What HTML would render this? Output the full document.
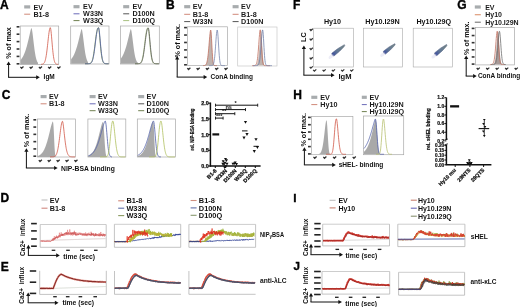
<!DOCTYPE html>
<html><head><meta charset="utf-8"><style>
html,body{margin:0;padding:0;background:#fff;}
svg{display:block;font-family:"Liberation Sans", sans-serif;filter:blur(0.35px);}
</style></head><body>
<svg width="520" height="307" viewBox="0 0 520 307">
<rect width="520" height="307" fill="#fff"/>
<text x="0.0" y="8.5" font-size="12.0" font-weight="bold" text-anchor="start" fill="#000" stroke="#000" stroke-width="0.35">A</text>
<rect x="24.2" y="5.3" width="6.0" height="3.2" fill="#a8acae" stroke="none" stroke-width="0.7"/>
<text x="33.4" y="9.6" font-size="7.2" font-weight="bold" text-anchor="start" fill="#1a1a1a">EV</text>
<line x1="24.2" y1="14.200000000000001" x2="30.2" y2="14.200000000000001" stroke="#d08878" stroke-width="1.0"/>
<text x="33.4" y="16.6" font-size="7.2" font-weight="bold" text-anchor="start" fill="#1a1a1a">B1-8</text>
<rect x="73.5" y="5.1000000000000005" width="6.0" height="3.2" fill="#a8acae" stroke="none" stroke-width="0.7"/>
<text x="83.1" y="9.4" font-size="7.2" font-weight="bold" text-anchor="start" fill="#1a1a1a">EV</text>
<line x1="73.5" y1="13.799999999999999" x2="79.5" y2="13.799999999999999" stroke="#6a6ab8" stroke-width="1.0"/>
<text x="83.1" y="16.2" font-size="7.2" font-weight="bold" text-anchor="start" fill="#1a1a1a">W33N</text>
<line x1="73.5" y1="20.6" x2="79.5" y2="20.6" stroke="#708050" stroke-width="1.0"/>
<text x="83.1" y="23.0" font-size="7.2" font-weight="bold" text-anchor="start" fill="#1a1a1a">W33Q</text>
<rect x="123.2" y="5.1000000000000005" width="6.0" height="3.2" fill="#a8acae" stroke="none" stroke-width="0.7"/>
<text x="132.4" y="9.4" font-size="7.2" font-weight="bold" text-anchor="start" fill="#1a1a1a">EV</text>
<line x1="123.2" y1="13.799999999999999" x2="129.2" y2="13.799999999999999" stroke="#555" stroke-width="1.0"/>
<text x="132.4" y="16.2" font-size="7.2" font-weight="bold" text-anchor="start" fill="#1a1a1a">D100N</text>
<line x1="123.2" y1="20.6" x2="129.2" y2="20.6" stroke="#a8c080" stroke-width="1.0"/>
<text x="132.4" y="23.0" font-size="7.2" font-weight="bold" text-anchor="start" fill="#1a1a1a">D100Q</text>
<rect x="20.2" y="26" width="38.5" height="38.599999999999994" fill="none" stroke="#a8a8a8" stroke-width="0.7"/>
<rect x="16.6" y="26.0" width="2.8" height="1.6" fill="#333" stroke="none" stroke-width="0.7"/>
<rect x="16.6" y="33.400000000000006" width="2.8" height="1.6" fill="#333" stroke="none" stroke-width="0.7"/>
<rect x="16.6" y="40.8" width="2.8" height="1.6" fill="#333" stroke="none" stroke-width="0.7"/>
<rect x="16.6" y="48.2" width="2.8" height="1.6" fill="#333" stroke="none" stroke-width="0.7"/>
<rect x="16.6" y="55.599999999999994" width="2.8" height="1.6" fill="#333" stroke="none" stroke-width="0.7"/>
<rect x="16.6" y="63.0" width="2.8" height="1.6" fill="#333" stroke="none" stroke-width="0.7"/>
<path d="M20.40,66.90 L21.60,68.30 L23.50,66.50" fill="none" stroke="#333" stroke-width="1.25"/>
<path d="M29.65,66.90 L30.85,68.30 L32.75,66.50" fill="none" stroke="#333" stroke-width="1.25"/>
<path d="M38.90,66.90 L40.10,68.30 L42.00,66.50" fill="none" stroke="#333" stroke-width="1.25"/>
<path d="M48.15,66.90 L49.35,68.30 L51.25,66.50" fill="none" stroke="#333" stroke-width="1.25"/>
<path d="M57.40,66.90 L58.60,68.30 L60.50,66.50" fill="none" stroke="#333" stroke-width="1.25"/>
<rect x="70.7" y="26" width="38.3" height="38" fill="none" stroke="#a8a8a8" stroke-width="0.7"/>
<rect x="120.5" y="26" width="38.80000000000001" height="38" fill="none" stroke="#a8a8a8" stroke-width="0.7"/>
<path d="M20.50,60.06 L20.75,59.78 L21.00,59.48 L21.25,59.17 L21.50,58.84 L21.75,58.49 L22.00,58.12 L22.25,57.73 L22.50,57.32 L22.75,56.89 L23.00,56.43 L23.25,55.96 L23.50,55.45 L23.75,54.93 L24.00,54.37 L24.25,53.79 L24.50,53.18 L24.75,52.55 L25.00,51.89 L25.25,51.19 L25.50,50.47 L25.75,49.72 L26.00,48.94 L26.25,48.12 L26.50,47.28 L26.75,46.41 L27.00,45.50 L27.25,44.57 L27.50,43.61 L27.75,42.62 L28.00,41.61 L28.25,40.57 L28.50,39.52 L28.75,38.44 L29.00,37.35 L29.25,36.25 L29.50,35.14 L29.75,34.04 L30.00,32.94 L30.25,31.87 L30.50,30.83 L30.75,29.85 L31.00,28.95 L31.25,28.20 L31.50,27.99 L31.75,28.69 L32.00,29.85 L32.25,31.34 L32.50,33.09 L32.75,35.03 L33.00,37.09 L33.25,39.22 L33.50,41.37 L33.75,43.49 L34.00,45.57 L34.25,47.55 L34.50,49.44 L34.75,51.20 L35.00,52.83 L35.25,54.33 L35.50,55.68 L35.75,56.90 L36.00,57.99 L36.25,58.95 L36.50,59.79 L36.75,60.52 L37.00,61.15 L37.25,61.69 L37.50,62.15 L37.75,62.54 L38.00,62.87 L38.00,64.30 L20.50,64.30 Z" fill="#a9a9a9" stroke="none" stroke-width="0.3"/>
<path d="M41.00,64.28 L41.25,64.27 L41.50,64.26 L41.75,64.24 L42.00,64.21 L42.25,64.17 L42.50,64.11 L42.75,64.04 L43.00,63.94 L43.25,63.81 L43.50,63.64 L43.75,63.41 L44.00,63.13 L44.25,62.77 L44.50,62.32 L44.75,61.77 L45.00,61.10 L45.25,60.29 L45.50,59.33 L45.75,58.22 L46.00,56.93 L46.25,55.46 L46.50,53.82 L46.75,52.01 L47.00,50.04 L47.25,47.93 L47.50,45.72 L47.75,43.43 L48.00,41.11 L48.25,38.82 L48.50,36.60 L48.75,34.51 L49.00,32.61 L49.25,30.95 L49.50,29.58 L49.75,28.55 L50.00,27.89 L50.25,27.61 L50.50,27.99 L50.75,29.24 L51.00,31.13 L51.25,33.50 L51.50,36.20 L51.75,39.09 L52.00,42.04 L52.25,44.95 L52.50,47.73 L52.75,50.32 L53.00,52.68 L53.25,54.77 L53.50,56.60 L53.75,58.16 L54.00,59.47 L54.25,60.55 L54.50,61.43 L54.75,62.13 L55.00,62.68 L55.25,63.10 L55.50,63.43 L55.75,63.67 L56.00,63.86 L56.25,63.99 L56.50,64.08 L56.75,64.15 L57.00,64.20 L57.25,64.23 L57.50,64.26 L57.75,64.27 L58.00,64.28 L58.25,64.29 L58.30,64.29" fill="none" stroke="#d05848" stroke-width="0.8"/>
<path d="M71.10,59.22 L71.35,58.93 L71.60,58.62 L71.85,58.30 L72.10,57.95 L72.35,57.59 L72.60,57.20 L72.85,56.80 L73.10,56.38 L73.35,55.93 L73.60,55.46 L73.85,54.97 L74.10,54.45 L74.35,53.91 L74.60,53.34 L74.85,52.74 L75.10,52.12 L75.35,51.47 L75.60,50.80 L75.85,50.09 L76.10,49.36 L76.35,48.59 L76.60,47.80 L76.85,46.98 L77.10,46.13 L77.35,45.25 L77.60,44.35 L77.85,43.42 L78.10,42.46 L78.35,41.48 L78.60,40.48 L78.85,39.46 L79.10,38.43 L79.35,37.38 L79.60,36.33 L79.85,35.27 L80.10,34.22 L80.35,33.19 L80.60,32.19 L80.85,31.22 L81.10,30.33 L81.35,29.55 L81.60,29.00 L81.85,29.43 L82.10,30.37 L82.35,31.68 L82.60,33.26 L82.85,35.04 L83.10,36.96 L83.35,38.97 L83.60,41.02 L83.85,43.06 L84.10,45.06 L84.35,46.99 L84.60,48.83 L84.85,50.55 L85.10,52.16 L85.35,53.64 L85.60,54.98 L85.85,56.20 L86.10,57.28 L86.35,58.25 L86.60,59.09 L86.85,59.83 L87.10,60.47 L87.35,61.02 L87.60,61.49 L87.85,61.88 L88.00,62.09 L88.00,63.70 L71.10,63.70 Z" fill="#a9a9a9" stroke="none" stroke-width="0.3"/>
<path d="M85.00,63.70 L85.25,63.70 L85.50,63.70 L85.75,63.70 L86.00,63.70 L86.25,63.70 L86.50,63.70 L86.75,63.70 L87.00,63.70 L87.25,63.70 L87.50,63.70 L87.75,63.69 L88.00,63.69 L88.25,63.68 L88.50,63.67 L88.75,63.66 L89.00,63.64 L89.25,63.61 L89.50,63.57 L89.75,63.52 L90.00,63.44 L90.25,63.34 L90.50,63.21 L90.75,63.03 L91.00,62.81 L91.25,62.52 L91.50,62.15 L91.75,61.70 L92.00,61.15 L92.25,60.48 L92.50,59.69 L92.75,58.76 L93.00,57.68 L93.25,56.46 L93.50,55.09 L93.75,53.57 L94.00,51.91 L94.25,50.12 L94.50,48.24 L94.75,46.27 L95.00,44.25 L95.25,42.21 L95.50,40.19 L95.75,38.22 L96.00,36.35 L96.25,34.60 L96.50,33.00 L96.75,31.59 L97.00,30.39 L97.25,29.40 L97.50,28.63 L97.75,28.09 L98.00,27.76 L98.25,27.62 L98.50,27.71 L98.75,28.61 L99.00,30.21 L99.25,32.33 L99.50,34.83 L99.75,37.57 L100.00,40.43 L100.25,43.29 L100.50,46.06 L100.75,48.68 L101.00,51.09 L101.25,53.26 L101.50,55.18 L101.75,56.84 L102.00,58.24 L102.25,59.42 L102.50,60.39 L102.75,61.17 L103.00,61.79 L103.25,62.27 L103.50,62.65 L103.75,62.94 L104.00,63.15 L104.25,63.31 L104.50,63.43 L104.75,63.51 L105.00,63.57 L105.25,63.61 L105.50,63.64 L105.75,63.66 L106.00,63.67 L106.25,63.68 L106.50,63.69 L106.75,63.69 L107.00,63.70 L107.25,63.70 L107.50,63.70 L107.75,63.70 L108.00,63.70 L108.25,63.70 L108.50,63.70 L108.60,63.70" fill="none" stroke="#7a9040" stroke-width="0.8"/>
<path d="M85.00,63.70 L85.25,63.70 L85.50,63.70 L85.75,63.70 L86.00,63.70 L86.25,63.70 L86.50,63.70 L86.75,63.70 L87.00,63.70 L87.25,63.70 L87.50,63.70 L87.75,63.70 L88.00,63.69 L88.25,63.69 L88.50,63.68 L88.75,63.67 L89.00,63.66 L89.25,63.64 L89.50,63.61 L89.75,63.56 L90.00,63.51 L90.25,63.43 L90.50,63.32 L90.75,63.18 L91.00,63.00 L91.25,62.76 L91.50,62.46 L91.75,62.08 L92.00,61.61 L92.25,61.04 L92.50,60.35 L92.75,59.54 L93.00,58.58 L93.25,57.49 L93.50,56.24 L93.75,54.84 L94.00,53.30 L94.25,51.63 L94.50,49.83 L94.75,47.94 L95.00,45.97 L95.25,43.95 L95.50,41.93 L95.75,39.92 L96.00,37.98 L96.25,36.14 L96.50,34.43 L96.75,32.88 L97.00,31.51 L97.25,30.36 L97.50,29.42 L97.75,28.70 L98.00,28.21 L98.25,27.92 L98.50,27.81 L98.75,28.02 L99.00,29.08 L99.25,30.78 L99.50,32.98 L99.75,35.52 L100.00,38.28 L100.25,41.13 L100.50,43.96 L100.75,46.69 L101.00,49.26 L101.25,51.61 L101.50,53.72 L101.75,55.58 L102.00,57.17 L102.25,58.53 L102.50,59.65 L102.75,60.57 L103.00,61.32 L103.25,61.90 L103.50,62.36 L103.75,62.72 L104.00,62.99 L104.25,63.19 L104.50,63.34 L104.75,63.45 L105.00,63.52 L105.25,63.58 L105.50,63.62 L105.75,63.65 L106.00,63.66 L106.25,63.68 L106.50,63.68 L106.75,63.69 L107.00,63.69 L107.25,63.70 L107.50,63.70 L107.75,63.70 L108.00,63.70 L108.25,63.70 L108.50,63.70 L108.60,63.70" fill="none" stroke="#5060a8" stroke-width="0.8"/>
<path d="M120.90,58.49 L121.15,58.16 L121.40,57.81 L121.65,57.44 L121.90,57.05 L122.15,56.63 L122.40,56.20 L122.65,55.74 L122.90,55.27 L123.15,54.76 L123.40,54.24 L123.65,53.68 L123.90,53.10 L124.15,52.50 L124.40,51.87 L124.65,51.21 L124.90,50.52 L125.15,49.80 L125.40,49.05 L125.65,48.28 L125.90,47.48 L126.15,46.64 L126.40,45.78 L126.65,44.89 L126.90,43.98 L127.15,43.04 L127.40,42.07 L127.65,41.08 L127.90,40.07 L128.15,39.05 L128.40,38.01 L128.65,36.96 L128.90,35.90 L129.15,34.85 L129.40,33.81 L129.65,32.79 L129.90,31.80 L130.15,30.86 L130.40,30.00 L130.65,29.28 L130.90,29.09 L131.15,29.75 L131.40,30.85 L131.65,32.28 L131.90,33.95 L132.15,35.80 L132.40,37.76 L132.65,39.79 L132.90,41.84 L133.15,43.87 L133.40,45.84 L133.65,47.74 L133.90,49.53 L134.15,51.21 L134.40,52.77 L134.65,54.19 L134.90,55.48 L135.15,56.65 L135.40,57.68 L135.65,58.60 L135.90,59.40 L136.15,60.10 L136.40,60.70 L136.65,61.21 L136.90,61.65 L137.15,62.02 L137.40,62.34 L137.65,62.60 L137.90,62.81 L138.00,62.89 L138.00,63.70 L120.90,63.70 Z" fill="#a9a9a9" stroke="none" stroke-width="0.3"/>
<path d="M135.00,63.70 L135.25,63.70 L135.50,63.70 L135.75,63.70 L136.00,63.70 L136.25,63.70 L136.50,63.70 L136.75,63.70 L137.00,63.70 L137.25,63.69 L137.50,63.69 L137.75,63.69 L138.00,63.68 L138.25,63.67 L138.50,63.65 L138.75,63.63 L139.00,63.59 L139.25,63.54 L139.50,63.48 L139.75,63.39 L140.00,63.27 L140.25,63.11 L140.50,62.91 L140.75,62.65 L141.00,62.32 L141.25,61.90 L141.50,61.39 L141.75,60.78 L142.00,60.04 L142.25,59.17 L142.50,58.16 L142.75,57.01 L143.00,55.70 L143.25,54.25 L143.50,52.65 L143.75,50.92 L144.00,49.08 L144.25,47.16 L144.50,45.16 L144.75,43.14 L145.00,41.12 L145.25,39.14 L145.50,37.23 L145.75,35.44 L146.00,33.79 L146.25,32.31 L146.50,31.03 L146.75,29.96 L147.00,29.11 L147.25,28.48 L147.50,28.07 L147.75,27.85 L148.00,27.80 L148.25,28.35 L148.50,29.69 L148.75,31.61 L149.00,33.96 L149.25,36.61 L149.50,39.41 L149.75,42.27 L150.00,45.07 L150.25,47.74 L150.50,50.23 L150.75,52.49 L151.00,54.49 L151.25,56.24 L151.50,57.74 L151.75,59.00 L152.00,60.04 L152.25,60.89 L152.50,61.57 L152.75,62.10 L153.00,62.52 L153.25,62.84 L153.50,63.08 L153.75,63.25 L154.00,63.39 L154.25,63.48 L154.50,63.55 L154.75,63.60 L155.00,63.63 L155.25,63.65 L155.50,63.67 L155.75,63.68 L156.00,63.69 L156.25,63.69 L156.50,63.69 L156.75,63.70 L157.00,63.70 L157.25,63.70 L157.50,63.70 L157.75,63.70 L158.00,63.70 L158.25,63.70 L158.50,63.70 L158.75,63.70 L158.90,63.70" fill="none" stroke="#a8c080" stroke-width="0.8"/>
<path d="M135.00,63.70 L135.25,63.70 L135.50,63.70 L135.75,63.70 L136.00,63.70 L136.25,63.70 L136.50,63.70 L136.75,63.70 L137.00,63.70 L137.25,63.70 L137.50,63.69 L137.75,63.69 L138.00,63.69 L138.25,63.68 L138.50,63.67 L138.75,63.65 L139.00,63.63 L139.25,63.60 L139.50,63.56 L139.75,63.49 L140.00,63.41 L140.25,63.30 L140.50,63.15 L140.75,62.96 L141.00,62.71 L141.25,62.39 L141.50,62.00 L141.75,61.52 L142.00,60.93 L142.25,60.22 L142.50,59.38 L142.75,58.41 L143.00,57.29 L143.25,56.02 L143.50,54.60 L143.75,53.04 L144.00,51.35 L144.25,49.54 L144.50,47.64 L144.75,45.67 L145.00,43.66 L145.25,41.65 L145.50,39.67 L145.75,37.75 L146.00,35.94 L146.25,34.27 L146.50,32.76 L146.75,31.45 L147.00,30.34 L147.25,29.45 L147.50,28.78 L147.75,28.33 L148.00,28.08 L148.25,28.00 L148.50,28.37 L148.75,29.56 L149.00,31.37 L149.25,33.63 L149.50,36.22 L149.75,38.98 L150.00,41.82 L150.25,44.62 L150.50,47.31 L150.75,49.83 L151.00,52.12 L151.25,54.17 L151.50,55.96 L151.75,57.50 L152.00,58.80 L152.25,59.87 L152.50,60.75 L152.75,61.46 L153.00,62.02 L153.25,62.45 L153.50,62.78 L153.75,63.04 L154.00,63.23 L154.25,63.36 L154.50,63.47 L154.75,63.54 L155.00,63.59 L155.25,63.63 L155.50,63.65 L155.75,63.67 L156.00,63.68 L156.25,63.69 L156.50,63.69 L156.75,63.69 L157.00,63.70 L157.25,63.70 L157.50,63.70 L157.75,63.70 L158.00,63.70 L158.25,63.70 L158.50,63.70 L158.75,63.70 L158.90,63.70" fill="none" stroke="#555" stroke-width="0.8"/>
<text x="10.6" y="43" font-size="7.2" font-weight="bold" text-anchor="middle" fill="#111" transform="rotate(-90 10.6 43)">% of max</text>
<line x1="8.6" y1="77.3" x2="8.6" y2="64.5" stroke="#111" stroke-width="1.0"/>
<path d="M6.5,65.1 L8.6,61.5 L10.7,65.1 Z" fill="#111" stroke="none" stroke-width="1"/>
<line x1="8.1" y1="77.3" x2="36.8" y2="77.3" stroke="#111" stroke-width="1.0"/>
<path d="M36.199999999999996,75.2 L39.8,77.3 L36.199999999999996,79.39999999999999 Z" fill="#111" stroke="none" stroke-width="1"/>
<text x="43.6" y="79" font-size="7.4" font-weight="bold" text-anchor="start" fill="#111" textLength="11.2" lengthAdjust="spacingAndGlyphs">IgM</text>
<text x="165.92" y="9.0" font-size="12.0" font-weight="bold" text-anchor="start" fill="#000" stroke="#000" stroke-width="0.35">B</text>
<rect x="184.2" y="5.1000000000000005" width="6.0" height="3.2" fill="#a8acae" stroke="none" stroke-width="0.7"/>
<text x="192.7" y="9.4" font-size="7.2" font-weight="bold" text-anchor="start" fill="#1a1a1a">EV</text>
<line x1="184.2" y1="14.299999999999999" x2="190.2" y2="14.299999999999999" stroke="#d08878" stroke-width="1.0"/>
<text x="192.7" y="16.7" font-size="7.2" font-weight="bold" text-anchor="start" fill="#1a1a1a">B1-8</text>
<line x1="184.2" y1="21.6" x2="190.2" y2="21.6" stroke="#555" stroke-width="1.0"/>
<text x="192.7" y="24.0" font-size="7.2" font-weight="bold" text-anchor="start" fill="#1a1a1a">W33N</text>
<rect x="232.6" y="5.1000000000000005" width="6.0" height="3.2" fill="#a8acae" stroke="none" stroke-width="0.7"/>
<text x="241.1" y="9.4" font-size="7.2" font-weight="bold" text-anchor="start" fill="#1a1a1a">EV</text>
<line x1="232.6" y1="14.299999999999999" x2="238.6" y2="14.299999999999999" stroke="#d08878" stroke-width="1.0"/>
<text x="241.1" y="16.7" font-size="7.2" font-weight="bold" text-anchor="start" fill="#1a1a1a">B1-8</text>
<line x1="232.6" y1="21.6" x2="238.6" y2="21.6" stroke="#555" stroke-width="1.0"/>
<text x="241.1" y="24.0" font-size="7.2" font-weight="bold" text-anchor="start" fill="#1a1a1a">D100N</text>
<rect x="187.6" y="26.8" width="39.900000000000006" height="38.8" fill="none" stroke="#a8a8a8" stroke-width="0.7"/>
<rect x="184.1" y="26.8" width="2.8" height="1.6" fill="#333" stroke="none" stroke-width="0.7"/>
<rect x="184.1" y="34.24" width="2.8" height="1.6" fill="#333" stroke="none" stroke-width="0.7"/>
<rect x="184.1" y="41.68000000000001" width="2.8" height="1.6" fill="#333" stroke="none" stroke-width="0.7"/>
<rect x="184.1" y="49.120000000000005" width="2.8" height="1.6" fill="#333" stroke="none" stroke-width="0.7"/>
<rect x="184.1" y="56.56" width="2.8" height="1.6" fill="#333" stroke="none" stroke-width="0.7"/>
<rect x="184.1" y="64.0" width="2.8" height="1.6" fill="#333" stroke="none" stroke-width="0.7"/>
<path d="M187.30,68.10 L188.50,69.50 L190.40,67.70" fill="none" stroke="#333" stroke-width="1.25"/>
<path d="M196.60,68.10 L197.80,69.50 L199.70,67.70" fill="none" stroke="#333" stroke-width="1.25"/>
<path d="M205.90,68.10 L207.10,69.50 L209.00,67.70" fill="none" stroke="#333" stroke-width="1.25"/>
<path d="M215.20,68.10 L216.40,69.50 L218.30,67.70" fill="none" stroke="#333" stroke-width="1.25"/>
<path d="M224.50,68.10 L225.70,69.50 L227.60,67.70" fill="none" stroke="#333" stroke-width="1.25"/>
<rect x="237.7" y="27" width="39.30000000000001" height="39" fill="none" stroke="#c8c8c8" stroke-width="0.7"/>
<path d="M203.00,65.59 L203.25,65.59 L203.50,65.58 L203.75,65.57 L204.00,65.55 L204.25,65.52 L204.50,65.48 L204.75,65.43 L205.00,65.34 L205.25,65.22 L205.50,65.05 L205.75,64.82 L206.00,64.50 L206.25,64.08 L206.50,63.52 L206.75,62.80 L207.00,61.89 L207.25,60.75 L207.50,59.36 L207.75,57.69 L208.00,55.73 L208.25,53.47 L208.50,50.94 L208.75,48.16 L209.00,45.22 L209.25,42.18 L209.50,39.17 L209.75,36.33 L210.00,33.80 L210.25,31.77 L210.50,30.42 L210.75,30.04 L211.00,31.30 L211.25,34.18 L211.50,38.27 L211.75,43.03 L212.00,47.89 L212.25,52.41 L212.50,56.27 L212.75,59.33 L213.00,61.60 L213.25,63.18 L213.50,64.21 L213.75,64.84 L214.00,65.20 L214.25,65.41 L214.50,65.51 L214.75,65.56 L215.00,65.58 L215.25,65.59 L215.50,65.60 L215.75,65.60 L216.00,65.60 L216.25,65.60 L216.50,65.60 L216.75,65.60 L217.00,65.60 L217.00,65.60 L203.00,65.60 Z" fill="#bfb3ae" stroke="none" stroke-width="0.3"/>
<path d="M203.00,65.59 L203.25,65.59 L203.50,65.58 L203.75,65.57 L204.00,65.55 L204.25,65.52 L204.50,65.48 L204.75,65.43 L205.00,65.34 L205.25,65.22 L205.50,65.05 L205.75,64.82 L206.00,64.50 L206.25,64.08 L206.50,63.52 L206.75,62.80 L207.00,61.89 L207.25,60.75 L207.50,59.36 L207.75,57.69 L208.00,55.73 L208.25,53.47 L208.50,50.94 L208.75,48.16 L209.00,45.22 L209.25,42.18 L209.50,39.17 L209.75,36.33 L210.00,33.80 L210.25,31.77 L210.50,30.42 L210.75,30.04 L211.00,31.30 L211.25,34.18 L211.50,38.27 L211.75,43.03 L212.00,47.89 L212.25,52.41 L212.50,56.27 L212.75,59.33 L213.00,61.60 L213.25,63.18 L213.50,64.21 L213.75,64.84 L214.00,65.20 L214.25,65.41 L214.50,65.51 L214.75,65.56 L215.00,65.58 L215.25,65.59 L215.50,65.60 L215.75,65.60 L216.00,65.60 L216.25,65.60 L216.50,65.60 L216.75,65.60 L217.00,65.60" fill="none" stroke="#c07060" stroke-width="0.8"/>
<path d="M209.00,65.60 L209.25,65.60 L209.50,65.60 L209.75,65.60 L210.00,65.60 L210.25,65.60 L210.50,65.60 L210.75,65.60 L211.00,65.59 L211.25,65.59 L211.50,65.57 L211.75,65.55 L212.00,65.51 L212.25,65.45 L212.50,65.34 L212.75,65.16 L213.00,64.89 L213.25,64.49 L213.50,63.90 L213.75,63.07 L214.00,61.94 L214.25,60.45 L214.50,58.55 L214.75,56.22 L215.00,53.46 L215.25,50.31 L215.50,46.87 L215.75,43.29 L216.00,39.75 L216.25,36.47 L216.50,33.67 L216.75,31.57 L217.00,30.32 L217.25,30.03 L217.50,30.94 L217.75,33.05 L218.00,36.14 L218.25,39.91 L218.50,44.01 L218.75,48.11 L219.00,51.95 L219.25,55.33 L219.50,58.16 L219.75,60.40 L220.00,62.10 L220.25,63.33 L220.50,64.18 L220.75,64.74 L221.00,65.10 L221.25,65.32 L221.50,65.45 L221.75,65.52 L222.00,65.56 L222.25,65.58 L222.50,65.59 L222.75,65.60 L223.00,65.60 L223.25,65.60 L223.50,65.60 L223.75,65.60 L224.00,65.60 L224.25,65.60 L224.50,65.60 L224.75,65.60 L225.00,65.60" fill="none" stroke="#7888b0" stroke-width="0.8"/>
<path d="M252.00,65.60 L252.25,65.60 L252.50,65.60 L252.75,65.60 L253.00,65.60 L253.25,65.60 L253.50,65.60 L253.75,65.60 L254.00,65.60 L254.25,65.59 L254.50,65.59 L254.75,65.58 L255.00,65.56 L255.25,65.54 L255.50,65.50 L255.75,65.44 L256.00,65.35 L256.25,65.21 L256.50,65.01 L256.75,64.72 L257.00,64.32 L257.25,63.76 L257.50,63.00 L257.75,62.00 L258.00,60.71 L258.25,59.09 L258.50,57.11 L258.75,54.76 L259.00,52.03 L259.25,48.97 L259.50,45.67 L259.75,42.25 L260.00,38.88 L260.25,35.77 L260.50,33.15 L260.75,31.28 L261.00,30.50 L261.25,31.25 L261.50,33.42 L261.75,36.73 L262.00,40.80 L262.25,45.20 L262.50,49.53 L262.75,53.48 L263.00,56.85 L263.25,59.55 L263.50,61.59 L263.75,63.06 L264.00,64.06 L264.25,64.70 L264.50,65.10 L264.75,65.33 L265.00,65.46 L265.25,65.53 L265.50,65.57 L265.75,65.59 L266.00,65.59 L266.25,65.60 L266.50,65.60 L266.75,65.60 L267.00,65.60 L267.25,65.60 L267.50,65.60 L267.75,65.60 L268.00,65.60 L268.25,65.60 L268.50,65.60 L268.75,65.60 L269.00,65.60 L269.25,65.60 L269.50,65.60 L269.75,65.60 L270.00,65.60 L270.00,65.60 L252.00,65.60 Z" fill="#bfb3ae" stroke="none" stroke-width="0.3"/>
<path d="M252.00,65.60 L252.25,65.60 L252.50,65.60 L252.75,65.60 L253.00,65.60 L253.25,65.60 L253.50,65.59 L253.75,65.59 L254.00,65.58 L254.25,65.56 L254.50,65.53 L254.75,65.49 L255.00,65.42 L255.25,65.32 L255.50,65.17 L255.75,64.95 L256.00,64.63 L256.25,64.19 L256.50,63.58 L256.75,62.76 L257.00,61.69 L257.25,60.31 L257.50,58.59 L257.75,56.49 L258.00,54.01 L258.25,51.16 L258.50,47.98 L258.75,44.58 L259.00,41.09 L259.25,37.69 L259.50,34.59 L259.75,32.05 L260.00,30.34 L260.25,29.83 L260.50,30.90 L260.75,33.37 L261.00,36.93 L261.25,41.19 L261.50,45.69 L261.75,50.05 L262.00,53.98 L262.25,57.28 L262.50,59.90 L262.75,61.86 L263.00,63.25 L263.25,64.18 L263.50,64.78 L263.75,65.15 L264.00,65.36 L264.25,65.48 L264.50,65.54 L264.75,65.57 L265.00,65.59 L265.25,65.59 L265.50,65.60 L265.75,65.60 L266.00,65.60 L266.25,65.60 L266.50,65.60 L266.75,65.60 L267.00,65.60 L267.25,65.60 L267.50,65.60 L267.75,65.60 L268.00,65.60 L268.25,65.60 L268.50,65.60 L268.75,65.60 L269.00,65.60 L269.25,65.60 L269.50,65.60 L269.75,65.60 L270.00,65.60" fill="none" stroke="#c07060" stroke-width="0.8"/>
<path d="M253.00,65.60 L253.25,65.60 L253.50,65.60 L253.75,65.60 L254.00,65.60 L254.25,65.60 L254.50,65.60 L254.75,65.60 L255.00,65.60 L255.25,65.60 L255.50,65.60 L255.75,65.59 L256.00,65.59 L256.25,65.58 L256.50,65.57 L256.75,65.55 L257.00,65.52 L257.25,65.47 L257.50,65.39 L257.75,65.27 L258.00,65.09 L258.25,64.84 L258.50,64.47 L258.75,63.97 L259.00,63.28 L259.25,62.37 L259.50,61.18 L259.75,59.67 L260.00,57.80 L260.25,55.55 L260.50,52.91 L260.75,49.92 L261.00,46.64 L261.25,43.19 L261.50,39.71 L261.75,36.40 L262.00,33.49 L262.25,31.25 L262.50,29.95 L262.75,30.08 L263.00,31.73 L263.25,34.68 L263.50,38.58 L263.75,42.98 L264.00,47.47 L264.25,51.69 L264.50,55.38 L264.75,58.41 L265.00,60.75 L265.25,62.47 L265.50,63.67 L265.75,64.46 L266.00,64.95 L266.25,65.25 L266.50,65.42 L266.75,65.51 L267.00,65.56 L267.25,65.58 L267.50,65.59 L267.75,65.60 L268.00,65.60 L268.25,65.60 L268.50,65.60 L268.75,65.60 L269.00,65.60 L269.25,65.60 L269.50,65.60 L269.75,65.60 L270.00,65.60 L270.25,65.60 L270.50,65.60 L270.75,65.60 L271.00,65.60 L271.25,65.60 L271.50,65.60 L271.75,65.60 L272.00,65.60" fill="none" stroke="#7080a8" stroke-width="0.8"/>
<text x="179.7" y="40.8" font-size="7.2" font-weight="bold" text-anchor="middle" fill="#111" transform="rotate(-90 179.7 40.8)">% of max.</text>
<line x1="177.2" y1="77.1" x2="177.2" y2="59.0" stroke="#111" stroke-width="1.0"/>
<path d="M175.1,59.6 L177.2,56.0 L179.29999999999998,59.6 Z" fill="#111" stroke="none" stroke-width="1"/>
<line x1="176.7" y1="77.1" x2="204.2" y2="77.1" stroke="#111" stroke-width="1.0"/>
<path d="M203.6,75.0 L207.2,77.1 L203.6,79.19999999999999 Z" fill="#111" stroke="none" stroke-width="1"/>
<text x="210.6" y="78.9" font-size="7.0" font-weight="bold" text-anchor="start" fill="#111" textLength="42.4" lengthAdjust="spacingAndGlyphs">ConA binding</text>
<text x="293.02" y="8.7" font-size="12.0" font-weight="bold" text-anchor="start" fill="#000" stroke="#000" stroke-width="0.35">F</text>
<text x="332.5" y="24" font-size="7.2" font-weight="bold" text-anchor="middle" fill="#111">Hy10</text>
<rect x="313.7" y="28.2" width="39.69999999999999" height="38.8" fill="none" stroke="#a8a8a8" stroke-width="0.6"/>
<text x="382.5" y="24" font-size="7.2" font-weight="bold" text-anchor="middle" fill="#111">Hy10.I29N</text>
<rect x="363.5" y="28.2" width="39.10000000000002" height="38.8" fill="none" stroke="#a8a8a8" stroke-width="0.6"/>
<text x="433.8" y="24" font-size="7.2" font-weight="bold" text-anchor="middle" fill="#111">Hy10.I29Q</text>
<rect x="413.2" y="28.2" width="39.10000000000002" height="38.8" fill="none" stroke="#a8a8a8" stroke-width="0.6"/>
<path d="M309.70,29.10 L310.90,30.50 L312.80,28.70" fill="none" stroke="#333" stroke-width="1.25"/>
<path d="M309.70,38.70 L310.90,40.10 L312.80,38.30" fill="none" stroke="#333" stroke-width="1.25"/>
<path d="M309.70,48.20 L310.90,49.60 L312.80,47.80" fill="none" stroke="#333" stroke-width="1.25"/>
<path d="M309.70,57.60 L310.90,59.00 L312.80,57.20" fill="none" stroke="#333" stroke-width="1.25"/>
<path d="M309.70,66.80 L310.90,68.20 L312.80,66.40" fill="none" stroke="#333" stroke-width="1.25"/>
<path d="M313.20,69.80 L314.40,71.20 L316.30,69.40" fill="none" stroke="#333" stroke-width="1.25"/>
<path d="M322.60,69.80 L323.80,71.20 L325.70,69.40" fill="none" stroke="#333" stroke-width="1.25"/>
<path d="M331.90,69.80 L333.10,71.20 L335.00,69.40" fill="none" stroke="#333" stroke-width="1.25"/>
<path d="M341.20,69.80 L342.40,71.20 L344.30,69.40" fill="none" stroke="#333" stroke-width="1.25"/>
<path d="M350.30,69.80 L351.50,71.20 L353.40,69.40" fill="none" stroke="#333" stroke-width="1.25"/>
<defs><linearGradient id="bg1" x1="0" y1="0" x2="1" y2="0"><stop offset="0" stop-color="#3a4aa0"/><stop offset="0.4" stop-color="#607896"/><stop offset="1" stop-color="#7a8c84"/></linearGradient></defs>
<path d="M0,-1.67 Q7.62,-2.04 15.24,-0.65 Q15.55,0.37 13.72,0.65 Q7.62,1.85 0,1.85 Q-1.67,0 0,-1.67 Z" fill="url(#bg1)" stroke="#505e80" stroke-width="0.5" transform="translate(332.8 54.6) rotate(-38.07)"/>
<ellipse cx="-2.5" cy="0.5" rx="3" ry="1.6" fill="#dcdcf0" opacity="0.5" transform="translate(332.8 54.6) rotate(-38.07)"/>
<defs><linearGradient id="bg2" x1="0" y1="0" x2="1" y2="0"><stop offset="0" stop-color="#3a4aa0"/><stop offset="0.4" stop-color="#607896"/><stop offset="1" stop-color="#7a8c84"/></linearGradient></defs>
<path d="M0,-1.67 Q6.84,-2.04 13.68,-0.65 Q13.96,0.37 12.31,0.65 Q6.84,1.85 0,1.85 Q-1.67,0 0,-1.67 Z" fill="url(#bg2)" stroke="#505e80" stroke-width="0.5" transform="translate(384.4 52.6) rotate(-37.87)"/>
<ellipse cx="-2.5" cy="0.5" rx="3" ry="1.6" fill="#dcdcf0" opacity="0.5" transform="translate(384.4 52.6) rotate(-37.87)"/>
<defs><linearGradient id="bg3" x1="0" y1="0" x2="1" y2="0"><stop offset="0" stop-color="#3a4aa0"/><stop offset="0.4" stop-color="#607896"/><stop offset="1" stop-color="#7a8c84"/></linearGradient></defs>
<path d="M0,-1.67 Q7.32,-2.04 14.65,-0.65 Q14.94,0.37 13.18,0.65 Q7.32,1.85 0,1.85 Q-1.67,0 0,-1.67 Z" fill="url(#bg3)" stroke="#505e80" stroke-width="0.5" transform="translate(435.6 54.2) rotate(-38.90)"/>
<ellipse cx="-2.5" cy="0.5" rx="3" ry="1.6" fill="#dcdcf0" opacity="0.5" transform="translate(435.6 54.2) rotate(-38.90)"/>
<text x="306.3" y="37.1" font-size="7.2" font-weight="bold" text-anchor="middle" fill="#111" transform="rotate(-90 306.3 37.1)">LC</text>
<line x1="303.9" y1="75.2" x2="303.9" y2="48.4" stroke="#111" stroke-width="1.0"/>
<path d="M301.79999999999995,49.0 L303.9,45.4 L306.0,49.0 Z" fill="#111" stroke="none" stroke-width="1"/>
<line x1="303.4" y1="75.2" x2="331.6" y2="75.2" stroke="#111" stroke-width="1.0"/>
<path d="M331.0,73.10000000000001 L334.6,75.2 L331.0,77.3 Z" fill="#111" stroke="none" stroke-width="1"/>
<text x="338.5" y="79" font-size="7.6" font-weight="bold" text-anchor="start" fill="#111">IgM</text>
<text x="457.27" y="8.7" font-size="12.0" font-weight="bold" text-anchor="start" fill="#000" stroke="#000" stroke-width="0.35">G</text>
<rect x="474.8" y="5.3999999999999995" width="6.0" height="3.2" fill="#a8acae" stroke="none" stroke-width="0.7"/>
<text x="485.2" y="9.7" font-size="7.0" font-weight="bold" text-anchor="start" fill="#1a1a1a">EV</text>
<line x1="474.8" y1="14.749999999999998" x2="480.8" y2="14.749999999999998" stroke="#d88860" stroke-width="1.0"/>
<text x="485.2" y="17.15" font-size="7.0" font-weight="bold" text-anchor="start" fill="#1a1a1a">Hy10</text>
<line x1="474.8" y1="22.200000000000003" x2="480.8" y2="22.200000000000003" stroke="#666" stroke-width="1.0"/>
<text x="485.2" y="24.6" font-size="7.0" font-weight="bold" text-anchor="start" fill="#1a1a1a">Hy10.I29N</text>
<rect x="475.6" y="27.6" width="39.0" height="37.300000000000004" fill="none" stroke="#a8a8a8" stroke-width="0.7"/>
<rect x="471.70000000000005" y="27.6" width="2.8" height="1.6" fill="#333" stroke="none" stroke-width="0.7"/>
<rect x="471.70000000000005" y="34.74000000000001" width="2.8" height="1.6" fill="#333" stroke="none" stroke-width="0.7"/>
<rect x="471.70000000000005" y="41.88000000000001" width="2.8" height="1.6" fill="#333" stroke="none" stroke-width="0.7"/>
<rect x="471.70000000000005" y="49.02000000000001" width="2.8" height="1.6" fill="#333" stroke="none" stroke-width="0.7"/>
<rect x="471.70000000000005" y="56.16000000000001" width="2.8" height="1.6" fill="#333" stroke="none" stroke-width="0.7"/>
<rect x="471.70000000000005" y="63.30000000000001" width="2.8" height="1.6" fill="#333" stroke="none" stroke-width="0.7"/>
<path d="M476.70,68.00 L477.90,69.40 L479.80,67.60" fill="none" stroke="#333" stroke-width="1.25"/>
<path d="M486.20,68.00 L487.40,69.40 L489.30,67.60" fill="none" stroke="#333" stroke-width="1.25"/>
<path d="M495.70,68.00 L496.90,69.40 L498.80,67.60" fill="none" stroke="#333" stroke-width="1.25"/>
<path d="M505.20,68.00 L506.40,69.40 L508.30,67.60" fill="none" stroke="#333" stroke-width="1.25"/>
<path d="M514.70,68.00 L515.90,69.40 L517.80,67.60" fill="none" stroke="#333" stroke-width="1.25"/>
<path d="M492.00,64.49 L492.25,64.48 L492.50,64.46 L492.75,64.43 L493.00,64.38 L493.25,64.31 L493.50,64.19 L493.75,64.01 L494.00,63.75 L494.25,63.36 L494.50,62.81 L494.75,62.05 L495.00,61.03 L495.25,59.69 L495.50,57.99 L495.75,55.88 L496.00,53.36 L496.25,50.45 L496.50,47.22 L496.75,43.79 L497.00,40.34 L497.25,37.09 L497.50,34.33 L497.75,32.34 L498.00,31.50 L498.25,32.10 L498.50,33.85 L498.75,36.56 L499.00,39.95 L499.25,43.72 L499.50,47.54 L499.75,51.16 L500.00,54.39 L500.25,57.12 L500.50,59.31 L500.75,60.98 L501.00,62.20 L501.25,63.05 L501.50,63.62 L501.75,63.99 L502.00,64.21 L502.25,64.34 L502.50,64.42 L502.75,64.46 L503.00,64.48 L503.25,64.49 L503.50,64.50 L503.75,64.50 L504.00,64.50 L504.00,64.50 L492.00,64.50 Z" fill="#a89a98" stroke="none" stroke-width="0.3"/>
<path d="M490.00,64.50 L490.25,64.50 L490.50,64.49 L490.75,64.49 L491.00,64.48 L491.25,64.46 L491.50,64.44 L491.75,64.40 L492.00,64.33 L492.25,64.24 L492.50,64.10 L492.75,63.90 L493.00,63.60 L493.25,63.19 L493.50,62.62 L493.75,61.86 L494.00,60.86 L494.25,59.58 L494.50,57.98 L494.75,56.03 L495.00,53.72 L495.25,51.07 L495.50,48.11 L495.75,44.95 L496.00,41.70 L496.25,38.53 L496.50,35.65 L496.75,33.29 L497.00,31.70 L497.25,31.22 L497.50,32.07 L497.75,34.05 L498.00,36.94 L498.25,40.47 L498.50,44.30 L498.75,48.14 L499.00,51.73 L499.25,54.90 L499.50,57.54 L499.75,59.64 L500.00,61.23 L500.25,62.38 L500.50,63.17 L500.75,63.70 L501.00,64.04 L501.25,64.24 L501.50,64.36 L501.75,64.43 L502.00,64.46 L502.25,64.48 L502.50,64.49 L502.75,64.50 L503.00,64.50 L503.25,64.50 L503.50,64.50 L503.75,64.50 L504.00,64.50 L504.25,64.50 L504.50,64.50 L504.75,64.50 L505.00,64.50" fill="none" stroke="#c07060" stroke-width="0.8"/>
<path d="M491.00,64.50 L491.25,64.50 L491.50,64.50 L491.75,64.50 L492.00,64.50 L492.25,64.50 L492.50,64.50 L492.75,64.49 L493.00,64.49 L493.25,64.47 L493.50,64.46 L493.75,64.43 L494.00,64.39 L494.25,64.32 L494.50,64.22 L494.75,64.07 L495.00,63.84 L495.25,63.53 L495.50,63.09 L495.75,62.49 L496.00,61.68 L496.25,60.63 L496.50,59.29 L496.75,57.62 L497.00,55.60 L497.25,53.22 L497.50,50.50 L497.75,47.50 L498.00,44.30 L498.25,41.06 L498.50,37.93 L498.75,35.13 L499.00,32.90 L499.25,31.50 L499.50,31.28 L499.75,32.22 L500.00,34.12 L500.25,36.81 L500.50,40.04 L500.75,43.58 L501.00,47.17 L501.25,50.59 L501.50,53.69 L501.75,56.36 L502.00,58.56 L502.25,60.31 L502.50,61.63 L502.75,62.60 L503.00,63.28 L503.25,63.74 L503.50,64.04 L503.75,64.23 L504.00,64.35 L504.25,64.42 L504.50,64.46 L504.75,64.48 L505.00,64.49 L505.25,64.49 L505.50,64.50 L505.75,64.50 L506.00,64.50" fill="none" stroke="#707070" stroke-width="0.8"/>
<text x="468.6" y="38.2" font-size="7.2" font-weight="bold" text-anchor="middle" fill="#111" transform="rotate(-90 468.6 38.2)">% of max.</text>
<line x1="466.2" y1="76.1" x2="466.2" y2="58.4" stroke="#111" stroke-width="1.0"/>
<path d="M464.09999999999997,59.0 L466.2,55.4 L468.3,59.0 Z" fill="#111" stroke="none" stroke-width="1"/>
<line x1="465.7" y1="76.1" x2="473.7" y2="76.1" stroke="#111" stroke-width="1.0"/>
<path d="M473.09999999999997,74.0 L476.7,76.1 L473.09999999999997,78.19999999999999 Z" fill="#111" stroke="none" stroke-width="1"/>
<text x="477.9" y="78.3" font-size="7.0" font-weight="bold" text-anchor="start" fill="#111" textLength="42.4" lengthAdjust="spacingAndGlyphs">ConA binding</text>
<text x="1.77" y="99.4" font-size="12.0" font-weight="bold" text-anchor="start" fill="#000" stroke="#000" stroke-width="0.35">C</text>
<rect x="40.6" y="95.0" width="6.0" height="3.2" fill="#a8acae" stroke="none" stroke-width="0.7"/>
<text x="49.0" y="99.3" font-size="7.2" font-weight="bold" text-anchor="start" fill="#1a1a1a">EV</text>
<line x1="40.6" y1="103.8" x2="46.6" y2="103.8" stroke="#d08878" stroke-width="1.0"/>
<text x="49.0" y="106.2" font-size="7.2" font-weight="bold" text-anchor="start" fill="#1a1a1a">B1-8</text>
<rect x="89.6" y="95.0" width="6.0" height="3.2" fill="#a8acae" stroke="none" stroke-width="0.7"/>
<text x="98.0" y="99.3" font-size="7.2" font-weight="bold" text-anchor="start" fill="#1a1a1a">EV</text>
<line x1="89.6" y1="103.8" x2="95.6" y2="103.8" stroke="#6a6ab8" stroke-width="1.0"/>
<text x="98.0" y="106.2" font-size="7.2" font-weight="bold" text-anchor="start" fill="#1a1a1a">W33N</text>
<line x1="89.6" y1="110.69999999999999" x2="95.6" y2="110.69999999999999" stroke="#708050" stroke-width="1.0"/>
<text x="98.0" y="113.1" font-size="7.2" font-weight="bold" text-anchor="start" fill="#1a1a1a">W33Q</text>
<rect x="138.2" y="95.0" width="6.0" height="3.2" fill="#a8acae" stroke="none" stroke-width="0.7"/>
<text x="146.6" y="99.3" font-size="7.2" font-weight="bold" text-anchor="start" fill="#1a1a1a">EV</text>
<line x1="138.2" y1="103.8" x2="144.2" y2="103.8" stroke="#555" stroke-width="1.0"/>
<text x="146.6" y="106.2" font-size="7.2" font-weight="bold" text-anchor="start" fill="#1a1a1a">D100N</text>
<line x1="138.2" y1="110.69999999999999" x2="144.2" y2="110.69999999999999" stroke="#708050" stroke-width="1.0"/>
<text x="146.6" y="113.1" font-size="7.2" font-weight="bold" text-anchor="start" fill="#1a1a1a">D100Q</text>
<rect x="37.4" y="119" width="38.199999999999996" height="38" fill="none" stroke="#a8a8a8" stroke-width="0.7"/>
<rect x="33.4" y="119.0" width="2.8" height="1.6" fill="#333" stroke="none" stroke-width="0.7"/>
<rect x="33.4" y="126.28" width="2.8" height="1.6" fill="#333" stroke="none" stroke-width="0.7"/>
<rect x="33.4" y="133.55999999999997" width="2.8" height="1.6" fill="#333" stroke="none" stroke-width="0.7"/>
<rect x="33.4" y="140.83999999999997" width="2.8" height="1.6" fill="#333" stroke="none" stroke-width="0.7"/>
<rect x="33.4" y="148.11999999999998" width="2.8" height="1.6" fill="#333" stroke="none" stroke-width="0.7"/>
<rect x="33.4" y="155.39999999999998" width="2.8" height="1.6" fill="#333" stroke="none" stroke-width="0.7"/>
<path d="M38.80,160.10 L40.00,161.50 L41.90,159.70" fill="none" stroke="#333" stroke-width="1.25"/>
<path d="M47.70,160.10 L48.90,161.50 L50.80,159.70" fill="none" stroke="#333" stroke-width="1.25"/>
<path d="M56.60,160.10 L57.80,161.50 L59.70,159.70" fill="none" stroke="#333" stroke-width="1.25"/>
<path d="M65.50,160.10 L66.70,161.50 L68.60,159.70" fill="none" stroke="#333" stroke-width="1.25"/>
<path d="M74.40,160.10 L75.60,161.50 L77.50,159.70" fill="none" stroke="#333" stroke-width="1.25"/>
<rect x="87.9" y="119" width="37.89999999999999" height="38" fill="none" stroke="#a8a8a8" stroke-width="0.7"/>
<rect x="137.3" y="119" width="38.099999999999994" height="38" fill="none" stroke="#a8a8a8" stroke-width="0.7"/>
<path d="M37.80,155.96 L38.05,155.88 L38.30,155.78 L38.55,155.68 L38.80,155.56 L39.05,155.44 L39.30,155.31 L39.55,155.17 L39.80,155.01 L40.05,154.85 L40.30,154.67 L40.55,154.48 L40.80,154.27 L41.05,154.05 L41.30,153.82 L41.55,153.56 L41.80,153.29 L42.05,153.00 L42.30,152.69 L42.55,152.36 L42.80,152.01 L43.05,151.63 L43.30,151.24 L43.55,150.82 L43.80,150.37 L44.05,149.90 L44.30,149.40 L44.55,148.87 L44.80,148.32 L45.05,147.73 L45.30,147.12 L45.55,146.48 L45.80,145.81 L46.05,145.10 L46.30,144.37 L46.55,143.61 L46.80,142.81 L47.05,141.99 L47.30,141.14 L47.55,140.26 L47.80,139.35 L48.05,138.42 L48.30,137.46 L48.55,136.48 L48.80,135.49 L49.05,134.48 L49.30,133.46 L49.55,132.42 L49.80,131.39 L50.05,130.35 L50.30,129.33 L50.55,128.31 L50.80,127.32 L51.05,126.36 L51.30,125.43 L51.55,124.55 L51.80,123.74 L52.05,123.00 L52.30,122.37 L52.55,121.87 L52.80,121.60 L53.05,121.95 L53.30,123.52 L53.55,126.65 L53.80,131.19 L54.05,136.61 L54.30,142.16 L54.55,147.13 L54.80,151.02 L55.05,153.72 L55.30,155.36 L55.55,156.24 L55.80,156.65 L56.00,156.79 L56.00,156.90 L37.80,156.90 Z" fill="#a9a9a9" stroke="none" stroke-width="0.3"/>
<path d="M50.00,156.90 L50.25,156.90 L50.50,156.90 L50.75,156.90 L51.00,156.90 L51.25,156.89 L51.50,156.89 L51.75,156.89 L52.00,156.88 L52.25,156.87 L52.50,156.86 L52.75,156.85 L53.00,156.83 L53.25,156.80 L53.50,156.77 L53.75,156.72 L54.00,156.67 L54.25,156.59 L54.50,156.49 L54.75,156.36 L55.00,156.20 L55.25,156.00 L55.50,155.75 L55.75,155.44 L56.00,155.07 L56.25,154.62 L56.50,154.08 L56.75,153.45 L57.00,152.71 L57.25,151.85 L57.50,150.86 L57.75,149.75 L58.00,148.49 L58.25,147.10 L58.50,145.58 L58.75,143.93 L59.00,142.16 L59.25,140.30 L59.50,138.35 L59.75,136.36 L60.00,134.34 L60.25,132.33 L60.50,130.38 L60.75,128.52 L61.00,126.79 L61.25,125.24 L61.50,123.90 L61.75,122.80 L62.00,121.99 L62.25,121.48 L62.50,121.30 L62.75,121.94 L63.00,123.23 L63.25,124.92 L63.50,126.89 L63.75,129.04 L64.00,131.30 L64.25,133.58 L64.50,135.85 L64.75,138.05 L65.00,140.15 L65.25,142.13 L65.50,143.97 L65.75,145.67 L66.00,147.20 L66.25,148.59 L66.50,149.82 L66.75,150.90 L67.00,151.86 L67.25,152.68 L67.50,153.39 L67.75,154.00 L68.00,154.52 L68.25,154.95 L68.50,155.32 L68.75,155.62 L69.00,155.87 L69.25,156.08 L69.50,156.25 L69.75,156.38 L70.00,156.49 L70.25,156.58 L70.50,156.65 L70.75,156.71 L71.00,156.75 L71.25,156.79 L71.50,156.81 L71.75,156.83 L72.00,156.85 L72.25,156.86 L72.50,156.87 L72.75,156.88 L73.00,156.88 L73.25,156.89 L73.50,156.89 L73.75,156.89 L74.00,156.90 L74.25,156.90 L74.50,156.90 L74.75,156.90 L75.00,156.90 L75.20,156.90" fill="none" stroke="#d05848" stroke-width="0.8"/>
<path d="M88.30,155.79 L88.55,155.69 L88.80,155.58 L89.05,155.46 L89.30,155.33 L89.55,155.19 L89.80,155.04 L90.05,154.87 L90.30,154.70 L90.55,154.51 L90.80,154.30 L91.05,154.08 L91.30,153.85 L91.55,153.60 L91.80,153.33 L92.05,153.04 L92.30,152.74 L92.55,152.41 L92.80,152.06 L93.05,151.69 L93.30,151.30 L93.55,150.89 L93.80,150.44 L94.05,149.98 L94.30,149.48 L94.55,148.96 L94.80,148.42 L95.05,147.84 L95.30,147.23 L95.55,146.60 L95.80,145.93 L96.05,145.24 L96.30,144.51 L96.55,143.76 L96.80,142.97 L97.05,142.16 L97.30,141.31 L97.55,140.44 L97.80,139.55 L98.05,138.63 L98.30,137.68 L98.55,136.72 L98.80,135.73 L99.05,134.73 L99.30,133.72 L99.55,132.70 L99.80,131.68 L100.05,130.66 L100.30,129.64 L100.55,128.64 L100.80,127.65 L101.05,126.70 L101.30,125.79 L101.55,124.92 L101.80,124.11 L102.05,123.39 L102.30,122.76 L102.55,122.27 L102.80,122.00 L103.05,122.28 L103.30,123.37 L103.55,125.37 L103.80,128.23 L104.05,131.78 L104.30,135.73 L104.55,139.79 L104.80,143.66 L105.05,147.10 L105.30,149.99 L105.55,152.25 L105.80,153.93 L106.05,155.09 L106.30,155.86 L106.55,156.33 L106.80,156.60 L107.05,156.76 L107.30,156.83 L107.50,156.87 L107.50,156.90 L88.30,156.90 Z" fill="#a9a9a9" stroke="none" stroke-width="0.3"/>
<path d="M88.30,155.84 L88.55,155.75 L88.80,155.66 L89.05,155.56 L89.30,155.46 L89.55,155.34 L89.80,155.22 L90.05,155.09 L90.30,154.95 L90.55,154.81 L90.80,154.65 L91.05,154.48 L91.30,154.30 L91.55,154.11 L91.80,153.91 L92.05,153.70 L92.30,153.47 L92.55,153.23 L92.80,152.97 L93.05,152.70 L93.30,152.42 L93.55,152.11 L93.80,151.80 L94.05,151.46 L94.30,151.11 L94.55,150.73 L94.80,150.34 L95.05,149.93 L95.30,149.50 L95.55,149.04 L95.80,148.57 L96.05,148.07 L96.30,147.55 L96.55,147.01 L96.80,146.45 L97.05,145.86 L97.30,145.25 L97.55,144.61 L97.80,143.96 L98.05,143.28 L98.30,142.57 L98.55,141.85 L98.80,141.10 L99.05,140.33 L99.30,139.54 L99.55,138.72 L99.80,137.89 L100.05,137.05 L100.30,136.18 L100.55,135.30 L100.80,134.41 L101.05,133.51 L101.30,132.60 L101.55,131.69 L101.80,130.77 L102.05,129.86 L102.30,128.95 L102.55,128.05 L102.80,127.17 L103.05,126.30 L103.30,125.46 L103.55,124.66 L103.80,123.89 L104.05,123.18 L104.30,122.52 L104.55,121.94 L104.80,121.46 L105.05,121.11 L105.30,121.06 L105.55,121.67 L105.80,122.94 L106.05,124.79 L106.30,127.11 L106.55,129.80 L106.80,132.72 L107.05,135.73 L107.30,138.72 L107.55,141.59 L107.80,144.25 L108.05,146.65 L108.30,148.75 L108.55,150.55 L108.80,152.04 L109.05,153.26 L109.30,154.22 L109.55,154.96 L109.80,155.53 L110.05,155.95 L110.30,156.25 L110.55,156.47 L110.80,156.62 L111.05,156.72 L111.30,156.78 L111.55,156.83 L111.80,156.86 L112.00,156.87" fill="none" stroke="#5060a8" stroke-width="0.8"/>
<path d="M100.00,156.90 L100.25,156.90 L100.50,156.90 L100.75,156.90 L101.00,156.90 L101.25,156.90 L101.50,156.90 L101.75,156.90 L102.00,156.90 L102.25,156.90 L102.50,156.90 L102.75,156.90 L103.00,156.90 L103.25,156.90 L103.50,156.90 L103.75,156.90 L104.00,156.90 L104.25,156.90 L104.50,156.90 L104.75,156.90 L105.00,156.89 L105.25,156.89 L105.50,156.88 L105.75,156.86 L106.00,156.83 L106.25,156.79 L106.50,156.71 L106.75,156.61 L107.00,156.44 L107.25,156.21 L107.50,155.88 L107.75,155.43 L108.00,154.82 L108.25,154.02 L108.50,153.01 L108.75,151.76 L109.00,150.24 L109.25,148.45 L109.50,146.39 L109.75,144.09 L110.00,141.59 L110.25,138.94 L110.50,136.22 L110.75,133.50 L111.00,130.89 L111.25,128.46 L111.50,126.30 L111.75,124.47 L112.00,123.02 L112.25,121.97 L112.50,121.32 L112.75,121.03 L113.00,121.08 L113.25,121.77 L113.50,123.00 L113.75,124.65 L114.00,126.63 L114.25,128.84 L114.50,131.21 L114.75,133.65 L115.00,136.10 L115.25,138.50 L115.50,140.80 L115.75,142.96 L116.00,144.96 L116.25,146.77 L116.50,148.40 L116.75,149.83 L117.00,151.08 L117.25,152.16 L117.50,153.07 L117.75,153.84 L118.00,154.48 L118.25,155.00 L118.50,155.42 L118.75,155.76 L119.00,156.03 L119.25,156.24 L119.50,156.41 L119.75,156.53 L120.00,156.63 L120.25,156.70 L120.50,156.76 L120.75,156.80 L121.00,156.83 L121.25,156.85 L121.50,156.86 L121.75,156.88 L122.00,156.88 L122.25,156.89 L122.50,156.89 L122.75,156.89 L123.00,156.90 L123.25,156.90 L123.50,156.90 L123.75,156.90 L124.00,156.90 L124.25,156.90 L124.50,156.90 L124.75,156.90 L125.00,156.90 L125.25,156.90 L125.40,156.90" fill="none" stroke="#b0c060" stroke-width="0.8"/>
<path d="M137.70,156.06 L137.95,155.98 L138.20,155.89 L138.45,155.80 L138.70,155.70 L138.95,155.59 L139.20,155.47 L139.45,155.34 L139.70,155.20 L139.95,155.05 L140.20,154.88 L140.45,154.71 L140.70,154.52 L140.95,154.32 L141.20,154.10 L141.45,153.86 L141.70,153.61 L141.95,153.35 L142.20,153.06 L142.45,152.75 L142.70,152.43 L142.95,152.08 L143.20,151.71 L143.45,151.32 L143.70,150.90 L143.95,150.46 L144.20,149.99 L144.45,149.50 L144.70,148.98 L144.95,148.43 L145.20,147.85 L145.45,147.25 L145.70,146.61 L145.95,145.94 L146.20,145.25 L146.45,144.52 L146.70,143.76 L146.95,142.97 L147.20,142.16 L147.45,141.31 L147.70,140.43 L147.95,139.53 L148.20,138.61 L148.45,137.65 L148.70,136.68 L148.95,135.69 L149.20,134.68 L149.45,133.66 L149.70,132.63 L149.95,131.60 L150.20,130.56 L150.45,129.53 L150.70,128.51 L150.95,127.52 L151.20,126.55 L151.45,125.61 L151.70,124.72 L151.95,123.90 L152.20,123.14 L152.45,122.49 L152.70,121.96 L152.95,121.62 L153.20,121.80 L153.45,123.09 L153.70,125.90 L153.95,130.19 L154.20,135.49 L154.45,141.08 L154.70,146.21 L154.95,150.34 L155.20,153.27 L155.45,155.10 L155.70,156.11 L155.95,156.59 L156.20,156.79 L156.45,156.87 L156.70,156.89 L156.95,156.90 L157.00,156.90 L157.00,156.90 L137.70,156.90 Z" fill="#a9a9a9" stroke="none" stroke-width="0.3"/>
<path d="M137.70,155.37 L137.95,155.25 L138.20,155.12 L138.45,154.98 L138.70,154.84 L138.95,154.68 L139.20,154.52 L139.45,154.34 L139.70,154.15 L139.95,153.95 L140.20,153.74 L140.45,153.52 L140.70,153.28 L140.95,153.03 L141.20,152.76 L141.45,152.48 L141.70,152.18 L141.95,151.86 L142.20,151.53 L142.45,151.18 L142.70,150.81 L142.95,150.42 L143.20,150.01 L143.45,149.58 L143.70,149.13 L143.95,148.66 L144.20,148.17 L144.45,147.66 L144.70,147.12 L144.95,146.56 L145.20,145.98 L145.45,145.37 L145.70,144.74 L145.95,144.09 L146.20,143.41 L146.45,142.72 L146.70,141.99 L146.95,141.25 L147.20,140.48 L147.45,139.70 L147.70,138.89 L147.95,138.06 L148.20,137.22 L148.45,136.36 L148.70,135.48 L148.95,134.59 L149.20,133.69 L149.45,132.78 L149.70,131.87 L149.95,130.96 L150.20,130.04 L150.45,129.13 L150.70,128.23 L150.95,127.34 L151.20,126.47 L151.45,125.63 L151.70,124.81 L151.95,124.04 L152.20,123.31 L152.45,122.65 L152.70,122.05 L152.95,121.55 L153.20,121.16 L153.45,121.01 L153.70,121.50 L153.95,122.64 L154.20,124.38 L154.45,126.62 L154.70,129.24 L154.95,132.12 L155.20,135.13 L155.45,138.13 L155.70,141.03 L155.95,143.74 L156.20,146.19 L156.45,148.36 L156.70,150.21 L156.95,151.77 L157.20,153.03 L157.45,154.04 L157.70,154.83 L157.95,155.43 L158.20,155.87 L158.45,156.20 L158.70,156.43 L158.95,156.59 L159.20,156.70 L159.45,156.77 L159.70,156.82 L159.95,156.85 L160.20,156.87 L160.45,156.88 L160.70,156.89 L160.95,156.89 L161.00,156.90" fill="none" stroke="#5060a8" stroke-width="0.8"/>
<path d="M149.00,156.90 L149.25,156.90 L149.50,156.90 L149.75,156.90 L150.00,156.90 L150.25,156.90 L150.50,156.90 L150.75,156.90 L151.00,156.90 L151.25,156.90 L151.50,156.90 L151.75,156.90 L152.00,156.90 L152.25,156.90 L152.50,156.90 L152.75,156.90 L153.00,156.89 L153.25,156.89 L153.50,156.88 L153.75,156.87 L154.00,156.84 L154.25,156.81 L154.50,156.75 L154.75,156.65 L155.00,156.52 L155.25,156.31 L155.50,156.02 L155.75,155.62 L156.00,155.08 L156.25,154.37 L156.50,153.44 L156.75,152.29 L157.00,150.88 L157.25,149.20 L157.50,147.25 L157.75,145.04 L158.00,142.61 L158.25,140.01 L158.50,137.31 L158.75,134.58 L159.00,131.92 L159.25,129.40 L159.50,127.13 L159.75,125.15 L160.00,123.55 L160.25,122.34 L160.50,121.53 L160.75,121.11 L161.00,121.00 L161.25,121.42 L161.50,122.45 L161.75,123.94 L162.00,125.80 L162.25,127.93 L162.50,130.25 L162.75,132.67 L163.00,135.13 L163.25,137.55 L163.50,139.89 L163.75,142.11 L164.00,144.18 L164.25,146.07 L164.50,147.77 L164.75,149.28 L165.00,150.61 L165.25,151.75 L165.50,152.73 L165.75,153.55 L166.00,154.24 L166.25,154.80 L166.50,155.26 L166.75,155.64 L167.00,155.93 L167.25,156.16 L167.50,156.35 L167.75,156.49 L168.00,156.59 L168.25,156.68 L168.50,156.74 L168.75,156.78 L169.00,156.82 L169.25,156.84 L169.50,156.86 L169.75,156.87 L170.00,156.88 L170.25,156.89 L170.50,156.89 L170.75,156.89 L171.00,156.90 L171.25,156.90 L171.50,156.90 L171.75,156.90 L172.00,156.90 L172.25,156.90 L172.50,156.90 L172.75,156.90 L173.00,156.90 L173.25,156.90 L173.50,156.90 L173.75,156.90 L174.00,156.90 L174.25,156.90 L174.50,156.90 L174.75,156.90 L175.00,156.90" fill="none" stroke="#b0c060" stroke-width="0.8"/>
<text x="28.8" y="130.4" font-size="7.2" font-weight="bold" text-anchor="middle" fill="#111" transform="rotate(-90 28.8 130.4)">% of max.</text>
<line x1="26.4" y1="168" x2="26.4" y2="151.2" stroke="#111" stroke-width="1.0"/>
<path d="M24.299999999999997,151.79999999999998 L26.4,148.2 L28.5,151.79999999999998 Z" fill="#111" stroke="none" stroke-width="1"/>
<line x1="25.9" y1="168" x2="54.7" y2="168" stroke="#111" stroke-width="1.0"/>
<path d="M54.1,165.9 L57.7,168 L54.1,170.1 Z" fill="#111" stroke="none" stroke-width="1"/>
<text x="61.1" y="171.0" font-size="7.0" font-weight="bold" text-anchor="start" fill="#111" textLength="53.7" lengthAdjust="spacingAndGlyphs">NIP-BSA binding</text>
<line x1="210.4" y1="102.5" x2="210.4" y2="166.7" stroke="#111" stroke-width="1.5"/>
<line x1="209.70000000000002" y1="166" x2="260.6" y2="166" stroke="#111" stroke-width="1.5"/>
<line x1="208.20000000000002" y1="103.2" x2="210.4" y2="103.2" stroke="#111" stroke-width="1.1"/>
<text x="208.8" y="105.10000000000001" font-size="5.4" font-weight="bold" text-anchor="end" fill="#111" stroke="#111" stroke-width="0.25">2.0</text>
<line x1="208.20000000000002" y1="118.9" x2="210.4" y2="118.9" stroke="#111" stroke-width="1.1"/>
<text x="208.8" y="120.80000000000001" font-size="5.4" font-weight="bold" text-anchor="end" fill="#111" stroke="#111" stroke-width="0.25">1.5</text>
<line x1="208.20000000000002" y1="134.6" x2="210.4" y2="134.6" stroke="#111" stroke-width="1.1"/>
<text x="208.8" y="136.5" font-size="5.4" font-weight="bold" text-anchor="end" fill="#111" stroke="#111" stroke-width="0.25">1.0</text>
<line x1="208.20000000000002" y1="150.3" x2="210.4" y2="150.3" stroke="#111" stroke-width="1.1"/>
<text x="208.8" y="152.20000000000002" font-size="5.4" font-weight="bold" text-anchor="end" fill="#111" stroke="#111" stroke-width="0.25">0.5</text>
<line x1="208.20000000000002" y1="166.0" x2="210.4" y2="166.0" stroke="#111" stroke-width="1.1"/>
<text x="208.8" y="167.9" font-size="5.4" font-weight="bold" text-anchor="end" fill="#111" stroke="#111" stroke-width="0.25">0.0</text>
<line x1="215.3" y1="166" x2="215.3" y2="168" stroke="#111" stroke-width="1.1"/>
<line x1="225.6" y1="166" x2="225.6" y2="168" stroke="#111" stroke-width="1.1"/>
<line x1="235.3" y1="166" x2="235.3" y2="168" stroke="#111" stroke-width="1.1"/>
<line x1="245.3" y1="166" x2="245.3" y2="168" stroke="#111" stroke-width="1.1"/>
<line x1="255.3" y1="166" x2="255.3" y2="168" stroke="#111" stroke-width="1.1"/>
<text x="194.4" y="129.5" font-size="5.4" font-weight="bold" text-anchor="middle" fill="#111" transform="rotate(-90 194.4 129.5)" stroke="#111" stroke-width="0.2" textLength="42" lengthAdjust="spacingAndGlyphs">rel. NIP-BSA binding</text>
<text x="217.10000000000002" y="171.2" font-size="5.3" font-weight="bold" text-anchor="end" fill="#111" transform="rotate(-45 217.10000000000002 171.2)" stroke="#111" stroke-width="0.25">B1-8</text>
<text x="227.4" y="171.2" font-size="5.3" font-weight="bold" text-anchor="end" fill="#111" transform="rotate(-45 227.4 171.2)" stroke="#111" stroke-width="0.25">W33N</text>
<text x="237.10000000000002" y="171.2" font-size="5.3" font-weight="bold" text-anchor="end" fill="#111" transform="rotate(-45 237.10000000000002 171.2)" stroke="#111" stroke-width="0.25">D100N</text>
<text x="247.10000000000002" y="171.2" font-size="5.3" font-weight="bold" text-anchor="end" fill="#111" transform="rotate(-45 247.10000000000002 171.2)" stroke="#111" stroke-width="0.25">W33Q</text>
<text x="257.1" y="171.2" font-size="5.3" font-weight="bold" text-anchor="end" fill="#111" transform="rotate(-45 257.1 171.2)" stroke="#111" stroke-width="0.25">D100Q</text>
<line x1="215.5" y1="105.2" x2="257.7" y2="105.2" stroke="#111" stroke-width="1.0"/>
<line x1="215.5" y1="103.7" x2="215.5" y2="106.7" stroke="#111" stroke-width="0.9"/>
<line x1="257.7" y1="103.7" x2="257.7" y2="106.7" stroke="#111" stroke-width="0.9"/>
<text x="235.7" y="104.60000000000001" font-size="5.6" font-weight="bold" text-anchor="middle" fill="#111">*</text>
<line x1="215.5" y1="109.6" x2="245.5" y2="109.6" stroke="#111" stroke-width="1.0"/>
<line x1="215.5" y1="108.1" x2="215.5" y2="111.1" stroke="#111" stroke-width="0.9"/>
<line x1="245.5" y1="108.1" x2="245.5" y2="111.1" stroke="#111" stroke-width="0.9"/>
<text x="228.7" y="109.0" font-size="5.6" font-weight="bold" text-anchor="middle" fill="#111">ns</text>
<line x1="215.5" y1="113.7" x2="234.8" y2="113.7" stroke="#111" stroke-width="1.0"/>
<line x1="215.5" y1="112.2" x2="215.5" y2="115.2" stroke="#111" stroke-width="0.9"/>
<line x1="234.8" y1="112.2" x2="234.8" y2="115.2" stroke="#111" stroke-width="0.9"/>
<text x="224.3" y="113.10000000000001" font-size="5.6" font-weight="bold" text-anchor="middle" fill="#111">**</text>
<line x1="215.5" y1="118.1" x2="223.1" y2="118.1" stroke="#111" stroke-width="1.0"/>
<line x1="215.5" y1="116.6" x2="215.5" y2="119.6" stroke="#111" stroke-width="0.9"/>
<line x1="223.1" y1="116.6" x2="223.1" y2="119.6" stroke="#111" stroke-width="0.9"/>
<text x="219.2" y="117.5" font-size="5.6" font-weight="bold" text-anchor="middle" fill="#111">***</text>
<rect x="212.4" y="133.3" width="6.8" height="2.2" fill="#111" stroke="none" stroke-width="0.7"/>
<path d="M221.7,160.3 L224.7,160.3 L223.2,163.0 Z" fill="#111" stroke="none" stroke-width="1"/>
<path d="M223.5,161.8 L226.5,161.8 L225,164.5 Z" fill="#111" stroke="none" stroke-width="1"/>
<path d="M225.0,159.3 L228.0,159.3 L226.5,162.0 Z" fill="#111" stroke="none" stroke-width="1"/>
<path d="M222.5,163.3 L225.5,163.3 L224,166.0 Z" fill="#111" stroke="none" stroke-width="1"/>
<path d="M225.5,162.8 L228.5,162.8 L227,165.5 Z" fill="#111" stroke="none" stroke-width="1"/>
<path d="M224.0,158.10000000000002 L227.0,158.10000000000002 L225.5,160.8 Z" fill="#111" stroke="none" stroke-width="1"/>
<path d="M221.3,162.8 L224.3,162.8 L222.8,165.5 Z" fill="#111" stroke="none" stroke-width="1"/>
<path d="M224.3,165.3 L227.3,165.3 L225.8,168.0 Z" fill="#111" stroke="none" stroke-width="1"/>
<path d="M223.1,166.3 L226.1,166.3 L224.6,169.0 Z" fill="#111" stroke="none" stroke-width="1"/>
<path d="M231.5,162.8 L234.5,162.8 L233,165.5 Z" fill="#111" stroke="none" stroke-width="1"/>
<path d="M233.1,162.4 L236.1,162.4 L234.6,165.1 Z" fill="#111" stroke="none" stroke-width="1"/>
<path d="M235.0,163.0 L238.0,163.0 L236.5,165.7 Z" fill="#111" stroke="none" stroke-width="1"/>
<path d="M233.7,161.60000000000002 L236.7,161.60000000000002 L235.2,164.3 Z" fill="#111" stroke="none" stroke-width="1"/>
<path d="M243.9,120.92 L247.1,120.92 L245.5,123.8 Z" fill="#111" stroke="none" stroke-width="1"/>
<path d="M245.4,133.02 L248.6,133.02 L247,135.9 Z" fill="#111" stroke="none" stroke-width="1"/>
<path d="M242.4,136.52 L245.6,136.52 L244,139.4 Z" fill="#111" stroke="none" stroke-width="1"/>
<line x1="242" y1="130.9" x2="247.5" y2="130.9" stroke="#111" stroke-width="1.0"/>
<path d="M254.4,138.22 L257.6,138.22 L256,141.1 Z" fill="#111" stroke="none" stroke-width="1"/>
<path d="M252.70000000000002,150.02 L255.9,150.02 L254.3,152.9 Z" fill="#111" stroke="none" stroke-width="1"/>
<path d="M255.79999999999998,146.02 L259.0,146.02 L257.4,148.9 Z" fill="#111" stroke="none" stroke-width="1"/>
<line x1="253.5" y1="146.3" x2="258.5" y2="146.3" stroke="#111" stroke-width="1.0"/>
<text x="293.32" y="99.4" font-size="12.0" font-weight="bold" text-anchor="start" fill="#000" stroke="#000" stroke-width="0.35">H</text>
<rect x="311.3" y="95.7" width="6.0" height="3.2" fill="#a8acae" stroke="none" stroke-width="0.7"/>
<text x="320.3" y="100.0" font-size="7.2" font-weight="bold" text-anchor="start" fill="#1a1a1a">EV</text>
<line x1="311.3" y1="104.6" x2="317.3" y2="104.6" stroke="#d08878" stroke-width="1.0"/>
<text x="320.3" y="107.0" font-size="7.2" font-weight="bold" text-anchor="start" fill="#1a1a1a">Hy10</text>
<rect x="361.8" y="95.7" width="5.0" height="3.2" fill="#a8acae" stroke="none" stroke-width="0.7"/>
<text x="369.40000000000003" y="100.0" font-size="7.2" font-weight="bold" text-anchor="start" fill="#1a1a1a">EV</text>
<line x1="361.8" y1="104.6" x2="366.8" y2="104.6" stroke="#6a6ab8" stroke-width="1.0"/>
<text x="369.40000000000003" y="107.0" font-size="7.2" font-weight="bold" text-anchor="start" fill="#1a1a1a">Hy10.I29N</text>
<line x1="361.8" y1="111.6" x2="366.8" y2="111.6" stroke="#708050" stroke-width="1.0"/>
<text x="369.40000000000003" y="114.0" font-size="7.2" font-weight="bold" text-anchor="start" fill="#1a1a1a">Hy10.I29Q</text>
<rect x="311.6" y="116.6" width="41.299999999999955" height="38.099999999999994" fill="none" stroke="#a8a8a8" stroke-width="0.7"/>
<rect x="308.00000000000006" y="116.6" width="2.8" height="1.6" fill="#333" stroke="none" stroke-width="0.7"/>
<rect x="308.00000000000006" y="123.89999999999999" width="2.8" height="1.6" fill="#333" stroke="none" stroke-width="0.7"/>
<rect x="308.00000000000006" y="131.2" width="2.8" height="1.6" fill="#333" stroke="none" stroke-width="0.7"/>
<rect x="308.00000000000006" y="138.49999999999997" width="2.8" height="1.6" fill="#333" stroke="none" stroke-width="0.7"/>
<rect x="308.00000000000006" y="145.79999999999998" width="2.8" height="1.6" fill="#333" stroke="none" stroke-width="0.7"/>
<rect x="308.00000000000006" y="153.09999999999997" width="2.8" height="1.6" fill="#333" stroke="none" stroke-width="0.7"/>
<path d="M313.50,156.90 L314.70,158.30 L316.60,156.50" fill="none" stroke="#333" stroke-width="1.25"/>
<path d="M323.30,156.90 L324.50,158.30 L326.40,156.50" fill="none" stroke="#333" stroke-width="1.25"/>
<path d="M333.10,156.90 L334.30,158.30 L336.20,156.50" fill="none" stroke="#333" stroke-width="1.25"/>
<path d="M342.90,156.90 L344.10,158.30 L346.00,156.50" fill="none" stroke="#333" stroke-width="1.25"/>
<path d="M352.70,156.90 L353.90,158.30 L355.80,156.50" fill="none" stroke="#333" stroke-width="1.25"/>
<rect x="363.5" y="116" width="40.19999999999999" height="38.69999999999999" fill="none" stroke="#a8a8a8" stroke-width="0.7"/>
<path d="M314.00,154.30 L314.25,154.30 L314.50,154.30 L314.75,154.30 L315.00,154.30 L315.25,154.30 L315.50,154.30 L315.75,154.29 L316.00,154.29 L316.25,154.29 L316.50,154.28 L316.75,154.28 L317.00,154.27 L317.25,154.26 L317.50,154.24 L317.75,154.22 L318.00,154.19 L318.25,154.15 L318.50,154.11 L318.75,154.04 L319.00,153.96 L319.25,153.86 L319.50,153.74 L319.75,153.58 L320.00,153.38 L320.25,153.13 L320.50,152.83 L320.75,152.46 L321.00,152.02 L321.25,151.49 L321.50,150.86 L321.75,150.12 L322.00,149.25 L322.25,148.25 L322.50,147.11 L322.75,145.81 L323.00,144.36 L323.25,142.75 L323.50,140.98 L323.75,139.08 L324.00,137.05 L324.25,134.93 L324.50,132.74 L324.75,130.52 L325.00,128.34 L325.25,126.25 L325.50,124.32 L325.75,122.63 L326.00,121.29 L326.25,120.41 L326.50,120.26 L326.75,121.14 L327.00,123.17 L327.25,126.28 L327.50,130.18 L327.75,134.49 L328.00,138.82 L328.25,142.80 L328.50,146.19 L328.75,148.88 L329.00,150.87 L329.25,152.25 L329.50,153.14 L329.75,153.68 L330.00,153.99 L330.25,154.15 L330.50,154.23 L330.75,154.27 L331.00,154.29 L331.25,154.30 L331.50,154.30 L331.50,154.30 L314.00,154.30 Z" fill="#a9a9a9" stroke="none" stroke-width="0.3"/>
<path d="M326.00,154.30 L326.25,154.30 L326.50,154.30 L326.75,154.30 L327.00,154.30 L327.25,154.30 L327.50,154.30 L327.75,154.30 L328.00,154.30 L328.25,154.30 L328.50,154.30 L328.75,154.30 L329.00,154.30 L329.25,154.30 L329.50,154.30 L329.75,154.30 L330.00,154.29 L330.25,154.28 L330.50,154.26 L330.75,154.22 L331.00,154.16 L331.25,154.05 L331.50,153.87 L331.75,153.59 L332.00,153.17 L332.25,152.56 L332.50,151.70 L332.75,150.54 L333.00,149.02 L333.25,147.13 L333.50,144.84 L333.75,142.18 L334.00,139.21 L334.25,136.03 L334.50,132.77 L334.75,129.57 L335.00,126.59 L335.25,123.97 L335.50,121.84 L335.75,120.27 L336.00,119.29 L336.25,118.85 L336.50,118.91 L336.75,119.82 L337.00,121.42 L337.25,123.55 L337.50,126.05 L337.75,128.78 L338.00,131.63 L338.25,134.47 L338.50,137.22 L338.75,139.80 L339.00,142.18 L339.25,144.30 L339.50,146.17 L339.75,147.78 L340.00,149.15 L340.25,150.28 L340.50,151.20 L340.75,151.94 L341.00,152.53 L341.25,152.99 L341.50,153.34 L341.75,153.61 L342.00,153.81 L342.25,153.95 L342.50,154.06 L342.75,154.13 L343.00,154.19 L343.25,154.22 L343.50,154.25 L343.75,154.27 L344.00,154.28 L344.25,154.29 L344.50,154.29 L344.75,154.29 L345.00,154.30 L345.25,154.30 L345.50,154.30 L345.75,154.30 L346.00,154.30" fill="none" stroke="#d05848" stroke-width="0.8"/>
<path d="M364.00,151.67 L364.25,151.46 L364.50,151.23 L364.75,150.99 L365.00,150.73 L365.25,150.45 L365.50,150.16 L365.75,149.84 L366.00,149.51 L366.25,149.15 L366.50,148.77 L366.75,148.37 L367.00,147.95 L367.25,147.50 L367.50,147.02 L367.75,146.52 L368.00,145.99 L368.25,145.43 L368.50,144.84 L368.75,144.22 L369.00,143.57 L369.25,142.89 L369.50,142.18 L369.75,141.44 L370.00,140.66 L370.25,139.86 L370.50,139.02 L370.75,138.15 L371.00,137.25 L371.25,136.32 L371.50,135.36 L371.75,134.38 L372.00,133.37 L372.25,132.35 L372.50,131.30 L372.75,130.24 L373.00,129.17 L373.25,128.10 L373.50,127.03 L373.75,125.97 L374.00,124.92 L374.25,123.90 L374.50,122.93 L374.75,122.01 L375.00,121.18 L375.25,120.45 L375.50,119.91 L375.75,119.91 L376.00,120.73 L376.25,122.43 L376.50,124.97 L376.75,128.19 L377.00,131.85 L377.25,135.68 L377.50,139.42 L377.75,142.86 L378.00,145.84 L378.25,148.30 L378.50,150.21 L378.75,151.63 L379.00,152.63 L379.25,153.30 L379.50,153.72 L379.75,153.98 L380.00,154.13 L380.25,154.22 L380.50,154.26 L380.75,154.28 L381.00,154.29 L381.00,154.30 L364.00,154.30 Z" fill="#a9a9a9" stroke="none" stroke-width="0.3"/>
<path d="M364.00,148.52 L364.25,148.22 L364.50,147.90 L364.75,147.56 L365.00,147.21 L365.25,146.84 L365.50,146.46 L365.75,146.06 L366.00,145.64 L366.25,145.21 L366.50,144.76 L366.75,144.29 L367.00,143.80 L367.25,143.29 L367.50,142.76 L367.75,142.21 L368.00,141.64 L368.25,141.06 L368.50,140.45 L368.75,139.82 L369.00,139.17 L369.25,138.50 L369.50,137.80 L369.75,137.09 L370.00,136.35 L370.25,135.60 L370.50,134.83 L370.75,134.03 L371.00,133.22 L371.25,132.39 L371.50,131.54 L371.75,130.68 L372.00,129.81 L372.25,128.92 L372.50,128.02 L372.75,127.12 L373.00,126.21 L373.25,125.31 L373.50,124.40 L373.75,123.51 L374.00,122.64 L374.25,121.79 L374.50,120.99 L374.75,120.23 L375.00,119.57 L375.25,119.06 L375.50,119.18 L375.75,120.07 L376.00,121.75 L376.25,124.18 L376.50,127.23 L376.75,130.70 L377.00,134.36 L377.25,138.00 L377.50,141.41 L377.75,144.45 L378.00,147.04 L378.25,149.13 L378.50,150.75 L378.75,151.95 L379.00,152.81 L379.25,153.38 L379.50,153.76 L379.75,153.99 L380.00,154.13 L380.25,154.21 L380.50,154.26 L380.75,154.28 L381.00,154.29 L381.25,154.30 L381.50,154.30 L381.75,154.30 L382.00,154.30 L382.25,154.30 L382.50,154.30 L382.75,154.30 L383.00,154.30 L383.25,154.30 L383.50,154.30 L383.75,154.30 L384.00,154.30" fill="none" stroke="#5060a8" stroke-width="0.8"/>
<path d="M376.00,154.30 L376.25,154.30 L376.50,154.30 L376.75,154.30 L377.00,154.30 L377.25,154.30 L377.50,154.30 L377.75,154.30 L378.00,154.29 L378.25,154.28 L378.50,154.26 L378.75,154.22 L379.00,154.14 L379.25,153.99 L379.50,153.72 L379.75,153.28 L380.00,152.59 L380.25,151.55 L380.50,150.07 L380.75,148.09 L381.00,145.56 L381.25,142.49 L381.50,138.99 L381.75,135.20 L382.00,131.36 L382.25,127.71 L382.50,124.51 L382.75,121.96 L383.00,120.20 L383.25,119.25 L383.50,119.00 L383.75,119.62 L384.00,121.11 L384.25,123.24 L384.50,125.82 L384.75,128.68 L385.00,131.68 L385.25,134.68 L385.50,137.58 L385.75,140.28 L386.00,142.74 L386.25,144.92 L386.50,146.81 L386.75,148.41 L387.00,149.74 L387.25,150.82 L387.50,151.68 L387.75,152.36 L388.00,152.88 L388.25,153.28 L388.50,153.58 L388.75,153.79 L389.00,153.95 L389.25,154.06 L389.50,154.14 L389.75,154.19 L390.00,154.23 L390.25,154.26 L390.50,154.27 L390.75,154.28 L391.00,154.29 L391.25,154.29 L391.50,154.30 L391.75,154.30 L392.00,154.30" fill="none" stroke="#b8c070" stroke-width="0.8"/>
<text x="306.4" y="129.8" font-size="7.2" font-weight="bold" text-anchor="middle" fill="#111" transform="rotate(-90 306.4 129.8)">% of max.</text>
<line x1="304.4" y1="164.9" x2="304.4" y2="150.2" stroke="#111" stroke-width="1.0"/>
<path d="M302.29999999999995,150.79999999999998 L304.4,147.2 L306.5,150.79999999999998 Z" fill="#111" stroke="none" stroke-width="1"/>
<line x1="303.9" y1="164.9" x2="332.8" y2="164.9" stroke="#111" stroke-width="1.0"/>
<path d="M332.2,162.8 L335.8,164.9 L332.2,167.0 Z" fill="#111" stroke="none" stroke-width="1"/>
<text x="338.7" y="167.3" font-size="7.0" font-weight="bold" text-anchor="start" fill="#111" textLength="44.6" lengthAdjust="spacingAndGlyphs">sHEL- binding</text>
<line x1="446.4" y1="97.5" x2="446.4" y2="140" stroke="#111" stroke-width="1.5"/>
<line x1="446.4" y1="144.5" x2="446.4" y2="165" stroke="#111" stroke-width="1.5"/>
<line x1="444.4" y1="140" x2="447.9" y2="139" stroke="#111" stroke-width="0.8"/>
<line x1="444.4" y1="144.8" x2="447.9" y2="143.8" stroke="#111" stroke-width="0.8"/>
<line x1="444.4" y1="97.66" x2="446.4" y2="97.66" stroke="#111" stroke-width="1"/>
<text x="444.2" y="99.46" font-size="5.0" font-weight="bold" text-anchor="end" fill="#111" stroke="#111" stroke-width="0.2">1.2</text>
<line x1="444.4" y1="106.3" x2="446.4" y2="106.3" stroke="#111" stroke-width="1"/>
<text x="444.2" y="108.1" font-size="5.0" font-weight="bold" text-anchor="end" fill="#111" stroke="#111" stroke-width="0.2">1.0</text>
<line x1="444.4" y1="114.94" x2="446.4" y2="114.94" stroke="#111" stroke-width="1"/>
<text x="444.2" y="116.74" font-size="5.0" font-weight="bold" text-anchor="end" fill="#111" stroke="#111" stroke-width="0.2">0.8</text>
<line x1="444.4" y1="123.58" x2="446.4" y2="123.58" stroke="#111" stroke-width="1"/>
<text x="444.2" y="125.38" font-size="5.0" font-weight="bold" text-anchor="end" fill="#111" stroke="#111" stroke-width="0.2">0.6</text>
<line x1="444.4" y1="132.22" x2="446.4" y2="132.22" stroke="#111" stroke-width="1"/>
<text x="444.2" y="134.02" font-size="5.0" font-weight="bold" text-anchor="end" fill="#111" stroke="#111" stroke-width="0.2">0.4</text>
<line x1="444.4" y1="140.86" x2="446.4" y2="140.86" stroke="#111" stroke-width="1"/>
<text x="444.2" y="142.66000000000003" font-size="5.0" font-weight="bold" text-anchor="end" fill="#111" stroke="#111" stroke-width="0.2">0.2</text>
<line x1="444.4" y1="145.60000000000002" x2="446.4" y2="145.60000000000002" stroke="#111" stroke-width="1"/>
<text x="444.2" y="147.40000000000003" font-size="4.7" font-weight="bold" text-anchor="end" fill="#111" stroke="#111" stroke-width="0.2">0.20</text>
<line x1="444.4" y1="150.4" x2="446.4" y2="150.4" stroke="#111" stroke-width="1"/>
<text x="444.2" y="152.20000000000002" font-size="4.7" font-weight="bold" text-anchor="end" fill="#111" stroke="#111" stroke-width="0.2">0.15</text>
<line x1="444.4" y1="155.20000000000002" x2="446.4" y2="155.20000000000002" stroke="#111" stroke-width="1"/>
<text x="444.2" y="157.00000000000003" font-size="4.7" font-weight="bold" text-anchor="end" fill="#111" stroke="#111" stroke-width="0.2">0.10</text>
<line x1="444.4" y1="160.0" x2="446.4" y2="160.0" stroke="#111" stroke-width="1"/>
<text x="444.2" y="161.8" font-size="4.7" font-weight="bold" text-anchor="end" fill="#111" stroke="#111" stroke-width="0.2">0.05</text>
<line x1="444.4" y1="164.8" x2="446.4" y2="164.8" stroke="#111" stroke-width="1"/>
<text x="444.2" y="166.60000000000002" font-size="4.7" font-weight="bold" text-anchor="end" fill="#111" stroke="#111" stroke-width="0.2">0.00</text>
<line x1="445.7" y1="164.8" x2="491.4" y2="164.8" stroke="#111" stroke-width="1.5"/>
<line x1="455.2" y1="164.8" x2="455.2" y2="167" stroke="#111" stroke-width="1"/>
<line x1="469.9" y1="164.8" x2="469.9" y2="167" stroke="#111" stroke-width="1"/>
<line x1="483.6" y1="164.8" x2="483.6" y2="167" stroke="#111" stroke-width="1"/>
<text x="429.8" y="129" font-size="5.2" font-weight="bold" text-anchor="middle" fill="#111" transform="rotate(-90 429.8 129)" stroke="#111" stroke-width="0.2" textLength="42" lengthAdjust="spacingAndGlyphs">rel. sHEL binding</text>
<text x="456.4" y="170.5" font-size="5.3" font-weight="bold" text-anchor="end" fill="#111" transform="rotate(-45 456.4 170.5)" stroke="#111" stroke-width="0.25">Hy10 mu</text>
<text x="471.09999999999997" y="170.5" font-size="5.3" font-weight="bold" text-anchor="end" fill="#111" transform="rotate(-45 471.09999999999997 170.5)" stroke="#111" stroke-width="0.25">29NTS</text>
<text x="484.8" y="170.5" font-size="5.3" font-weight="bold" text-anchor="end" fill="#111" transform="rotate(-45 484.8 170.5)" stroke="#111" stroke-width="0.25">29QTS</text>
<rect x="450.1" y="105.2" width="9" height="2.3" fill="#111" stroke="none" stroke-width="0.7"/>
<path d="M466.1,161.88 L468.9,161.88 L467.5,164.4 Z" fill="#111" stroke="none" stroke-width="1"/>
<path d="M468.1,161.38 L470.9,161.38 L469.5,163.9 Z" fill="#111" stroke="none" stroke-width="1"/>
<path d="M469.90000000000003,162.07999999999998 L472.7,162.07999999999998 L471.3,164.6 Z" fill="#111" stroke="none" stroke-width="1"/>
<path d="M467.90000000000003,159.28 L470.7,159.28 L469.3,161.8 Z" fill="#111" stroke="none" stroke-width="1"/>
<path d="M467.1,162.68 L469.9,162.68 L468.5,165.20000000000002 Z" fill="#111" stroke="none" stroke-width="1"/>
<path d="M469.1,162.88 L471.9,162.88 L470.5,165.4 Z" fill="#111" stroke="none" stroke-width="1"/>
<path d="M483.0,118.96 L485.6,118.96 L484.3,121.3 Z" fill="#111" stroke="none" stroke-width="1"/>
<path d="M482.2,122.96 L484.8,122.96 L483.5,125.3 Z" fill="#111" stroke="none" stroke-width="1"/>
<path d="M483.7,125.96 L486.3,125.96 L485,128.3 Z" fill="#111" stroke="none" stroke-width="1"/>
<path d="M482.0,130.46 L484.6,130.46 L483.3,132.8 Z" fill="#111" stroke="none" stroke-width="1"/>
<path d="M483.0,134.96 L485.6,134.96 L484.3,137.3 Z" fill="#111" stroke="none" stroke-width="1"/>
<line x1="478.6" y1="128.6" x2="489.2" y2="128.6" stroke="#111" stroke-width="1.1"/>
<line x1="484.3" y1="121" x2="484.3" y2="136" stroke="#111" stroke-width="0.8"/>
<text x="0.42" y="202.1" font-size="12.0" font-weight="bold" text-anchor="start" fill="#000" stroke="#000" stroke-width="0.35">D</text>
<line x1="41.5" y1="200.0" x2="47.5" y2="200.0" stroke="#c0c0c0" stroke-width="1.1"/>
<text x="49.7" y="202.6" font-size="7.2" font-weight="bold" text-anchor="start" fill="#111">EV</text>
<line x1="41.5" y1="208.2" x2="47.5" y2="208.2" stroke="#d08880" stroke-width="1.1"/>
<text x="49.7" y="210.79999999999998" font-size="7.2" font-weight="bold" text-anchor="start" fill="#111">B1-8</text>
<line x1="118.2" y1="200.8" x2="124.2" y2="200.8" stroke="#d08878" stroke-width="1.1"/>
<text x="126.4" y="203.4" font-size="7.4" font-weight="bold" text-anchor="start" fill="#111">B1-8</text>
<line x1="118.2" y1="208.20000000000002" x2="124.2" y2="208.20000000000002" stroke="#6070a8" stroke-width="1.1"/>
<text x="126.4" y="210.8" font-size="7.4" font-weight="bold" text-anchor="start" fill="#111">W33N</text>
<line x1="118.2" y1="215.60000000000002" x2="124.2" y2="215.60000000000002" stroke="#8a9a60" stroke-width="1.1"/>
<text x="126.4" y="218.20000000000002" font-size="7.4" font-weight="bold" text-anchor="start" fill="#111">W33Q</text>
<line x1="190.6" y1="200.5" x2="196.6" y2="200.5" stroke="#d09080" stroke-width="1.1"/>
<text x="198.79999999999998" y="203.1" font-size="7.4" font-weight="bold" text-anchor="start" fill="#111">B1-8</text>
<line x1="190.6" y1="207.9" x2="196.6" y2="207.9" stroke="#6070a8" stroke-width="1.1"/>
<text x="198.79999999999998" y="210.5" font-size="7.4" font-weight="bold" text-anchor="start" fill="#111">D100N</text>
<line x1="190.6" y1="215.3" x2="196.6" y2="215.3" stroke="#8a9a70" stroke-width="1.1"/>
<text x="198.79999999999998" y="217.9" font-size="7.4" font-weight="bold" text-anchor="start" fill="#111">D100Q</text>
<line x1="40.2" y1="224.5" x2="40.2" y2="247.3" stroke="#aaa" stroke-width="0.7"/>
<line x1="40.2" y1="247.3" x2="106.2" y2="247.3" stroke="#aaa" stroke-width="0.7"/>
<line x1="106.2" y1="224.5" x2="106.2" y2="247.3" stroke="#aaa" stroke-width="0.7"/>
<line x1="40.2" y1="224.5" x2="106.2" y2="224.5" stroke="#b8b8b8" stroke-width="0.7"/>
<line x1="114.4" y1="224.3" x2="114.4" y2="247.3" stroke="#aaa" stroke-width="0.7"/>
<line x1="114.4" y1="247.3" x2="180.7" y2="247.3" stroke="#aaa" stroke-width="0.7"/>
<line x1="180.7" y1="224.3" x2="180.7" y2="247.3" stroke="#aaa" stroke-width="0.7"/>
<line x1="114.4" y1="224.3" x2="180.7" y2="224.3" stroke="#b8b8b8" stroke-width="0.7"/>
<line x1="188.9" y1="224.4" x2="188.9" y2="247.3" stroke="#aaa" stroke-width="0.7"/>
<line x1="188.9" y1="247.3" x2="255.6" y2="247.3" stroke="#aaa" stroke-width="0.7"/>
<line x1="255.6" y1="224.4" x2="255.6" y2="247.3" stroke="#aaa" stroke-width="0.7"/>
<line x1="188.9" y1="224.4" x2="255.6" y2="224.4" stroke="#b8b8b8" stroke-width="0.7"/>
<path d="M40.50,240.50 L41.00,240.49 L41.50,240.47 L42.00,240.46 L42.50,240.44 L43.00,240.43 L43.50,240.41 L44.00,240.40 L44.50,240.38 L45.00,240.37 L45.50,240.35 L46.00,240.34 L46.50,240.33 L47.00,240.31 L47.50,240.30 L48.00,240.28 L48.50,240.27 L49.00,240.25 L49.50,240.24 L50.00,240.22 L50.50,240.21 L51.00,240.20 L51.50,240.18 L52.00,240.17 L52.50,240.15 L53.00,240.14 L53.50,240.12 L54.00,240.11 L54.50,240.09 L55.00,240.08 L55.50,240.06 L56.00,240.05 L56.50,240.04 L57.00,240.02 L57.50,240.01 L58.00,239.99 L58.50,239.98 L59.00,239.96 L59.50,239.95 L60.00,239.93 L60.50,239.92 L61.00,239.91 L61.50,239.89 L62.00,239.88 L62.50,239.86 L63.00,239.85 L63.50,239.83 L64.00,239.82 L64.50,239.80 L65.00,239.79 L65.50,239.77 L66.00,239.76 L66.50,239.75 L67.00,239.73 L67.50,239.72 L68.00,239.70 L68.50,239.69 L69.00,239.67 L69.50,239.66 L70.00,239.64 L70.50,239.63 L71.00,239.62 L71.50,239.60 L72.00,239.59 L72.50,239.57 L73.00,239.56 L73.50,239.54 L74.00,239.53 L74.50,239.51 L75.00,239.50 L75.50,239.48 L76.00,239.47 L76.50,239.46 L77.00,239.44 L77.50,239.43 L78.00,239.41 L78.50,239.40 L79.00,239.38 L79.50,239.37 L80.00,239.35 L80.50,239.34 L81.00,239.33 L81.50,239.31 L82.00,239.30 L82.50,239.28 L83.00,239.27 L83.50,239.25 L84.00,239.24 L84.50,239.22 L85.00,239.21 L85.50,239.19 L86.00,239.18 L86.50,239.17 L87.00,239.15 L87.50,239.14 L88.00,239.12 L88.50,239.11 L89.00,239.09 L89.50,239.08 L90.00,239.06 L90.50,239.05 L91.00,239.04 L91.50,239.02 L92.00,239.01 L92.50,238.99 L93.00,238.98 L93.50,238.96 L94.00,238.95 L94.50,238.93 L95.00,238.92 L95.50,238.90 L96.00,238.89 L96.50,238.88 L97.00,238.86 L97.50,238.85 L98.00,238.83 L98.50,238.82 L99.00,238.80 L99.50,238.79 L100.00,238.77 L100.50,238.76 L101.00,238.75 L101.50,238.73 L102.00,238.72 L102.50,238.70 L103.00,238.69 L103.50,238.67 L104.00,238.66 L104.50,238.64 L105.00,238.63 L105.50,238.61" fill="none" stroke="#d8c8c8" stroke-width="0.9" stroke-linejoin="round"/>
<path d="M40.50,240.81 L40.72,241.31 L40.94,241.10 L41.16,241.22 L41.38,240.78 L41.60,241.37 L41.82,241.31 L42.04,241.06 L42.26,240.88 L42.48,241.42 L42.70,240.72 L42.92,241.45 L43.14,240.87 L43.36,240.72 L43.58,241.05 L43.80,240.89 L44.02,240.88 L44.24,240.93 L44.46,241.37 L44.68,241.21 L44.90,241.49 L45.12,240.80 L45.34,241.28 L45.56,241.45 L45.78,241.36 L46.00,240.94 L46.22,241.41 L46.44,241.10 L46.66,240.73 L46.88,241.34 L47.10,240.84 L47.32,241.26 L47.54,241.00 L47.76,241.11 L47.98,241.12 L48.20,241.09 L48.42,240.73 L48.64,241.49 L48.86,241.01 L49.08,241.10 L49.30,241.32 L49.52,241.39 L49.74,241.11 L49.96,241.16 L50.18,240.92 L50.40,241.47 L50.62,241.33 L50.84,241.38 L51.06,241.18 L51.28,240.84 L51.50,240.29 L51.72,240.56 L51.94,240.37 L52.16,239.76 L52.38,240.20 L52.60,240.30 L52.82,238.29 L53.04,238.63 L53.26,240.67 L53.48,240.33 L53.70,238.46 L53.92,239.61 L54.14,237.41 L54.36,236.28 L54.58,237.75 L54.80,238.65 L55.02,237.70 L55.24,238.15 L55.46,237.00 L55.68,237.78 L55.90,236.65 L56.12,237.81 L56.34,237.99 L56.56,235.58 L56.78,238.10 L57.00,237.93 L57.22,237.30 L57.44,238.56 L57.66,236.97 L57.88,237.27 L58.10,236.92 L58.32,236.15 L58.54,237.95 L58.76,235.72 L58.98,235.63 L59.20,236.91 L59.42,232.77 L59.64,234.44 L59.86,237.29 L60.08,234.66 L60.30,237.13 L60.52,235.55 L60.74,234.94 L60.96,235.89 L61.18,232.40 L61.40,234.50 L61.62,234.51 L61.84,235.70 L62.06,234.35 L62.28,235.73 L62.50,233.83 L62.72,235.76 L62.94,234.10 L63.16,235.13 L63.38,236.02 L63.60,234.65 L63.82,235.65 L64.04,235.11 L64.26,235.31 L64.48,233.65 L64.70,235.29 L64.92,235.51 L65.14,232.85 L65.36,232.50 L65.58,235.10 L65.80,234.94 L66.02,234.22 L66.24,233.42 L66.46,232.15 L66.68,235.00 L66.90,235.08 L67.12,232.99 L67.34,232.85 L67.56,229.87 L67.78,232.17 L68.00,235.19 L68.22,232.39 L68.44,232.78 L68.66,232.33 L68.88,233.21 L69.10,234.92 L69.32,232.83 L69.54,232.36 L69.76,229.43 L69.98,233.02 L70.20,233.53 L70.42,232.30 L70.64,235.22 L70.86,232.49 L71.08,234.12 L71.30,233.90 L71.52,234.30 L71.74,233.93 L71.96,232.21 L72.18,235.37 L72.40,234.32 L72.62,235.26 L72.84,233.25 L73.06,233.29 L73.28,235.15 L73.50,233.38 L73.72,234.17 L73.94,232.44 L74.16,232.58 L74.38,230.81 L74.60,233.31 L74.82,233.97 L75.04,232.89 L75.26,232.30 L75.48,232.98 L75.70,235.59 L75.92,232.04 L76.14,235.41 L76.36,235.34 L76.58,234.52 L76.80,235.39 L77.02,235.42 L77.24,234.92 L77.46,233.11 L77.68,233.06 L77.90,234.70 L78.12,232.78 L78.34,235.17 L78.56,234.33 L78.78,234.06 L79.00,233.71 L79.22,232.71 L79.44,233.98 L79.66,232.86 L79.88,233.11 L80.10,233.51 L80.32,233.96 L80.54,234.66 L80.76,232.74 L80.98,234.33 L81.20,234.14 L81.42,235.09 L81.64,234.34 L81.86,233.49 L82.08,234.57 L82.30,235.72 L82.52,234.67 L82.74,234.45 L82.96,233.33 L83.18,235.65 L83.40,235.05 L83.62,234.04 L83.84,235.22 L84.06,235.61 L84.28,235.95 L84.50,233.45 L84.72,233.59 L84.94,233.42 L85.16,235.21 L85.38,234.57 L85.60,232.52 L85.82,235.53 L86.04,233.81 L86.26,236.03 L86.48,235.45 L86.70,235.09 L86.92,234.41 L87.14,236.11 L87.36,235.58 L87.58,233.54 L87.80,233.43 L88.02,234.42 L88.24,233.52 L88.46,233.84 L88.68,233.07 L88.90,232.71 L89.12,235.01 L89.34,233.74 L89.56,234.83 L89.78,234.97 L90.00,235.29 L90.22,235.70 L90.44,234.87 L90.66,235.87 L90.88,234.96 L91.10,231.79 L91.32,233.53 L91.54,234.91 L91.76,235.61 L91.98,233.61 L92.20,235.02 L92.42,234.80 L92.64,233.65 L92.86,234.65 L93.08,234.49 L93.30,235.41 L93.52,235.30 L93.74,233.11 L93.96,235.16 L94.18,235.90 L94.40,236.42 L94.62,235.93 L94.84,235.65 L95.06,234.25 L95.28,235.27 L95.50,233.35 L95.72,234.66 L95.94,236.06 L96.16,235.66 L96.38,235.71 L96.60,235.71 L96.82,235.41 L97.04,234.64 L97.26,235.37 L97.48,235.85 L97.70,235.81 L97.92,235.30 L98.14,234.21 L98.36,236.17 L98.58,233.87 L98.80,234.94 L99.02,233.54 L99.24,235.78 L99.46,234.54 L99.68,233.47 L99.90,236.44 L100.12,234.71 L100.34,235.36 L100.56,234.10 L100.78,231.97 L101.00,235.12 L101.22,235.09 L101.44,233.99 L101.66,235.74 L101.88,234.33 L102.10,234.21 L102.32,234.03 L102.54,236.25 L102.76,234.20 L102.98,235.75 L103.20,233.59 L103.42,235.49 L103.64,234.89 L103.86,236.03 L104.08,235.52 L104.30,236.64 L104.52,236.45 L104.74,235.47 L104.96,235.22 L105.18,233.98 L105.40,234.70 L105.62,234.32" fill="none" stroke="#e89090" stroke-width="0.8" stroke-linejoin="round"/>
<path d="M40.50,240.88 L40.80,241.05 L41.10,240.94 L41.40,240.98 L41.70,240.94 L42.00,241.17 L42.30,241.12 L42.60,241.06 L42.90,240.92 L43.20,241.30 L43.50,240.96 L43.80,241.04 L44.10,240.97 L44.40,241.14 L44.70,241.30 L45.00,241.03 L45.30,241.25 L45.60,240.89 L45.90,241.27 L46.20,240.97 L46.50,241.20 L46.80,241.16 L47.10,240.89 L47.40,241.03 L47.70,241.17 L48.00,241.31 L48.30,241.32 L48.60,241.01 L48.90,241.16 L49.20,241.18 L49.50,240.96 L49.80,241.15 L50.10,240.92 L50.40,241.28 L50.70,241.32 L51.00,240.95 L51.30,240.75 L51.60,240.61 L51.90,240.21 L52.20,239.51 L52.50,239.71 L52.80,240.45 L53.10,239.62 L53.40,239.03 L53.70,239.45 L54.00,238.02 L54.30,239.27 L54.60,239.54 L54.90,238.06 L55.20,239.19 L55.50,237.26 L55.80,237.57 L56.10,236.97 L56.40,237.35 L56.70,236.92 L57.00,237.85 L57.30,236.54 L57.60,237.30 L57.90,237.43 L58.20,236.67 L58.50,236.41 L58.80,236.26 L59.10,235.50 L59.40,236.47 L59.70,236.23 L60.00,235.15 L60.30,234.93 L60.60,234.84 L60.90,235.01 L61.20,235.62 L61.50,234.65 L61.80,235.43 L62.10,234.05 L62.40,235.50 L62.70,234.15 L63.00,234.34 L63.30,235.06 L63.60,233.86 L63.90,234.04 L64.20,234.00 L64.50,233.38 L64.80,234.31 L65.10,234.02 L65.40,233.56 L65.70,233.06 L66.00,233.48 L66.30,232.34 L66.60,234.22 L66.90,234.47 L67.20,233.52 L67.50,233.18 L67.80,234.26 L68.10,232.44 L68.40,233.05 L68.70,233.68 L69.00,233.91 L69.30,234.27 L69.60,233.44 L69.90,233.76 L70.20,233.53 L70.50,233.24 L70.80,232.91 L71.10,234.08 L71.40,234.64 L71.70,233.00 L72.00,233.79 L72.30,232.71 L72.60,233.03 L72.90,233.94 L73.20,232.04 L73.50,233.80 L73.80,233.89 L74.10,234.67 L74.40,234.37 L74.70,232.10 L75.00,233.20 L75.30,234.75 L75.60,233.83 L75.90,234.85 L76.20,233.58 L76.50,234.00 L76.80,234.67 L77.10,234.86 L77.40,234.88 L77.70,234.25 L78.00,234.09 L78.30,234.34 L78.60,234.87 L78.90,234.00 L79.20,233.95 L79.50,234.11 L79.80,233.86 L80.10,234.59 L80.40,233.73 L80.70,233.88 L81.00,233.73 L81.30,233.63 L81.60,233.93 L81.90,234.10 L82.20,234.92 L82.50,234.37 L82.80,234.76 L83.10,233.64 L83.40,234.10 L83.70,234.54 L84.00,233.78 L84.30,234.68 L84.60,235.18 L84.90,234.67 L85.20,234.09 L85.50,235.05 L85.80,234.62 L86.10,235.41 L86.40,233.80 L86.70,233.95 L87.00,234.55 L87.30,235.18 L87.60,233.97 L87.90,234.05 L88.20,233.98 L88.50,234.39 L88.80,235.38 L89.10,234.38 L89.40,234.98 L89.70,234.04 L90.00,234.10 L90.30,235.15 L90.60,234.45 L90.90,233.91 L91.20,235.00 L91.50,232.95 L91.80,235.40 L92.10,233.58 L92.40,233.98 L92.70,234.77 L93.00,234.84 L93.30,233.77 L93.60,235.69 L93.90,235.21 L94.20,234.54 L94.50,235.53 L94.80,235.63 L95.10,234.72 L95.40,235.58 L95.70,233.63 L96.00,235.67 L96.30,234.28 L96.60,233.82 L96.90,235.22 L97.20,234.66 L97.50,234.89 L97.80,234.48 L98.10,235.26 L98.40,235.82 L98.70,235.37 L99.00,234.87 L99.30,235.17 L99.60,234.71 L99.90,235.83 L100.20,234.27 L100.50,235.19 L100.80,235.54 L101.10,235.13 L101.40,234.20 L101.70,235.40 L102.00,235.87 L102.30,235.92 L102.60,235.00 L102.90,235.27 L103.20,235.43 L103.50,234.43 L103.80,235.29 L104.10,234.28 L104.40,235.48 L104.70,234.42 L105.00,234.96 L105.30,235.25 L105.60,235.97" fill="none" stroke="#c85050" stroke-width="0.6" stroke-linejoin="round"/>
<path d="M114.60,241.65 L114.85,241.70 L115.10,241.72 L115.35,241.78 L115.60,241.70 L115.85,241.77 L116.10,241.41 L116.35,241.59 L116.60,241.78 L116.85,241.66 L117.10,241.76 L117.35,241.45 L117.60,241.59 L117.85,241.50 L118.10,241.62 L118.35,241.63 L118.60,241.41 L118.85,241.49 L119.10,241.51 L119.35,241.77 L119.60,241.71 L119.85,241.46 L120.10,241.72 L120.35,241.46 L120.60,241.65 L120.85,241.45 L121.10,241.40 L121.35,241.75 L121.60,241.48 L121.85,241.49 L122.10,241.79 L122.35,241.75 L122.60,241.52 L122.85,241.78 L123.10,241.62 L123.35,241.67 L123.60,241.48 L123.85,241.78 L124.10,241.68 L124.35,241.79 L124.60,241.76 L124.85,241.52 L125.10,241.54 L125.35,241.47 L125.60,241.46 L125.85,241.43 L126.10,241.52 L126.35,241.64 L126.60,241.39 L126.85,241.62 L127.10,241.45 L127.35,241.41 L127.60,241.57 L127.85,241.40 L128.10,241.30 L128.35,241.34 L128.60,241.39 L128.85,241.10 L129.10,241.43 L129.35,241.01 L129.60,241.27 L129.85,241.27 L130.10,240.91 L130.35,241.18 L130.60,240.98 L130.85,241.03 L131.10,240.76 L131.35,240.75 L131.60,240.76 L131.85,241.04 L132.10,240.70 L132.35,240.89 L132.60,240.92 L132.85,240.89 L133.10,240.62 L133.35,240.59 L133.60,240.62 L133.85,240.69 L134.10,240.39 L134.35,240.61 L134.60,240.59 L134.85,240.58 L135.10,240.22 L135.35,240.55 L135.60,240.17 L135.85,240.24 L136.10,240.31 L136.35,240.40 L136.60,240.13 L136.85,240.33 L137.10,240.15 L137.35,240.02 L137.60,239.99 L137.85,239.89 L138.10,239.82 L138.35,239.81 L138.60,240.00 L138.85,240.08 L139.10,239.71 L139.35,239.63 L139.60,239.98 L139.85,239.76 L140.10,239.67 L140.35,239.57 L140.60,239.68 L140.85,239.74 L141.10,239.55 L141.35,239.51 L141.60,239.33 L141.85,239.63 L142.10,239.25 L142.35,239.40 L142.60,239.50 L142.85,239.18 L143.10,239.39 L143.35,239.44 L143.60,239.28 L143.85,239.31 L144.10,239.00 L144.35,239.09 L144.60,238.95 L144.85,239.19 L145.10,238.93 L145.35,238.96 L145.60,239.15 L145.85,239.05 L146.10,239.07 L146.35,238.82 L146.60,238.80 L146.85,238.87 L147.10,238.73 L147.35,238.62 L147.60,238.63 L147.85,238.49 L148.10,238.55 L148.35,238.76 L148.60,238.71 L148.85,238.55 L149.10,238.46 L149.35,238.36 L149.60,238.23 L149.85,238.27 L150.10,238.77 L150.35,238.88 L150.60,238.03 L150.85,238.68 L151.10,238.62 L151.35,238.46 L151.60,238.38 L151.85,238.49 L152.10,237.83 L152.35,238.34 L152.60,237.62 L152.85,237.92 L153.10,238.34 L153.35,238.18 L153.60,237.51 L153.85,238.51 L154.10,238.01 L154.35,237.86 L154.60,236.92 L154.85,237.74 L155.10,237.23 L155.35,237.87 L155.60,237.50 L155.85,238.03 L156.10,237.72 L156.35,237.93 L156.60,237.18 L156.85,237.62 L157.10,237.73 L157.35,237.84 L157.60,237.04 L157.85,237.79 L158.10,237.80 L158.35,237.48 L158.60,237.90 L158.85,237.84 L159.10,237.10 L159.35,237.08 L159.60,236.47 L159.85,237.51 L160.10,237.63 L160.35,236.86 L160.60,237.17 L160.85,237.18 L161.10,237.16 L161.35,236.23 L161.60,237.17 L161.85,236.82 L162.10,236.92 L162.35,236.49 L162.60,236.78 L162.85,236.99 L163.10,236.74 L163.35,236.83 L163.60,235.69 L163.85,235.87 L164.10,236.28 L164.35,236.58 L164.60,235.86 L164.85,236.57 L165.10,236.45 L165.35,235.47 L165.60,236.12 L165.85,235.70 L166.10,235.39 L166.35,235.48 L166.60,235.74 L166.85,235.49 L167.10,235.47 L167.35,235.18 L167.60,235.84 L167.85,235.67 L168.10,236.00 L168.35,235.93 L168.60,235.33 L168.85,236.36 L169.10,234.88 L169.35,235.50 L169.60,235.26 L169.85,235.44 L170.10,234.93 L170.35,236.04 L170.60,235.27 L170.85,234.70 L171.10,235.59 L171.35,234.72 L171.60,235.41 L171.85,235.04 L172.10,235.40 L172.35,235.97 L172.60,235.71 L172.85,235.03 L173.10,235.63 L173.35,235.32 L173.60,234.85 L173.85,234.45 L174.10,235.14 L174.35,235.06 L174.60,235.65 L174.85,235.63 L175.10,235.02 L175.35,234.58 L175.60,235.41 L175.85,233.95 L176.10,234.08 L176.35,234.78 L176.60,234.83 L176.85,234.03 L177.10,234.78 L177.35,235.16 L177.60,234.30 L177.85,234.36 L178.10,234.00 L178.35,234.07 L178.60,235.12 L178.85,234.14 L179.10,235.03 L179.35,234.92 L179.60,234.38 L179.85,233.81 L180.10,234.93 L180.35,234.11" fill="none" stroke="#3a4a9a" stroke-width="1.0" stroke-linejoin="round"/>
<path d="M114.60,242.10 L114.80,241.11 L115.00,241.97 L115.20,241.79 L115.40,241.72 L115.60,241.69 L115.80,241.52 L116.00,241.85 L116.20,242.09 L116.40,241.54 L116.60,241.09 L116.80,241.56 L117.00,241.47 L117.20,241.63 L117.40,241.31 L117.60,241.41 L117.80,241.61 L118.00,241.79 L118.20,242.03 L118.40,241.86 L118.60,241.89 L118.80,241.44 L119.00,242.11 L119.20,241.88 L119.40,241.56 L119.60,241.59 L119.80,241.60 L120.00,241.44 L120.20,242.04 L120.40,241.67 L120.60,241.85 L120.80,241.29 L121.00,241.82 L121.20,242.05 L121.40,242.05 L121.60,242.10 L121.80,241.60 L122.00,241.77 L122.20,241.39 L122.40,241.61 L122.60,241.74 L122.80,241.95 L123.00,242.05 L123.20,241.87 L123.40,241.77 L123.60,241.30 L123.80,241.17 L124.00,241.99 L124.20,241.28 L124.40,241.52 L124.60,241.09 L124.80,241.24 L125.00,241.14 L125.20,241.08 L125.40,241.07 L125.60,241.94 L125.80,241.25 L126.00,241.47 L126.20,242.14 L126.40,241.09 L126.60,241.73 L126.80,241.17 L127.00,241.08 L127.20,241.89 L127.40,242.04 L127.60,242.00 L127.80,241.57 L128.00,241.78 L128.20,241.16 L128.40,242.01 L128.60,241.69 L128.80,241.62 L129.00,242.11 L129.20,241.54 L129.40,240.72 L129.60,240.67 L129.80,240.38 L130.00,238.94 L130.20,240.57 L130.40,242.27 L130.60,239.01 L130.80,238.91 L131.00,240.38 L131.20,240.58 L131.40,239.15 L131.60,236.24 L131.80,237.43 L132.00,237.43 L132.20,237.62 L132.40,238.72 L132.60,237.63 L132.80,237.03 L133.00,240.17 L133.20,237.68 L133.40,237.24 L133.60,237.75 L133.80,235.69 L134.00,236.73 L134.20,239.02 L134.40,236.08 L134.60,234.78 L134.80,234.94 L135.00,238.04 L135.20,234.27 L135.40,235.86 L135.60,234.82 L135.80,234.08 L136.00,235.26 L136.20,233.81 L136.40,234.18 L136.60,234.92 L136.80,236.38 L137.00,233.47 L137.20,233.16 L137.40,235.50 L137.60,234.15 L137.80,235.85 L138.00,234.50 L138.20,234.20 L138.40,233.25 L138.60,234.06 L138.80,235.39 L139.00,235.42 L139.20,232.65 L139.40,232.67 L139.60,234.42 L139.80,233.91 L140.00,231.66 L140.20,235.54 L140.40,232.70 L140.60,234.91 L140.80,233.74 L141.00,232.11 L141.20,233.68 L141.40,232.59 L141.60,231.08 L141.80,234.69 L142.00,230.87 L142.20,233.53 L142.40,234.26 L142.60,233.36 L142.80,234.60 L143.00,232.69 L143.20,230.75 L143.40,233.96 L143.60,232.28 L143.80,231.78 L144.00,234.08 L144.20,232.01 L144.40,231.36 L144.60,232.78 L144.80,233.61 L145.00,232.57 L145.20,232.76 L145.40,231.59 L145.60,232.94 L145.80,232.66 L146.00,229.88 L146.20,233.06 L146.40,233.88 L146.60,230.39 L146.80,233.37 L147.00,233.32 L147.20,230.93 L147.40,230.74 L147.60,232.09 L147.80,232.72 L148.00,231.17 L148.20,229.57 L148.40,234.04 L148.60,233.72 L148.80,233.41 L149.00,231.66 L149.20,228.99 L149.40,231.33 L149.60,234.06 L149.80,233.62 L150.00,234.49 L150.20,231.44 L150.40,232.81 L150.60,230.85 L150.80,235.09 L151.00,233.24 L151.20,232.86 L151.40,232.30 L151.60,233.11 L151.80,233.23 L152.00,232.39 L152.20,234.59 L152.40,232.85 L152.60,231.56 L152.80,232.91 L153.00,234.96 L153.20,234.02 L153.40,232.31 L153.60,232.33 L153.80,233.76 L154.00,233.04 L154.20,231.80 L154.40,232.17 L154.60,232.75 L154.80,235.55 L155.00,234.34 L155.20,232.46 L155.40,232.41 L155.60,233.25 L155.80,235.13 L156.00,235.22 L156.20,233.45 L156.40,233.22 L156.60,235.81 L156.80,234.80 L157.00,235.06 L157.20,235.64 L157.40,235.15 L157.60,233.15 L157.80,234.84 L158.00,233.65 L158.20,236.15 L158.40,234.05 L158.60,232.80 L158.80,231.79 L159.00,233.61 L159.20,235.93 L159.40,233.99 L159.60,233.13 L159.80,233.83 L160.00,234.94 L160.20,233.55 L160.40,232.59 L160.60,233.09 L160.80,234.06 L161.00,233.74 L161.20,233.31 L161.40,233.75 L161.60,235.35 L161.80,236.05 L162.00,235.76 L162.20,234.65 L162.40,233.85 L162.60,235.07 L162.80,236.79 L163.00,234.50 L163.20,233.83 L163.40,235.08 L163.60,234.84 L163.80,236.84 L164.00,234.50 L164.20,234.59 L164.40,236.91 L164.60,236.67 L164.80,235.92 L165.00,235.86 L165.20,234.14 L165.40,233.26 L165.60,233.03 L165.80,233.52 L166.00,233.72 L166.20,235.13 L166.40,234.45 L166.60,236.74 L166.80,235.01 L167.00,236.58 L167.20,234.90 L167.40,232.80 L167.60,233.00 L167.80,234.44 L168.00,236.57 L168.20,235.96 L168.40,236.85 L168.60,233.29 L168.80,235.60 L169.00,234.51 L169.20,234.76 L169.40,234.63 L169.60,236.46 L169.80,234.98 L170.00,236.28 L170.20,233.93 L170.40,236.01 L170.60,233.08 L170.80,233.84 L171.00,235.51 L171.20,235.72 L171.40,236.07 L171.60,233.20 L171.80,236.62 L172.00,235.21" fill="none" stroke="#98b030" stroke-width="0.7" stroke-linejoin="round"/>
<path d="M114.60,241.26 L114.85,241.44 L115.10,241.60 L115.35,241.28 L115.60,241.87 L115.85,241.96 L116.10,241.50 L116.35,241.80 L116.60,241.21 L116.85,241.87 L117.10,241.96 L117.35,241.27 L117.60,241.98 L117.85,241.33 L118.10,241.24 L118.35,241.48 L118.60,241.45 L118.85,241.33 L119.10,241.79 L119.35,241.66 L119.60,241.67 L119.85,241.46 L120.10,241.52 L120.35,241.54 L120.60,241.58 L120.85,241.56 L121.10,241.27 L121.35,241.73 L121.60,241.44 L121.85,241.35 L122.10,241.21 L122.35,241.75 L122.60,241.59 L122.85,241.89 L123.10,241.62 L123.35,241.38 L123.60,241.78 L123.85,241.88 L124.10,241.68 L124.35,241.72 L124.60,241.40 L124.85,241.22 L125.10,241.67 L125.35,241.82 L125.60,241.97 L125.85,241.57 L126.10,241.45 L126.35,241.49 L126.60,241.77 L126.85,241.37 L127.10,241.67 L127.35,241.93 L127.60,241.86 L127.85,241.97 L128.10,241.20 L128.35,241.78 L128.60,241.81 L128.85,241.29 L129.10,241.88 L129.35,241.08 L129.60,241.05 L129.85,240.47 L130.10,239.87 L130.35,237.93 L130.60,240.24 L130.85,241.19 L131.10,238.45 L131.35,241.17 L131.60,238.00 L131.85,240.74 L132.10,238.16 L132.35,239.45 L132.60,237.56 L132.85,238.75 L133.10,236.63 L133.35,238.77 L133.60,236.44 L133.85,238.92 L134.10,237.29 L134.35,237.25 L134.60,236.28 L134.85,235.26 L135.10,235.73 L135.35,235.88 L135.60,237.27 L135.85,234.99 L136.10,235.84 L136.35,234.55 L136.60,236.42 L136.85,234.65 L137.10,234.62 L137.35,235.05 L137.60,233.84 L137.85,233.13 L138.10,235.63 L138.35,233.27 L138.60,233.76 L138.85,234.22 L139.10,232.59 L139.35,233.98 L139.60,235.03 L139.85,234.46 L140.10,232.65 L140.35,233.86 L140.60,234.18 L140.85,233.66 L141.10,232.66 L141.35,231.51 L141.60,234.15 L141.85,233.52 L142.10,233.48 L142.35,232.52 L142.60,232.27 L142.85,233.25 L143.10,233.04 L143.35,231.22 L143.60,233.19 L143.85,233.09 L144.10,234.04 L144.35,231.34 L144.60,232.21 L144.85,233.92 L145.10,232.77 L145.35,232.50 L145.60,231.08 L145.85,233.04 L146.10,231.11 L146.35,233.51 L146.60,231.29 L146.85,233.05 L147.10,232.06 L147.35,231.73 L147.60,231.46 L147.85,232.61 L148.10,231.95 L148.35,231.98 L148.60,231.56 L148.85,233.57 L149.10,231.58 L149.35,232.10 L149.60,232.12 L149.85,234.59 L150.10,233.02 L150.35,234.65 L150.60,234.72 L150.85,234.74 L151.10,232.80 L151.35,233.37 L151.60,232.71 L151.85,231.77 L152.10,234.43 L152.35,233.26 L152.60,232.64 L152.85,232.15 L153.10,232.30 L153.35,232.38 L153.60,232.46 L153.85,232.83 L154.10,234.28 L154.35,231.65 L154.60,235.05 L154.85,234.63 L155.10,233.44 L155.35,233.83 L155.60,235.46 L155.85,234.73 L156.10,234.63 L156.35,232.69 L156.60,234.25 L156.85,235.70 L157.10,233.34 L157.35,233.79 L157.60,232.99 L157.85,235.29 L158.10,234.79 L158.35,232.83 L158.60,235.37 L158.85,233.18 L159.10,234.60 L159.35,234.81 L159.60,234.47 L159.85,234.76 L160.10,234.34 L160.35,233.79 L160.60,233.73 L160.85,234.33 L161.10,233.42 L161.35,234.57 L161.60,233.99 L161.85,236.05 L162.10,234.96 L162.35,234.41 L162.60,235.18 L162.85,234.11 L163.10,234.89 L163.35,233.98 L163.60,235.38 L163.85,235.69 L164.10,235.59 L164.35,236.18 L164.60,233.84 L164.85,233.95 L165.10,235.64 L165.35,234.06 L165.60,234.33 L165.85,235.73 L166.10,236.53 L166.35,234.47 L166.60,235.08 L166.85,234.42 L167.10,235.20 L167.35,233.62 L167.60,235.67 L167.85,235.38 L168.10,234.99 L168.35,233.92 L168.60,233.84 L168.85,235.72 L169.10,236.59 L169.35,236.37 L169.60,236.84 L169.85,236.62 L170.10,235.39 L170.35,236.45 L170.60,235.22 L170.85,235.78 L171.10,236.69 L171.35,234.26 L171.60,235.55 L171.85,236.08" fill="none" stroke="#c0b030" stroke-width="0.5" stroke-linejoin="round"/>
<path d="M114.60,241.31 L114.80,241.46 L115.00,241.74 L115.20,241.06 L115.40,241.34 L115.60,242.15 L115.80,241.97 L116.00,241.75 L116.20,241.75 L116.40,241.63 L116.60,241.79 L116.80,241.88 L117.00,241.38 L117.20,242.00 L117.40,241.84 L117.60,241.84 L117.80,241.48 L118.00,241.54 L118.20,242.02 L118.40,241.20 L118.60,242.11 L118.80,241.74 L119.00,241.61 L119.20,241.44 L119.40,241.69 L119.60,241.80 L119.80,241.99 L120.00,241.79 L120.20,242.00 L120.40,242.05 L120.60,241.84 L120.80,241.96 L121.00,241.36 L121.20,241.99 L121.40,241.15 L121.60,241.50 L121.80,241.37 L122.00,242.01 L122.20,241.73 L122.40,241.84 L122.60,242.02 L122.80,241.61 L123.00,241.39 L123.20,241.71 L123.40,241.27 L123.60,241.72 L123.80,241.10 L124.00,241.40 L124.20,242.04 L124.40,241.56 L124.60,241.76 L124.80,241.67 L125.00,242.08 L125.20,241.52 L125.40,241.31 L125.60,242.13 L125.80,241.65 L126.00,241.51 L126.20,241.07 L126.40,241.75 L126.60,241.62 L126.80,241.42 L127.00,241.89 L127.20,236.26 L127.40,242.52 L127.60,240.05 L127.80,239.20 L128.00,238.92 L128.20,239.93 L128.40,238.72 L128.60,236.94 L128.80,239.82 L129.00,237.33 L129.20,237.17 L129.40,237.80 L129.60,236.11 L129.80,236.90 L130.00,237.14 L130.20,235.74 L130.40,237.64 L130.60,236.55 L130.80,234.89 L131.00,234.99 L131.20,237.64 L131.40,234.98 L131.60,236.39 L131.80,234.89 L132.00,234.47 L132.20,234.20 L132.40,234.67 L132.60,234.47 L132.80,229.89 L133.00,236.21 L133.20,234.10 L133.40,236.12 L133.60,235.17 L133.80,234.67 L134.00,232.90 L134.20,230.44 L134.40,232.64 L134.60,231.46 L134.80,234.21 L135.00,235.00 L135.20,230.89 L135.40,231.62 L135.60,233.70 L135.80,232.53 L136.00,233.33 L136.20,231.68 L136.40,232.62 L136.60,232.01 L136.80,232.77 L137.00,231.14 L137.20,234.41 L137.40,231.75 L137.60,233.16 L137.80,231.49 L138.00,232.16 L138.20,233.58 L138.40,230.98 L138.60,230.78 L138.80,232.53 L139.00,231.98 L139.20,232.18 L139.40,233.27 L139.60,231.58 L139.80,231.34 L140.00,233.99 L140.20,231.24 L140.40,232.58 L140.60,234.43 L140.80,234.56 L141.00,232.98 L141.20,233.30 L141.40,233.01 L141.60,233.23 L141.80,233.61 L142.00,231.60 L142.20,233.20 L142.40,235.49 L142.60,235.36 L142.80,232.60 L143.00,232.02 L143.20,234.43 L143.40,235.04 L143.60,234.81 L143.80,232.07 L144.00,231.68 L144.20,234.77 L144.40,232.16 L144.60,229.59 L144.80,232.31 L145.00,234.77 L145.20,236.03 L145.40,232.70 L145.60,234.15 L145.80,232.39 L146.00,234.93 L146.20,234.46 L146.40,233.07 L146.60,233.13 L146.80,235.37 L147.00,233.70 L147.20,233.65 L147.40,232.49 L147.60,236.43 L147.80,235.46 L148.00,235.24" fill="none" stroke="#e03020" stroke-width="0.7" stroke-linejoin="round"/>
<path d="M189.10,241.73 L189.40,241.76 L189.70,241.49 L190.00,241.31 L190.30,241.10 L190.60,241.63 L190.90,241.48 L191.20,241.71 L191.50,241.40 L191.80,241.72 L192.10,241.32 L192.40,241.74 L192.70,241.68 L193.00,241.43 L193.30,241.53 L193.60,241.65 L193.90,241.25 L194.20,241.54 L194.50,241.74 L194.80,241.31 L195.10,241.74 L195.40,241.65 L195.70,241.78 L196.00,241.37 L196.30,241.17 L196.60,241.74 L196.90,241.74 L197.20,241.46 L197.50,241.18 L197.80,241.26 L198.10,241.61 L198.40,241.33 L198.70,241.86 L199.00,241.57 L199.30,241.26 L199.60,241.62 L199.90,241.39 L200.20,241.84 L200.50,241.81 L200.80,241.48 L201.10,241.57 L201.40,241.60 L201.70,241.68 L202.00,241.80 L202.30,241.03 L202.60,241.29 L202.90,241.47 L203.20,241.22 L203.50,241.44 L203.80,241.03 L204.10,241.65 L204.40,241.35 L204.70,241.01 L205.00,241.44 L205.30,241.15 L205.60,241.04 L205.90,241.26 L206.20,240.97 L206.50,241.02 L206.80,241.53 L207.10,241.39 L207.40,240.83 L207.70,241.43 L208.00,240.81 L208.30,241.05 L208.60,241.50 L208.90,241.26 L209.20,240.99 L209.50,241.04 L209.80,241.04 L210.10,240.82 L210.40,241.50 L210.70,240.73 L211.00,241.02 L211.30,241.27 L211.60,240.98 L211.90,241.43 L212.20,240.83 L212.50,241.41 L212.80,241.33 L213.10,241.14 L213.40,241.30 L213.70,240.93 L214.00,241.23 L214.30,241.19 L214.60,240.96 L214.90,240.91 L215.20,241.08 L215.50,240.84 L215.80,240.57 L216.10,241.08 L216.40,240.69 L216.70,240.85 L217.00,241.08 L217.30,240.58 L217.60,240.45 L217.90,240.52 L218.20,240.88 L218.50,240.68 L218.80,240.59 L219.10,240.73 L219.40,241.10 L219.70,240.55 L220.00,240.66 L220.30,241.03 L220.60,240.80 L220.90,240.52 L221.20,240.67 L221.50,240.66 L221.80,240.38 L222.10,240.56 L222.40,240.49 L222.70,240.88 L223.00,240.48 L223.30,240.74 L223.60,240.98 L223.90,240.93 L224.20,240.48 L224.50,240.65 L224.80,240.41 L225.10,240.46 L225.40,240.52 L225.70,240.75 L226.00,240.86 L226.30,240.33 L226.60,240.09 L226.90,240.43 L227.20,240.11 L227.50,240.07 L227.80,240.66 L228.10,240.12 L228.40,240.59 L228.70,240.29 L229.00,240.74 L229.30,240.66 L229.60,240.02 L229.90,240.11 L230.20,240.70 L230.50,240.43 L230.80,240.26 L231.10,240.54 L231.40,240.55 L231.70,240.28 L232.00,240.25 L232.30,239.95 L232.60,240.14 L232.90,239.96 L233.20,240.33 L233.50,240.31 L233.80,239.92 L234.10,240.30 L234.40,239.86 L234.70,239.86 L235.00,240.28 L235.30,240.12 L235.60,240.46 L235.90,240.23 L236.20,240.28 L236.50,239.81 L236.80,240.36 L237.10,239.75 L237.40,240.17 L237.70,240.39 L238.00,240.38 L238.30,240.35 L238.60,239.99 L238.90,240.17 L239.20,240.24 L239.50,239.70 L239.80,240.34 L240.10,240.30 L240.40,239.91 L240.70,240.17 L241.00,239.89 L241.30,239.74 L241.60,240.08 L241.90,239.55 L242.20,240.13 L242.50,240.26 L242.80,239.69 L243.10,240.21 L243.40,239.51 L243.70,240.12 L244.00,239.64 L244.30,240.18 L244.60,239.74 L244.90,240.12 L245.20,239.40 L245.50,239.43 L245.80,240.00 L246.10,239.85 L246.40,239.76 L246.70,239.34 L247.00,239.44 L247.30,239.59 L247.60,239.32 L247.90,240.07 L248.20,239.87 L248.50,240.01 L248.80,239.80 L249.10,239.50 L249.40,239.28 L249.70,239.79 L250.00,239.28 L250.30,239.62 L250.60,239.54 L250.90,239.55 L251.20,239.21 L251.50,239.19 L251.80,239.54 L252.10,239.14 L252.40,239.52 L252.70,239.21 L253.00,239.30 L253.30,239.19 L253.60,239.51 L253.90,239.35 L254.20,239.21" fill="none" stroke="#3a4a9a" stroke-width="1.0" stroke-linejoin="round"/>
<path d="M189.10,241.32 L189.30,241.65 L189.50,241.54 L189.70,241.06 L189.90,241.04 L190.10,241.07 L190.30,241.42 L190.50,241.12 L190.70,241.63 L190.90,241.58 L191.10,241.98 L191.30,241.86 L191.50,241.14 L191.70,241.31 L191.90,241.18 L192.10,241.64 L192.30,241.55 L192.50,241.06 L192.70,241.68 L192.90,241.31 L193.10,241.45 L193.30,241.79 L193.50,241.24 L193.70,241.53 L193.90,241.73 L194.10,241.98 L194.30,241.42 L194.50,241.15 L194.70,241.04 L194.90,241.76 L195.10,241.88 L195.30,241.70 L195.50,241.58 L195.70,241.84 L195.90,241.47 L196.10,241.06 L196.30,241.65 L196.50,241.82 L196.70,241.39 L196.90,241.02 L197.10,241.17 L197.30,241.06 L197.50,241.13 L197.70,241.39 L197.90,241.08 L198.10,241.55 L198.30,241.82 L198.50,241.28 L198.70,241.36 L198.90,241.96 L199.10,241.18 L199.30,241.23 L199.50,241.59 L199.70,241.00 L199.90,241.37 L200.10,241.95 L200.30,241.52 L200.50,241.68 L200.70,241.90 L200.90,241.87 L201.10,241.39 L201.30,241.10 L201.50,241.06 L201.70,241.21 L201.90,241.34 L202.10,241.00 L202.30,241.10 L202.50,241.03 L202.70,241.61 L202.90,241.25 L203.10,241.36 L203.30,241.85 L203.50,241.47 L203.70,241.09 L203.90,241.34 L204.10,241.74 L204.30,240.76 L204.50,241.09 L204.70,240.93 L204.90,240.74 L205.10,241.99 L205.30,239.41 L205.50,238.86 L205.70,240.15 L205.90,239.17 L206.10,240.92 L206.30,240.92 L206.50,240.61 L206.70,238.07 L206.90,238.36 L207.10,237.95 L207.30,239.43 L207.50,238.28 L207.70,240.28 L207.90,237.62 L208.10,236.91 L208.30,236.65 L208.50,239.27 L208.70,237.43 L208.90,237.10 L209.10,238.83 L209.30,238.04 L209.50,235.60 L209.70,236.06 L209.90,238.46 L210.10,236.03 L210.30,237.17 L210.50,234.64 L210.70,237.60 L210.90,234.42 L211.10,237.61 L211.30,234.95 L211.50,231.80 L211.70,235.87 L211.90,236.87 L212.10,236.49 L212.30,233.72 L212.50,233.92 L212.70,234.96 L212.90,234.17 L213.10,236.01 L213.30,234.08 L213.50,235.74 L213.70,235.68 L213.90,234.02 L214.10,231.86 L214.30,230.65 L214.50,232.26 L214.70,234.36 L214.90,232.66 L215.10,233.48 L215.30,231.59 L215.50,232.06 L215.70,234.06 L215.90,233.13 L216.10,234.45 L216.30,233.16 L216.50,232.68 L216.70,232.36 L216.90,232.39 L217.10,233.20 L217.30,234.10 L217.50,232.50 L217.70,233.56 L217.90,230.62 L218.10,230.36 L218.30,230.31 L218.50,233.10 L218.70,230.53 L218.90,232.50 L219.10,233.35 L219.30,230.65 L219.50,231.33 L219.70,233.66 L219.90,230.31 L220.10,231.70 L220.30,230.39 L220.50,231.26 L220.70,230.60 L220.90,232.04 L221.10,229.79 L221.30,232.67 L221.50,229.93 L221.70,229.66 L221.90,230.58 L222.10,231.24 L222.30,232.92 L222.50,230.33 L222.70,232.10 L222.90,228.75 L223.10,229.63 L223.30,232.61 L223.50,230.48 L223.70,230.49 L223.90,232.12 L224.10,232.59 L224.30,231.52 L224.50,232.63 L224.70,231.03 L224.90,230.86 L225.10,231.97 L225.30,233.82 L225.50,232.85 L225.70,231.74 L225.90,231.03 L226.10,233.23 L226.30,232.98 L226.50,231.56 L226.70,232.92 L226.90,234.58 L227.10,233.32 L227.30,235.27 L227.50,234.72 L227.70,233.98 L227.90,232.59 L228.10,231.81 L228.30,232.59 L228.50,231.95 L228.70,235.14 L228.90,232.82 L229.10,232.91 L229.30,232.40 L229.50,232.86 L229.70,235.74 L229.90,232.86 L230.10,233.16 L230.30,231.96 L230.50,233.89 L230.70,232.82 L230.90,232.07 L231.10,232.44 L231.30,231.61 L231.50,233.07 L231.70,234.29 L231.90,234.83 L232.10,235.74 L232.30,233.56 L232.50,232.88 L232.70,233.04 L232.90,235.89 L233.10,235.29 L233.30,232.93 L233.50,234.41 L233.70,235.64 L233.90,234.78 L234.10,235.19 L234.30,233.11 L234.50,232.11 L234.70,234.76 L234.90,235.05 L235.10,232.76 L235.30,235.57 L235.50,234.74 L235.70,232.88 L235.90,233.06 L236.10,235.57 L236.30,235.62 L236.50,234.66 L236.70,234.61 L236.90,235.78 L237.10,234.97 L237.30,233.75 L237.50,233.97 L237.70,232.22 L237.90,235.47 L238.10,235.49 L238.30,234.87 L238.50,232.72 L238.70,233.63 L238.90,235.58 L239.10,236.13 L239.30,234.66 L239.50,233.71 L239.70,233.73 L239.90,233.46 L240.10,236.72 L240.30,236.20 L240.50,236.47 L240.70,233.86 L240.90,234.88 L241.10,234.92 L241.30,234.17 L241.50,234.34 L241.70,234.69 L241.90,236.34 L242.10,236.70 L242.30,236.61 L242.50,234.50 L242.70,237.01 L242.90,234.46 L243.10,233.91 L243.30,236.37 L243.50,236.78 L243.70,234.11 L243.90,233.81 L244.10,236.88 L244.30,236.31 L244.50,236.73 L244.70,235.27 L244.90,233.28 L245.10,234.89 L245.30,235.67 L245.50,233.29 L245.70,233.61 L245.90,234.48 L246.10,236.07 L246.30,234.16 L246.50,234.33 L246.70,234.70 L246.90,233.78 L247.10,236.76 L247.30,234.02 L247.50,237.13 L247.70,233.71 L247.90,233.51 L248.10,233.52 L248.30,234.19 L248.50,236.71 L248.70,234.82 L248.90,235.27 L249.10,233.91 L249.30,237.05 L249.50,235.19 L249.70,236.63 L249.90,234.27 L250.10,234.79 L250.30,237.01 L250.50,236.61 L250.70,236.03 L250.90,235.09 L251.10,233.20 L251.30,236.91 L251.50,236.63 L251.70,233.86 L251.90,235.30 L252.10,236.98 L252.30,235.80 L252.50,235.05 L252.70,233.38 L252.90,234.15 L253.10,235.80 L253.30,233.74 L253.50,235.77 L253.70,232.52 L253.90,235.56 L254.10,234.13 L254.30,233.27" fill="none" stroke="#98b030" stroke-width="0.7" stroke-linejoin="round"/>
<path d="M189.10,241.55 L189.35,241.74 L189.60,241.61 L189.85,241.81 L190.10,241.61 L190.35,241.50 L190.60,241.52 L190.85,241.83 L191.10,241.35 L191.35,241.50 L191.60,241.58 L191.85,241.44 L192.10,241.82 L192.35,241.64 L192.60,241.17 L192.85,241.34 L193.10,241.80 L193.35,241.22 L193.60,241.31 L193.85,241.13 L194.10,241.35 L194.35,241.26 L194.60,241.15 L194.85,241.69 L195.10,241.22 L195.35,241.21 L195.60,241.17 L195.85,241.28 L196.10,241.62 L196.35,241.48 L196.60,241.53 L196.85,241.36 L197.10,241.49 L197.35,241.71 L197.60,241.78 L197.85,241.53 L198.10,241.36 L198.35,241.65 L198.60,241.50 L198.85,241.15 L199.10,241.58 L199.35,241.47 L199.60,241.51 L199.85,241.78 L200.10,241.49 L200.35,241.42 L200.60,241.37 L200.85,241.26 L201.10,241.59 L201.35,241.59 L201.60,241.85 L201.85,241.45 L202.10,241.82 L202.35,241.69 L202.60,241.51 L202.85,241.59 L203.10,241.30 L203.35,241.33 L203.60,241.55 L203.85,241.27 L204.10,241.09 L204.35,241.41 L204.60,241.36 L204.85,240.41 L205.10,240.31 L205.35,241.30 L205.60,237.60 L205.85,240.82 L206.10,238.57 L206.35,240.42 L206.60,240.42 L206.85,239.88 L207.10,236.16 L207.35,239.06 L207.60,237.39 L207.85,237.82 L208.10,237.95 L208.35,236.65 L208.60,235.97 L208.85,236.41 L209.10,237.46 L209.35,237.55 L209.60,235.01 L209.85,236.34 L210.10,236.00 L210.35,234.92 L210.60,235.87 L210.85,236.72 L211.10,234.49 L211.35,237.13 L211.60,234.38 L211.85,235.80 L212.10,234.69 L212.35,233.67 L212.60,235.77 L212.85,235.60 L213.10,234.78 L213.35,233.50 L213.60,235.44 L213.85,235.09 L214.10,234.71 L214.35,234.26 L214.60,234.26 L214.85,234.53 L215.10,232.05 L215.35,232.36 L215.60,231.87 L215.85,232.81 L216.10,232.08 L216.35,233.53 L216.60,232.92 L216.85,234.02 L217.10,231.45 L217.35,234.07 L217.60,232.60 L217.85,232.69 L218.10,233.84 L218.35,232.31 L218.60,232.34 L218.85,231.51 L219.10,233.36 L219.35,231.32 L219.60,233.09 L219.85,232.95 L220.10,233.06 L220.35,230.98 L220.60,232.84 L220.85,232.15 L221.10,233.13 L221.35,230.20 L221.60,231.95 L221.85,232.77 L222.10,232.21 L222.35,231.44 L222.60,231.62 L222.85,231.02 L223.10,232.40 L223.35,231.06 L223.60,231.92 L223.85,232.36 L224.10,232.22 L224.35,231.95 L224.60,232.98 L224.85,233.42 L225.10,233.81 L225.35,232.57 L225.60,234.52 L225.85,232.11 L226.10,234.21 L226.35,232.76 L226.60,232.89 L226.85,232.92 L227.10,232.23 L227.35,233.86 L227.60,234.77 L227.85,234.19 L228.10,232.77 L228.35,233.19 L228.60,233.98 L228.85,234.35 L229.10,232.51 L229.35,233.10 L229.60,234.74 L229.85,233.55 L230.10,233.70 L230.35,233.22 L230.60,232.99 L230.85,235.01 L231.10,235.11 L231.35,234.05 L231.60,234.83 L231.85,235.06 L232.10,235.76 L232.35,235.61 L232.60,234.16 L232.85,234.14 L233.10,235.71 L233.35,235.84 L233.60,234.63 L233.85,235.08 L234.10,234.26 L234.35,235.48 L234.60,233.85 L234.85,233.59 L235.10,235.78 L235.35,235.36 L235.60,234.96 L235.85,234.83 L236.10,234.44 L236.35,234.65 L236.60,234.46 L236.85,234.01 L237.10,236.41 L237.35,234.69 L237.60,235.62 L237.85,235.17 L238.10,233.80 L238.35,234.70 L238.60,234.63 L238.85,233.72 L239.10,232.70 L239.35,234.42 L239.60,234.11 L239.85,236.44 L240.10,234.81 L240.35,234.50 L240.60,236.07 L240.85,235.82 L241.10,234.80 L241.35,236.13 L241.60,236.29 L241.85,234.71 L242.10,235.09 L242.35,234.82 L242.60,234.27 L242.85,233.46 L243.10,236.57 L243.35,235.47 L243.60,234.24 L243.85,235.44 L244.10,235.75 L244.35,236.40 L244.60,234.46 L244.85,236.36 L245.10,235.73 L245.35,236.23 L245.60,234.36 L245.85,236.56 L246.10,233.17 L246.35,236.55 L246.60,236.03 L246.85,236.16 L247.10,234.80 L247.35,233.90 L247.60,236.50 L247.85,236.52 L248.10,235.54 L248.35,234.26 L248.60,236.84 L248.85,236.19 L249.10,234.65 L249.35,236.22 L249.60,236.85 L249.85,234.15 L250.10,235.64 L250.35,234.13 L250.60,236.32 L250.85,234.42 L251.10,235.27 L251.35,236.87 L251.60,233.91 L251.85,234.32 L252.10,235.50 L252.35,236.64 L252.60,233.27 L252.85,235.32 L253.10,235.25 L253.35,236.13 L253.60,235.42 L253.85,235.26 L254.10,235.67 L254.35,236.64" fill="none" stroke="#b0b040" stroke-width="0.5" stroke-linejoin="round"/>
<path d="M189.10,241.20 L189.30,241.09 L189.50,241.04 L189.70,242.05 L189.90,241.66 L190.10,241.45 L190.30,241.16 L190.50,241.05 L190.70,240.97 L190.90,241.40 L191.10,241.37 L191.30,241.23 L191.50,241.02 L191.70,241.36 L191.90,241.32 L192.10,241.50 L192.30,241.94 L192.50,241.11 L192.70,241.99 L192.90,241.16 L193.10,241.59 L193.30,241.92 L193.50,241.34 L193.70,241.10 L193.90,241.06 L194.10,241.72 L194.30,241.88 L194.50,241.17 L194.70,241.53 L194.90,241.03 L195.10,241.51 L195.30,241.19 L195.50,240.96 L195.70,241.24 L195.90,241.36 L196.10,241.93 L196.30,241.39 L196.50,241.68 L196.70,241.17 L196.90,241.28 L197.10,241.79 L197.30,241.14 L197.50,241.20 L197.70,241.44 L197.90,241.60 L198.10,241.05 L198.30,241.07 L198.50,241.35 L198.70,241.51 L198.90,242.03 L199.10,240.97 L199.30,241.37 L199.50,241.77 L199.70,242.01 L199.90,241.87 L200.10,239.51 L200.30,242.12 L200.50,241.07 L200.70,242.53 L200.90,238.37 L201.10,239.93 L201.30,238.17 L201.50,239.79 L201.70,237.54 L201.90,239.92 L202.10,238.56 L202.30,237.82 L202.50,236.86 L202.70,236.23 L202.90,238.63 L203.10,235.37 L203.30,233.56 L203.50,238.14 L203.70,237.69 L203.90,235.38 L204.10,237.42 L204.30,233.96 L204.50,237.72 L204.70,237.60 L204.90,234.30 L205.10,235.53 L205.30,234.56 L205.50,236.49 L205.70,235.32 L205.90,235.84 L206.10,235.95 L206.30,233.69 L206.50,235.63 L206.70,233.03 L206.90,235.31 L207.10,235.58 L207.30,234.94 L207.50,232.80 L207.70,233.24 L207.90,234.66 L208.10,231.17 L208.30,231.96 L208.50,231.18 L208.70,231.79 L208.90,234.04 L209.10,231.65 L209.30,232.18 L209.50,234.55 L209.70,233.54 L209.90,233.79 L210.10,233.83 L210.30,233.58 L210.50,231.83 L210.70,233.54 L210.90,234.15 L211.10,230.72 L211.30,231.55 L211.50,234.01 L211.70,232.17 L211.90,234.07 L212.10,228.48 L212.30,234.11 L212.50,231.97 L212.70,233.98 L212.90,233.06 L213.10,231.76 L213.30,231.92 L213.50,231.02 L213.70,232.07 L213.90,231.69 L214.10,232.50 L214.30,231.07 L214.50,231.95 L214.70,233.80 L214.90,233.16 L215.10,234.37 L215.30,232.20 L215.50,234.03 L215.70,233.29 L215.90,235.23 L216.10,231.45 L216.30,232.68 L216.50,231.16 L216.70,233.51 L216.90,232.78 L217.10,233.52 L217.30,235.06 L217.50,235.35 L217.70,232.65 L217.90,233.39 L218.10,234.08 L218.30,231.67 L218.50,233.32 L218.70,233.49 L218.90,232.43 L219.10,233.50 L219.30,234.83 L219.50,231.76 L219.70,231.39 L219.90,235.41 L220.10,234.34 L220.30,231.92 L220.50,231.65 L220.70,233.87 L220.90,235.58 L221.10,234.13 L221.30,231.84 L221.50,231.56 L221.70,234.28 L221.90,232.99 L222.10,234.29 L222.30,232.19 L222.50,233.06 L222.70,233.11 L222.90,233.13 L223.10,231.67 L223.30,234.63" fill="none" stroke="#e03020" stroke-width="0.7" stroke-linejoin="round"/>
<path d="M114.60,241.60 L115.10,241.60 L115.60,241.60 L116.10,241.60 L116.60,241.60 L117.10,241.60 L117.60,241.60 L118.10,241.60 L118.60,241.60 L119.10,241.60 L119.60,241.60 L120.10,241.60 L120.60,241.60 L121.10,241.60 L121.60,241.60 L122.10,241.60 L122.60,241.60 L123.10,241.60 L123.60,241.60 L124.10,241.60 L124.60,241.60 L125.10,241.60 L125.60,241.60 L126.10,241.60" fill="none" stroke="#404a80" stroke-width="1.1" stroke-linejoin="round"/>
<path d="M189.10,241.50 L189.60,241.50 L190.10,241.50 L190.60,241.50 L191.10,241.50 L191.60,241.50 L192.10,241.50 L192.60,241.50 L193.10,241.50 L193.60,241.50 L194.10,241.50 L194.60,241.50 L195.10,241.50 L195.60,241.50 L196.10,241.50 L196.60,241.50 L197.10,241.50 L197.60,241.50 L198.10,241.50 L198.60,241.50 L199.10,241.50 L199.60,241.50" fill="none" stroke="#404a80" stroke-width="1.1" stroke-linejoin="round"/>
<line x1="31.1" y1="223.6" x2="36.800000000000004" y2="223.6" stroke="#222" stroke-width="1.6"/>
<line x1="31.1" y1="230.9" x2="36.800000000000004" y2="230.9" stroke="#222" stroke-width="1.6"/>
<line x1="31.1" y1="239" x2="36.800000000000004" y2="239" stroke="#222" stroke-width="1.6"/>
<line x1="31.1" y1="246.2" x2="36.800000000000004" y2="246.2" stroke="#222" stroke-width="1.6"/>
<text x="25.0" y="256.0" font-size="6.6" font-weight="bold" text-anchor="start" fill="#111" transform="rotate(-90 25.0 256.0)">Ca2+</text>
<text x="25.0" y="218.5" font-size="6.6" font-weight="bold" text-anchor="end" fill="#111" transform="rotate(-90 25.0 218.5)">influx</text>
<line x1="28.4" y1="255.4" x2="28.4" y2="247.8" stroke="#111" stroke-width="1.0"/>
<path d="M26.299999999999997,248.4 L28.4,244.8 L30.5,248.4 Z" fill="#111" stroke="none" stroke-width="1"/>
<line x1="27.9" y1="255.4" x2="56.8" y2="255.4" stroke="#111" stroke-width="1.0"/>
<path d="M56.199999999999996,253.3 L59.8,255.4 L56.199999999999996,257.5 Z" fill="#111" stroke="none" stroke-width="1"/>
<line x1="51.7" y1="250.3" x2="55.3" y2="250.3" stroke="#222" stroke-width="1.3"/>
<line x1="66.2" y1="250.3" x2="69.8" y2="250.3" stroke="#222" stroke-width="1.3"/>
<line x1="80.2" y1="250.3" x2="83.8" y2="250.3" stroke="#222" stroke-width="1.3"/>
<line x1="94.0" y1="250.3" x2="97.6" y2="250.3" stroke="#222" stroke-width="1.3"/>
<text x="63.3" y="258.6" font-size="6.8" font-weight="bold" text-anchor="start" fill="#111">time (sec)</text>
<text x="260" y="237.3" font-size="6.8" font-weight="bold" fill="#111" textLength="24" lengthAdjust="spacingAndGlyphs">NIP<tspan font-size="5.4" dy="0.4">γ</tspan><tspan dy="-0.4">BSA</tspan></text>
<text x="0.72" y="270.7" font-size="12.0" font-weight="bold" text-anchor="start" fill="#000" stroke="#000" stroke-width="0.35">E</text>
<line x1="39.7" y1="270.8" x2="39.7" y2="294.4" stroke="#aaa" stroke-width="0.7"/>
<line x1="39.7" y1="294.4" x2="106.3" y2="294.4" stroke="#aaa" stroke-width="0.7"/>
<line x1="106.3" y1="270.8" x2="106.3" y2="294.4" stroke="#aaa" stroke-width="0.7"/>
<line x1="114.5" y1="271" x2="114.5" y2="294.3" stroke="#aaa" stroke-width="0.7"/>
<line x1="114.5" y1="294.3" x2="181" y2="294.3" stroke="#aaa" stroke-width="0.7"/>
<line x1="188.9" y1="271" x2="188.9" y2="294.3" stroke="#aaa" stroke-width="0.7"/>
<line x1="188.9" y1="294.3" x2="255.6" y2="294.3" stroke="#aaa" stroke-width="0.7"/>
<path d="M40.00,288.87 L40.50,288.85 L41.00,288.83 L41.50,288.81 L42.00,288.79 L42.50,288.78 L43.00,288.76 L43.50,288.74 L44.00,288.72 L44.50,288.70 L45.00,288.69 L45.50,288.67 L46.00,288.65 L46.50,288.63 L47.00,288.62 L47.50,288.60 L48.00,288.58 L48.50,288.56 L49.00,288.54 L49.50,288.53 L50.00,288.51 L50.50,288.49 L51.00,288.47 L51.50,288.45 L52.00,288.44 L52.50,288.42 L53.00,288.40 L53.50,288.38 L54.00,288.36 L54.50,288.35 L55.00,288.33 L55.50,288.31 L56.00,288.29 L56.50,288.27 L57.00,288.26 L57.50,288.24 L58.00,288.22 L58.50,288.20 L59.00,288.18 L59.50,288.17 L60.00,288.15 L60.50,288.13 L61.00,288.11 L61.50,288.10 L62.00,288.08 L62.50,288.06 L63.00,288.04 L63.50,288.02 L64.00,288.01 L64.50,287.99 L65.00,287.97 L65.50,287.95 L66.00,287.93 L66.50,287.92 L67.00,287.90 L67.50,287.88 L68.00,287.86 L68.50,287.84 L69.00,287.83 L69.50,287.81 L70.00,287.79 L70.50,287.77 L71.00,287.75 L71.50,287.74 L72.00,287.72 L72.50,287.70 L73.00,287.68 L73.50,287.67 L74.00,287.65 L74.50,287.63 L75.00,287.61 L75.50,287.59 L76.00,287.58 L76.50,287.56 L77.00,287.54 L77.50,287.52 L78.00,287.50 L78.50,287.49 L79.00,287.47 L79.50,287.45 L80.00,287.43 L80.50,287.41 L81.00,287.40 L81.50,287.38 L82.00,287.36 L82.50,287.34 L83.00,287.32 L83.50,287.31 L84.00,287.29 L84.50,287.27 L85.00,287.25 L85.50,287.23 L86.00,287.22 L86.50,287.20 L87.00,287.18 L87.50,287.16 L88.00,287.15 L88.50,287.13 L89.00,287.11 L89.50,287.09 L90.00,287.07 L90.50,287.06 L91.00,287.04 L91.50,287.02 L92.00,287.00 L92.50,286.98 L93.00,286.97 L93.50,286.95 L94.00,286.93 L94.50,286.91 L95.00,286.89 L95.50,286.88 L96.00,286.86 L96.50,286.84 L97.00,286.82 L97.50,286.80 L98.00,286.79 L98.50,286.77 L99.00,286.75 L99.50,286.73 L100.00,286.72 L100.50,286.70 L101.00,286.68 L101.50,286.66 L102.00,286.64 L102.50,286.63 L103.00,286.61 L103.50,286.59 L104.00,286.57 L104.50,286.55 L105.00,286.54 L105.50,286.52 L106.00,286.50" fill="none" stroke="#d4d8d0" stroke-width="0.9" stroke-linejoin="round"/>
<path d="M40.00,288.39 L40.40,288.35 L40.80,288.26 L41.20,288.55 L41.60,288.20 L42.00,288.40 L42.40,288.56 L42.80,288.23 L43.20,288.42 L43.60,288.45 L44.00,288.22 L44.40,288.35 L44.80,288.48 L45.20,288.38 L45.60,288.49 L46.00,288.26 L46.40,288.30 L46.80,288.24 L47.20,288.40 L47.60,288.57 L48.00,288.44 L48.40,288.51 L48.80,288.35 L49.20,288.50 L49.60,288.24 L50.00,288.32 L50.40,288.47 L50.80,288.49 L51.20,288.37 L51.60,288.24 L52.00,288.31 L52.40,288.28 L52.80,288.31 L53.20,288.52 L53.60,287.21 L54.00,286.43 L54.40,285.38 L54.80,284.02 L55.20,283.14 L55.60,282.21 L56.00,281.08 L56.40,280.34 L56.80,279.68 L57.20,278.56 L57.60,278.01 L58.00,277.13 L58.40,276.69 L58.80,276.26 L59.20,275.50 L59.60,275.01 L60.00,274.70 L60.40,274.62 L60.80,274.23 L61.20,274.16 L61.60,274.36 L62.00,274.75 L62.40,274.77 L62.80,274.98 L63.20,275.28 L63.60,275.27 L64.00,275.66 L64.40,275.68 L64.80,276.04 L65.20,276.36 L65.60,276.18 L66.00,276.55 L66.40,276.73 L66.80,276.71 L67.20,276.92 L67.60,277.36 L68.00,277.51 L68.40,277.30 L68.80,277.67 L69.20,277.91 L69.60,277.75 L70.00,278.03 L70.40,277.93 L70.80,278.18 L71.20,278.42 L71.60,278.50 L72.00,278.68 L72.40,278.52 L72.80,278.73 L73.20,279.03 L73.60,279.02 L74.00,279.06 L74.40,279.14 L74.80,279.46 L75.20,279.39 L75.60,279.25 L76.00,279.64 L76.40,279.54 L76.80,279.66 L77.20,279.65 L77.60,279.81 L78.00,279.84 L78.40,279.81 L78.80,280.10 L79.20,279.95 L79.60,280.29 L80.00,280.05 L80.40,280.41 L80.80,280.48 L81.20,280.42 L81.60,280.56 L82.00,280.43 L82.40,280.67 L82.80,280.60 L83.20,280.57 L83.60,280.91 L84.00,280.74 L84.40,280.77 L84.80,281.01 L85.20,280.86 L85.60,281.02 L86.00,280.86 L86.40,281.17 L86.80,280.97 L87.20,280.93 L87.60,281.33 L88.00,281.05 L88.40,281.39 L88.80,281.44 L89.20,281.32 L89.60,281.12 L90.00,281.17 L90.40,281.26 L90.80,281.36 L91.20,281.47 L91.60,281.64 L92.00,281.42 L92.40,281.37 L92.80,281.56 L93.20,281.41 L93.60,281.42 L94.00,281.63 L94.40,281.71 L94.80,281.48 L95.20,281.65 L95.60,281.77 L96.00,281.82 L96.40,281.68 L96.80,281.90 L97.20,281.64 L97.60,281.87 L98.00,281.91 L98.40,281.97 L98.80,281.83 L99.20,281.69 L99.60,281.69 L100.00,281.89 L100.40,281.77 L100.80,281.96 L101.20,281.76 L101.60,282.05 L102.00,281.84 L102.40,281.77 L102.80,281.85 L103.20,281.97 L103.60,282.02 L104.00,281.97 L104.40,281.89 L104.80,282.03 L105.20,282.22 L105.60,282.07 L106.00,282.24" fill="none" stroke="#e07060" stroke-width="2.0" stroke-linejoin="round" stroke-opacity="0.6"/>
<path d="M40.00,288.45 L40.40,288.49 L40.80,288.41 L41.20,288.40 L41.60,288.37 L42.00,288.55 L42.40,288.34 L42.80,288.29 L43.20,288.33 L43.60,288.33 L44.00,288.35 L44.40,288.33 L44.80,288.28 L45.20,288.35 L45.60,288.34 L46.00,288.42 L46.40,288.31 L46.80,288.27 L47.20,288.31 L47.60,288.41 L48.00,288.37 L48.40,288.47 L48.80,288.49 L49.20,288.37 L49.60,288.28 L50.00,288.47 L50.40,288.48 L50.80,288.37 L51.20,288.45 L51.60,288.34 L52.00,288.52 L52.40,288.50 L52.80,288.49 L53.20,288.54 L53.60,287.25 L54.00,286.29 L54.40,285.29 L54.80,284.29 L55.20,283.16 L55.60,282.11 L56.00,281.31 L56.40,280.25 L56.80,279.58 L57.20,278.57 L57.60,277.96 L58.00,277.28 L58.40,276.54 L58.80,276.10 L59.20,275.61 L59.60,275.16 L60.00,274.98 L60.40,274.71 L60.80,274.54 L61.20,274.25 L61.60,274.22 L62.00,274.55 L62.40,274.69 L62.80,275.08 L63.20,275.16 L63.60,275.32 L64.00,275.56 L64.40,275.79 L64.80,276.07 L65.20,276.17 L65.60,276.30 L66.00,276.58 L66.40,276.56 L66.80,276.77 L67.20,277.07 L67.60,277.24 L68.00,277.19 L68.40,277.32 L68.80,277.59 L69.20,277.77 L69.60,277.71 L70.00,277.97 L70.40,278.04 L70.80,278.11 L71.20,278.25 L71.60,278.40 L72.00,278.56 L72.40,278.57 L72.80,278.82 L73.20,279.00 L73.60,279.04 L74.00,278.95 L74.40,279.22 L74.80,279.31 L75.20,279.21 L75.60,279.41 L76.00,279.57 L76.40,279.74 L76.80,279.81 L77.20,279.78 L77.60,279.86 L78.00,280.05 L78.40,279.89 L78.80,280.05 L79.20,279.98 L79.60,280.26 L80.00,280.29 L80.40,280.21 L80.80,280.27 L81.20,280.42 L81.60,280.55 L82.00,280.42 L82.40,280.53 L82.80,280.63 L83.20,280.61 L83.60,280.84 L84.00,280.84 L84.40,280.96 L84.80,280.91 L85.20,280.96 L85.60,280.89 L86.00,280.99 L86.40,281.01 L86.80,281.06 L87.20,280.98 L87.60,281.25 L88.00,281.08 L88.40,281.20 L88.80,281.38 L89.20,281.28 L89.60,281.42 L90.00,281.27 L90.40,281.36 L90.80,281.36 L91.20,281.38 L91.60,281.42 L92.00,281.47 L92.40,281.61 L92.80,281.68 L93.20,281.44 L93.60,281.63 L94.00,281.61 L94.40,281.60 L94.80,281.51 L95.20,281.63 L95.60,281.64 L96.00,281.67 L96.40,281.76 L96.80,281.71 L97.20,281.71 L97.60,281.72 L98.00,281.95 L98.40,281.79 L98.80,281.98 L99.20,281.75 L99.60,281.92 L100.00,281.90 L100.40,281.96 L100.80,281.92 L101.20,282.04 L101.60,281.96 L102.00,281.82 L102.40,282.02 L102.80,282.01 L103.20,281.91 L103.60,282.07 L104.00,282.11 L104.40,281.95 L104.80,281.93 L105.20,281.98 L105.60,282.08 L106.00,282.05" fill="none" stroke="#8a2c28" stroke-width="1.1" stroke-linejoin="round"/>
<path d="M114.70,288.24 L115.10,288.16 L115.50,288.24 L115.90,288.05 L116.30,288.36 L116.70,288.36 L117.10,288.28 L117.50,288.03 L117.90,288.21 L118.30,288.11 L118.70,288.07 L119.10,288.43 L119.50,288.45 L119.90,287.97 L120.30,288.38 L120.70,288.25 L121.10,288.14 L121.50,288.09 L121.90,288.29 L122.30,288.18 L122.70,288.29 L123.10,288.28 L123.50,288.02 L123.90,288.33 L124.30,288.44 L124.70,288.43 L125.10,288.26 L125.50,287.97 L125.90,287.95 L126.30,288.02 L126.70,288.42 L127.10,287.84 L127.50,286.84 L127.90,286.08 L128.30,284.77 L128.70,283.89 L129.10,282.85 L129.50,281.72 L129.90,281.07 L130.30,280.32 L130.70,279.15 L131.10,278.39 L131.50,277.76 L131.90,276.89 L132.30,276.50 L132.70,276.10 L133.10,275.53 L133.50,275.05 L133.90,274.86 L134.30,274.22 L134.70,274.23 L135.10,274.00 L135.50,274.05 L135.90,274.01 L136.30,274.61 L136.70,274.53 L137.10,274.81 L137.50,275.38 L137.90,275.68 L138.30,275.65 L138.70,275.87 L139.10,276.00 L139.50,276.22 L139.90,276.59 L140.30,276.57 L140.70,276.73 L141.10,277.08 L141.50,277.12 L141.90,277.53 L142.30,277.79 L142.70,277.93 L143.10,277.94 L143.50,278.02 L143.90,278.21 L144.30,278.14 L144.70,278.64 L145.10,278.58 L145.50,278.71 L145.90,278.71 L146.30,279.02 L146.70,279.21 L147.10,279.23 L147.50,279.58 L147.90,279.59 L148.30,279.48 L148.70,279.73 L149.10,280.02 L149.50,279.92 L149.90,280.06 L150.30,279.88 L150.70,280.18 L151.10,280.25 L151.50,280.30 L151.90,280.39 L152.30,280.55 L152.70,280.60 L153.10,280.65 L153.50,280.56 L153.90,280.77 L154.30,281.10 L154.70,280.89 L155.10,280.76 L155.50,280.80 L155.90,281.13 L156.30,280.94 L156.70,281.02 L157.10,281.08 L157.50,281.31 L157.90,281.63 L158.30,281.42 L158.70,281.46 L159.10,281.49 L159.50,281.57 L159.90,281.59 L160.30,281.77 L160.70,281.89 L161.10,281.83 L161.50,281.73 L161.90,281.88 L162.30,282.05 L162.70,281.71 L163.10,281.78 L163.50,282.01 L163.90,282.07 L164.30,282.08 L164.70,282.08 L165.10,282.23 L165.50,282.09 L165.90,282.28 L166.30,282.38 L166.70,282.14 L167.10,282.38 L167.50,282.34 L167.90,282.44 L168.30,282.05 L168.70,282.50 L169.10,282.45 L169.50,282.57 L169.90,282.60 L170.30,282.27 L170.70,282.48 L171.10,282.23 L171.50,282.48 L171.90,282.66 L172.30,282.31 L172.70,282.41 L173.10,282.29 L173.50,282.36 L173.90,282.38 L174.30,282.34 L174.70,282.81 L175.10,282.76 L175.50,282.56 L175.90,282.72 L176.30,282.70 L176.70,282.63 L177.10,282.59 L177.50,282.72 L177.90,282.68 L178.30,282.55 L178.70,282.61 L179.10,282.75 L179.50,282.76 L179.90,282.56 L180.30,282.77 L180.70,282.91" fill="none" stroke="#d84838" stroke-width="1.5" stroke-linejoin="round"/>
<path d="M114.70,288.44 L115.10,288.31 L115.50,288.36 L115.90,288.44 L116.30,288.06 L116.70,288.28 L117.10,288.44 L117.50,288.42 L117.90,288.24 L118.30,288.00 L118.70,288.15 L119.10,288.50 L119.50,287.96 L119.90,288.09 L120.30,288.47 L120.70,288.17 L121.10,288.03 L121.50,288.09 L121.90,288.45 L122.30,288.10 L122.70,288.16 L123.10,288.28 L123.50,288.38 L123.90,288.20 L124.30,287.95 L124.70,288.24 L125.10,287.92 L125.50,287.96 L125.90,288.01 L126.30,288.32 L126.70,288.07 L127.10,288.31 L127.50,288.00 L127.90,287.97 L128.30,287.68 L128.70,287.16 L129.10,286.32 L129.50,285.02 L129.90,284.13 L130.30,283.12 L130.70,282.64 L131.10,281.61 L131.50,280.73 L131.90,280.28 L132.30,279.55 L132.70,278.79 L133.10,278.01 L133.50,277.74 L133.90,277.19 L134.30,276.67 L134.70,276.13 L135.10,276.27 L135.50,275.98 L135.90,275.69 L136.30,275.75 L136.70,275.45 L137.10,275.49 L137.50,275.58 L137.90,276.11 L138.30,276.27 L138.70,276.44 L139.10,276.98 L139.50,277.09 L139.90,276.84 L140.30,277.50 L140.70,277.15 L141.10,277.72 L141.50,277.69 L141.90,278.10 L142.30,278.40 L142.70,278.30 L143.10,278.59 L143.50,278.31 L143.90,278.82 L144.30,278.63 L144.70,278.97 L145.10,279.03 L145.50,279.00 L145.90,279.53 L146.30,279.25 L146.70,279.47 L147.10,279.47 L147.50,279.93 L147.90,279.82 L148.30,279.76 L148.70,279.85 L149.10,280.06 L149.50,280.33 L149.90,280.12 L150.30,280.22 L150.70,280.69 L151.10,280.69 L151.50,280.53 L151.90,280.71 L152.30,280.68 L152.70,280.84 L153.10,280.98 L153.50,280.94 L153.90,281.00 L154.30,281.08 L154.70,281.19 L155.10,281.40 L155.50,281.66 L155.90,281.57 L156.30,281.51 L156.70,281.29 L157.10,281.46 L157.50,281.77 L157.90,281.68 L158.30,282.00 L158.70,282.08 L159.10,281.76 L159.50,281.84 L159.90,281.84 L160.30,282.11 L160.70,281.80 L161.10,281.95 L161.50,282.35 L161.90,282.08 L162.30,282.47 L162.70,282.16 L163.10,282.46 L163.50,282.26 L163.90,282.08 L164.30,282.39 L164.70,282.20 L165.10,282.65 L165.50,282.55 L165.90,282.48 L166.30,282.74 L166.70,282.54 L167.10,282.81 L167.50,282.68 L167.90,282.39 L168.30,282.48 L168.70,282.83 L169.10,282.40 L169.50,282.95 L169.90,282.41 L170.30,282.85 L170.70,282.79 L171.10,282.68 L171.50,282.81 L171.90,282.82 L172.30,282.70 L172.70,282.67 L173.10,282.55 L173.50,282.92 L173.90,283.07 L174.30,282.78 L174.70,283.09 L175.10,282.82 L175.50,282.75 L175.90,283.09 L176.30,283.18 L176.70,282.69 L177.10,283.17 L177.50,282.85 L177.90,283.13 L178.30,282.85 L178.70,283.28 L179.10,282.90 L179.50,282.83 L179.90,282.74 L180.30,282.80 L180.70,282.78" fill="none" stroke="#7a6a78" stroke-width="1.2" stroke-linejoin="round"/>
<path d="M114.70,288.18 L115.10,288.22 L115.50,288.37 L115.90,288.19 L116.30,288.20 L116.70,288.23 L117.10,288.07 L117.50,288.20 L117.90,288.25 L118.30,288.32 L118.70,288.04 L119.10,288.12 L119.50,288.04 L119.90,288.32 L120.30,288.28 L120.70,288.02 L121.10,288.39 L121.50,288.39 L121.90,288.26 L122.30,288.25 L122.70,288.06 L123.10,288.01 L123.50,288.21 L123.90,288.02 L124.30,288.08 L124.70,288.10 L125.10,288.01 L125.50,288.19 L125.90,288.18 L126.30,288.34 L126.70,288.21 L127.10,288.26 L127.50,288.20 L127.90,288.26 L128.30,287.47 L128.70,286.45 L129.10,285.80 L129.50,284.88 L129.90,283.91 L130.30,282.98 L130.70,281.97 L131.10,281.12 L131.50,280.36 L131.90,279.53 L132.30,279.11 L132.70,278.32 L133.10,277.91 L133.50,277.18 L133.90,276.93 L134.30,276.47 L134.70,275.78 L135.10,275.57 L135.50,275.63 L135.90,275.29 L136.30,275.41 L136.70,275.22 L137.10,275.33 L137.50,275.79 L137.90,276.08 L138.30,276.10 L138.70,276.24 L139.10,276.55 L139.50,277.01 L139.90,277.12 L140.30,277.05 L140.70,277.29 L141.10,277.41 L141.50,277.57 L141.90,278.03 L142.30,277.95 L142.70,278.26 L143.10,278.37 L143.50,278.41 L143.90,278.77 L144.30,278.67 L144.70,279.01 L145.10,278.93 L145.50,279.18 L145.90,279.22 L146.30,279.37 L146.70,279.76 L147.10,279.81 L147.50,279.72 L147.90,280.06 L148.30,279.89 L148.70,280.06 L149.10,280.35 L149.50,280.35 L149.90,280.23 L150.30,280.67 L150.70,280.45 L151.10,280.55 L151.50,280.83 L151.90,280.73 L152.30,280.80 L152.70,280.78 L153.10,280.86 L153.50,281.13 L153.90,281.06 L154.30,281.26 L154.70,281.24 L155.10,281.33 L155.50,281.59 L155.90,281.46 L156.30,281.55 L156.70,281.72 L157.10,281.50 L157.50,281.54 L157.90,281.89 L158.30,281.90 L158.70,281.72 L159.10,281.74 L159.50,282.00 L159.90,282.13 L160.30,281.87 L160.70,282.21 L161.10,282.22 L161.50,282.15 L161.90,282.11 L162.30,282.02 L162.70,282.03 L163.10,282.43 L163.50,282.17 L163.90,282.39 L164.30,282.24 L164.70,282.50 L165.10,282.43 L165.50,282.34 L165.90,282.32 L166.30,282.56 L166.70,282.33 L167.10,282.42 L167.50,282.57 L167.90,282.71 L168.30,282.64 L168.70,282.53 L169.10,282.80 L169.50,282.54 L169.90,282.48 L170.30,282.60 L170.70,282.69 L171.10,282.55 L171.50,282.62 L171.90,282.71 L172.30,282.81 L172.70,282.65 L173.10,282.76 L173.50,282.98 L173.90,283.03 L174.30,282.92 L174.70,282.94 L175.10,282.91 L175.50,282.75 L175.90,282.72 L176.30,282.73 L176.70,283.09 L177.10,283.02 L177.50,283.14 L177.90,282.77 L178.30,283.03 L178.70,282.98 L179.10,283.08 L179.50,282.93 L179.90,283.21 L180.30,282.85 L180.70,283.05" fill="none" stroke="#4a5068" stroke-width="1.2" stroke-linejoin="round"/>
<path d="M189.10,288.24 L189.50,288.16 L189.90,288.24 L190.30,288.05 L190.70,288.36 L191.10,288.36 L191.50,288.28 L191.90,288.03 L192.30,288.21 L192.70,288.11 L193.10,288.07 L193.50,288.43 L193.90,288.45 L194.30,287.97 L194.70,288.38 L195.10,288.25 L195.50,288.14 L195.90,288.09 L196.30,288.29 L196.70,288.18 L197.10,288.29 L197.50,288.28 L197.90,288.02 L198.30,288.33 L198.70,288.44 L199.10,288.43 L199.50,288.26 L199.90,287.97 L200.30,287.95 L200.70,288.02 L201.10,288.42 L201.50,287.84 L201.90,286.84 L202.30,286.08 L202.70,284.77 L203.10,283.89 L203.50,282.85 L203.90,281.72 L204.30,281.07 L204.70,280.32 L205.10,279.15 L205.50,278.39 L205.90,277.76 L206.30,276.89 L206.70,276.50 L207.10,276.10 L207.50,275.53 L207.90,275.05 L208.30,274.86 L208.70,274.22 L209.10,274.23 L209.50,274.00 L209.90,274.05 L210.30,274.01 L210.70,274.61 L211.10,274.53 L211.50,274.81 L211.90,275.38 L212.30,275.68 L212.70,275.65 L213.10,275.87 L213.50,276.00 L213.90,276.22 L214.30,276.59 L214.70,276.57 L215.10,276.73 L215.50,277.08 L215.90,277.12 L216.30,277.53 L216.70,277.79 L217.10,277.93 L217.50,277.94 L217.90,278.02 L218.30,278.21 L218.70,278.14 L219.10,278.64 L219.50,278.58 L219.90,278.71 L220.30,278.71 L220.70,279.02 L221.10,279.21 L221.50,279.23 L221.90,279.58 L222.30,279.59 L222.70,279.48 L223.10,279.73 L223.50,280.02 L223.90,279.92 L224.30,280.06 L224.70,279.88 L225.10,280.18 L225.50,280.25 L225.90,280.30 L226.30,280.39 L226.70,280.55 L227.10,280.60 L227.50,280.65 L227.90,280.56 L228.30,280.77 L228.70,281.10 L229.10,280.89 L229.50,280.76 L229.90,280.80 L230.30,281.13 L230.70,280.94 L231.10,281.02 L231.50,281.08 L231.90,281.31 L232.30,281.63 L232.70,281.42 L233.10,281.46 L233.50,281.49 L233.90,281.57 L234.30,281.59 L234.70,281.77 L235.10,281.89 L235.50,281.83 L235.90,281.73 L236.30,281.88 L236.70,282.05 L237.10,281.71 L237.50,281.78 L237.90,282.01 L238.30,282.07 L238.70,282.08 L239.10,282.08 L239.50,282.23 L239.90,282.09 L240.30,282.28 L240.70,282.38 L241.10,282.14 L241.50,282.38 L241.90,282.34 L242.30,282.44 L242.70,282.05 L243.10,282.50 L243.50,282.45 L243.90,282.57 L244.30,282.60 L244.70,282.27 L245.10,282.48 L245.50,282.23 L245.90,282.48 L246.30,282.66 L246.70,282.31 L247.10,282.41 L247.50,282.29 L247.90,282.36 L248.30,282.38 L248.70,282.34 L249.10,282.81 L249.50,282.76 L249.90,282.56 L250.30,282.72 L250.70,282.70 L251.10,282.63 L251.50,282.59 L251.90,282.72 L252.30,282.68 L252.70,282.55 L253.10,282.61 L253.50,282.75 L253.90,282.76 L254.30,282.56 L254.70,282.77 L255.10,282.91" fill="none" stroke="#d84838" stroke-width="1.5" stroke-linejoin="round"/>
<path d="M189.10,288.44 L189.50,288.31 L189.90,288.36 L190.30,288.44 L190.70,288.06 L191.10,288.28 L191.50,288.44 L191.90,288.42 L192.30,288.24 L192.70,288.00 L193.10,288.15 L193.50,288.50 L193.90,287.96 L194.30,288.09 L194.70,288.47 L195.10,288.17 L195.50,288.03 L195.90,288.09 L196.30,288.45 L196.70,288.10 L197.10,288.16 L197.50,288.28 L197.90,288.38 L198.30,288.20 L198.70,287.95 L199.10,288.24 L199.50,287.92 L199.90,287.96 L200.30,288.01 L200.70,288.32 L201.10,288.07 L201.50,288.31 L201.90,288.00 L202.30,287.97 L202.70,287.68 L203.10,287.16 L203.50,286.32 L203.90,285.02 L204.30,284.13 L204.70,283.12 L205.10,282.64 L205.50,281.61 L205.90,280.73 L206.30,280.28 L206.70,279.55 L207.10,278.79 L207.50,278.01 L207.90,277.74 L208.30,277.19 L208.70,276.67 L209.10,276.13 L209.50,276.27 L209.90,275.98 L210.30,275.69 L210.70,275.75 L211.10,275.45 L211.50,275.49 L211.90,275.58 L212.30,276.11 L212.70,276.27 L213.10,276.44 L213.50,276.98 L213.90,277.09 L214.30,276.84 L214.70,277.50 L215.10,277.15 L215.50,277.72 L215.90,277.69 L216.30,278.10 L216.70,278.40 L217.10,278.30 L217.50,278.59 L217.90,278.31 L218.30,278.82 L218.70,278.63 L219.10,278.97 L219.50,279.03 L219.90,279.00 L220.30,279.53 L220.70,279.25 L221.10,279.47 L221.50,279.47 L221.90,279.93 L222.30,279.82 L222.70,279.76 L223.10,279.85 L223.50,280.06 L223.90,280.33 L224.30,280.12 L224.70,280.22 L225.10,280.69 L225.50,280.69 L225.90,280.53 L226.30,280.71 L226.70,280.68 L227.10,280.84 L227.50,280.98 L227.90,280.94 L228.30,281.00 L228.70,281.08 L229.10,281.19 L229.50,281.40 L229.90,281.66 L230.30,281.57 L230.70,281.51 L231.10,281.29 L231.50,281.46 L231.90,281.77 L232.30,281.68 L232.70,282.00 L233.10,282.08 L233.50,281.76 L233.90,281.84 L234.30,281.84 L234.70,282.11 L235.10,281.80 L235.50,281.95 L235.90,282.35 L236.30,282.08 L236.70,282.47 L237.10,282.16 L237.50,282.46 L237.90,282.26 L238.30,282.08 L238.70,282.39 L239.10,282.20 L239.50,282.65 L239.90,282.55 L240.30,282.48 L240.70,282.74 L241.10,282.54 L241.50,282.81 L241.90,282.68 L242.30,282.39 L242.70,282.48 L243.10,282.83 L243.50,282.40 L243.90,282.95 L244.30,282.41 L244.70,282.85 L245.10,282.79 L245.50,282.68 L245.90,282.81 L246.30,282.82 L246.70,282.70 L247.10,282.67 L247.50,282.55 L247.90,282.92 L248.30,283.07 L248.70,282.78 L249.10,283.09 L249.50,282.82 L249.90,282.75 L250.30,283.09 L250.70,283.18 L251.10,282.69 L251.50,283.17 L251.90,282.85 L252.30,283.13 L252.70,282.85 L253.10,283.28 L253.50,282.90 L253.90,282.83 L254.30,282.74 L254.70,282.80 L255.10,282.78" fill="none" stroke="#7a6a78" stroke-width="1.2" stroke-linejoin="round"/>
<path d="M189.10,288.18 L189.50,288.22 L189.90,288.37 L190.30,288.19 L190.70,288.20 L191.10,288.23 L191.50,288.07 L191.90,288.20 L192.30,288.25 L192.70,288.32 L193.10,288.04 L193.50,288.12 L193.90,288.04 L194.30,288.32 L194.70,288.28 L195.10,288.02 L195.50,288.39 L195.90,288.39 L196.30,288.26 L196.70,288.25 L197.10,288.06 L197.50,288.01 L197.90,288.21 L198.30,288.02 L198.70,288.08 L199.10,288.10 L199.50,288.01 L199.90,288.19 L200.30,288.18 L200.70,288.34 L201.10,288.21 L201.50,288.26 L201.90,288.20 L202.30,288.26 L202.70,287.47 L203.10,286.45 L203.50,285.80 L203.90,284.88 L204.30,283.91 L204.70,282.98 L205.10,281.97 L205.50,281.12 L205.90,280.36 L206.30,279.53 L206.70,279.11 L207.10,278.32 L207.50,277.91 L207.90,277.18 L208.30,276.93 L208.70,276.47 L209.10,275.78 L209.50,275.57 L209.90,275.63 L210.30,275.29 L210.70,275.41 L211.10,275.22 L211.50,275.33 L211.90,275.79 L212.30,276.08 L212.70,276.10 L213.10,276.24 L213.50,276.55 L213.90,277.01 L214.30,277.12 L214.70,277.05 L215.10,277.29 L215.50,277.41 L215.90,277.57 L216.30,278.03 L216.70,277.95 L217.10,278.26 L217.50,278.37 L217.90,278.41 L218.30,278.77 L218.70,278.67 L219.10,279.01 L219.50,278.93 L219.90,279.18 L220.30,279.22 L220.70,279.37 L221.10,279.76 L221.50,279.81 L221.90,279.72 L222.30,280.06 L222.70,279.89 L223.10,280.06 L223.50,280.35 L223.90,280.35 L224.30,280.23 L224.70,280.67 L225.10,280.45 L225.50,280.55 L225.90,280.83 L226.30,280.73 L226.70,280.80 L227.10,280.78 L227.50,280.86 L227.90,281.13 L228.30,281.06 L228.70,281.26 L229.10,281.24 L229.50,281.33 L229.90,281.59 L230.30,281.46 L230.70,281.55 L231.10,281.72 L231.50,281.50 L231.90,281.54 L232.30,281.89 L232.70,281.90 L233.10,281.72 L233.50,281.74 L233.90,282.00 L234.30,282.13 L234.70,281.87 L235.10,282.21 L235.50,282.22 L235.90,282.15 L236.30,282.11 L236.70,282.02 L237.10,282.03 L237.50,282.43 L237.90,282.17 L238.30,282.39 L238.70,282.24 L239.10,282.50 L239.50,282.43 L239.90,282.34 L240.30,282.32 L240.70,282.56 L241.10,282.33 L241.50,282.42 L241.90,282.57 L242.30,282.71 L242.70,282.64 L243.10,282.53 L243.50,282.80 L243.90,282.54 L244.30,282.48 L244.70,282.60 L245.10,282.69 L245.50,282.55 L245.90,282.62 L246.30,282.71 L246.70,282.81 L247.10,282.65 L247.50,282.76 L247.90,282.98 L248.30,283.03 L248.70,282.92 L249.10,282.94 L249.50,282.91 L249.90,282.75 L250.30,282.72 L250.70,282.73 L251.10,283.09 L251.50,283.02 L251.90,283.14 L252.30,282.77 L252.70,283.03 L253.10,282.98 L253.50,283.08 L253.90,282.93 L254.30,283.21 L254.70,282.85 L255.10,283.05" fill="none" stroke="#4a5068" stroke-width="1.2" stroke-linejoin="round"/>
<line x1="29.8" y1="271" x2="36.2" y2="271" stroke="#222" stroke-width="1.6"/>
<line x1="29.8" y1="282.2" x2="36.2" y2="282.2" stroke="#222" stroke-width="1.6"/>
<line x1="29.8" y1="293.4" x2="36.2" y2="293.4" stroke="#222" stroke-width="1.6"/>
<text x="24.0" y="303.8" font-size="6.6" font-weight="bold" text-anchor="start" fill="#111" transform="rotate(-90 24.0 303.8)">Ca2+</text>
<text x="24.0" y="266.9" font-size="6.6" font-weight="bold" text-anchor="end" fill="#111" transform="rotate(-90 24.0 266.9)">influx</text>
<line x1="28.2" y1="302.8" x2="28.2" y2="295.5" stroke="#111" stroke-width="1.0"/>
<path d="M26.099999999999998,296.1 L28.2,292.5 L30.3,296.1 Z" fill="#111" stroke="none" stroke-width="1"/>
<line x1="27.7" y1="302.8" x2="55.5" y2="302.8" stroke="#111" stroke-width="1.0"/>
<path d="M54.9,300.7 L58.5,302.8 L54.9,304.90000000000003 Z" fill="#111" stroke="none" stroke-width="1"/>
<line x1="53.2" y1="296.7" x2="56.8" y2="296.7" stroke="#222" stroke-width="1.3"/>
<line x1="65.9" y1="296.7" x2="69.5" y2="296.7" stroke="#222" stroke-width="1.3"/>
<line x1="78.60000000000001" y1="296.7" x2="82.2" y2="296.7" stroke="#222" stroke-width="1.3"/>
<line x1="93.4" y1="296.7" x2="97.0" y2="296.7" stroke="#222" stroke-width="1.3"/>
<text x="62.4" y="305.2" font-size="6.8" font-weight="bold" text-anchor="start" fill="#111">time (sec)</text>
<text x="260" y="283.3" font-size="6.8" font-weight="bold" text-anchor="start" fill="#111" textLength="26.6" lengthAdjust="spacingAndGlyphs">anti-λLC</text>
<text x="293.24" y="202.1" font-size="11.8" font-weight="bold" text-anchor="start" fill="#000" stroke="#000" stroke-width="0.35">I</text>
<line x1="329.6" y1="200.3" x2="335.6" y2="200.3" stroke="#c0c0c0" stroke-width="1.1"/>
<text x="338.40000000000003" y="202.9" font-size="7.0" font-weight="bold" text-anchor="start" fill="#111">EV</text>
<line x1="329.6" y1="207.9" x2="335.6" y2="207.9" stroke="#c88070" stroke-width="1.1"/>
<text x="338.40000000000003" y="210.5" font-size="7.0" font-weight="bold" text-anchor="start" fill="#111">Hy10</text>
<line x1="410.8" y1="200.20000000000002" x2="416.8" y2="200.20000000000002" stroke="#c88070" stroke-width="1.1"/>
<text x="417.90000000000003" y="202.8" font-size="7.0" font-weight="bold" text-anchor="start" fill="#111">Hy10</text>
<line x1="410.8" y1="208.20000000000002" x2="416.8" y2="208.20000000000002" stroke="#6a6ab8" stroke-width="1.1"/>
<text x="417.90000000000003" y="210.8" font-size="7.0" font-weight="bold" text-anchor="start" fill="#111">Hy10.I29N</text>
<line x1="410.8" y1="216.20000000000002" x2="416.8" y2="216.20000000000002" stroke="#889070" stroke-width="1.1"/>
<text x="417.90000000000003" y="218.8" font-size="7.0" font-weight="bold" text-anchor="start" fill="#111">Hy10.I29Q</text>
<line x1="322.7" y1="224.2" x2="322.7" y2="245.9" stroke="#aaa" stroke-width="0.7"/>
<line x1="322.7" y1="245.9" x2="389.5" y2="245.9" stroke="#aaa" stroke-width="0.7"/>
<line x1="389.5" y1="224.2" x2="389.5" y2="245.9" stroke="#aaa" stroke-width="0.7"/>
<line x1="322.7" y1="224.2" x2="389.5" y2="224.2" stroke="#b8b8b8" stroke-width="0.7"/>
<line x1="397.8" y1="224.2" x2="397.8" y2="246.6" stroke="#aaa" stroke-width="0.7"/>
<line x1="397.8" y1="246.6" x2="464.9" y2="246.6" stroke="#aaa" stroke-width="0.7"/>
<line x1="464.9" y1="224.2" x2="464.9" y2="246.6" stroke="#aaa" stroke-width="0.7"/>
<line x1="397.8" y1="224.2" x2="464.9" y2="224.2" stroke="#b8b8b8" stroke-width="0.7"/>
<path d="M323.00,240.70 L323.50,240.69 L324.00,240.68 L324.50,240.67 L325.00,240.66 L325.50,240.65 L326.00,240.64 L326.50,240.63 L327.00,240.62 L327.50,240.61 L328.00,240.60 L328.50,240.59 L329.00,240.58 L329.50,240.57 L330.00,240.56 L330.50,240.55 L331.00,240.54 L331.50,240.53 L332.00,240.52 L332.50,240.51 L333.00,240.50 L333.50,240.49 L334.00,240.48 L334.50,240.47 L335.00,240.46 L335.50,240.45 L336.00,240.44 L336.50,240.43 L337.00,240.42 L337.50,240.41 L338.00,240.40 L338.50,240.39 L339.00,240.38 L339.50,240.38 L340.00,240.37 L340.50,240.36 L341.00,240.35 L341.50,240.34 L342.00,240.33 L342.50,240.32 L343.00,240.31 L343.50,240.30 L344.00,240.29 L344.50,240.28 L345.00,240.27 L345.50,240.26 L346.00,240.25 L346.50,240.24 L347.00,240.23 L347.50,240.22 L348.00,240.21 L348.50,240.20 L349.00,240.19 L349.50,240.18 L350.00,240.17 L350.50,240.16 L351.00,240.15 L351.50,240.14 L352.00,240.13 L352.50,240.12 L353.00,240.11 L353.50,240.10 L354.00,240.09 L354.50,240.08 L355.00,240.07 L355.50,240.06 L356.00,240.05 L356.50,240.04 L357.00,240.03 L357.50,240.02 L358.00,240.01 L358.50,240.00 L359.00,239.99 L359.50,239.98 L360.00,239.97 L360.50,239.96 L361.00,239.95 L361.50,239.94 L362.00,239.93 L362.50,239.92 L363.00,239.91 L363.50,239.90 L364.00,239.89 L364.50,239.88 L365.00,239.87 L365.50,239.86 L366.00,239.85 L366.50,239.84 L367.00,239.83 L367.50,239.82 L368.00,239.81 L368.50,239.80 L369.00,239.79 L369.50,239.78 L370.00,239.77 L370.50,239.76 L371.00,239.75 L371.50,239.74 L372.00,239.73 L372.50,239.72 L373.00,239.72 L373.50,239.71 L374.00,239.70 L374.50,239.69 L375.00,239.68 L375.50,239.67 L376.00,239.66 L376.50,239.65 L377.00,239.64 L377.50,239.63 L378.00,239.62 L378.50,239.61 L379.00,239.60 L379.50,239.59 L380.00,239.58 L380.50,239.57 L381.00,239.56 L381.50,239.55 L382.00,239.54 L382.50,239.53 L383.00,239.52 L383.50,239.51 L384.00,239.50 L384.50,239.49 L385.00,239.48 L385.50,239.47 L386.00,239.46 L386.50,239.45 L387.00,239.44 L387.50,239.43 L388.00,239.42 L388.50,239.41 L389.00,239.40" fill="none" stroke="#d0d0d0" stroke-width="0.9" stroke-linejoin="round"/>
<path d="M323.00,240.69 L323.40,240.74 L323.80,240.58 L324.20,240.64 L324.60,240.75 L325.00,240.71 L325.40,240.61 L325.80,240.62 L326.20,240.59 L326.60,240.59 L327.00,240.66 L327.40,240.79 L327.80,240.59 L328.20,240.70 L328.60,240.82 L329.00,240.60 L329.40,240.61 L329.80,240.73 L330.20,240.75 L330.60,240.62 L331.00,240.68 L331.40,240.72 L331.80,240.67 L332.20,240.76 L332.60,240.82 L333.00,240.66 L333.40,240.75 L333.80,240.60 L334.20,240.67 L334.60,240.78 L335.00,240.58 L335.40,240.68 L335.80,240.63 L336.20,240.67 L336.60,240.60 L337.00,240.62 L337.40,240.58 L337.80,240.66 L338.20,240.59 L338.60,240.63 L339.00,240.69 L339.40,240.70 L339.80,240.62 L340.20,240.67 L340.60,240.76 L341.00,240.58 L341.40,240.77 L341.80,240.64 L342.20,240.59 L342.60,240.82 L343.00,240.70 L343.40,239.74 L343.80,238.96 L344.20,237.72 L344.60,237.11 L345.00,236.08 L345.40,235.95 L345.80,234.65 L346.20,234.00 L346.60,233.68 L347.00,233.39 L347.40,232.59 L347.80,232.69 L348.20,231.94 L348.60,232.13 L349.00,232.24 L349.40,232.57 L349.80,233.13 L350.20,233.17 L350.60,233.18 L351.00,233.56 L351.40,233.28 L351.80,233.84 L352.20,233.27 L352.60,234.31 L353.00,234.45 L353.40,234.23 L353.80,233.78 L354.20,234.27 L354.60,234.77 L355.00,234.82 L355.40,234.84 L355.80,234.81 L356.20,234.93 L356.60,235.31 L357.00,234.81 L357.40,235.51 L357.80,235.56 L358.20,234.77 L358.60,235.52 L359.00,235.82 L359.40,235.47 L359.80,235.81 L360.20,235.65 L360.60,235.87 L361.00,236.42 L361.40,236.27 L361.80,236.09 L362.20,236.53 L362.60,236.20 L363.00,236.63 L363.40,236.38 L363.80,236.29 L364.20,236.61 L364.60,236.54 L365.00,236.38 L365.40,236.40 L365.80,236.47 L366.20,236.29 L366.60,236.73 L367.00,236.27 L367.40,236.54 L367.80,236.89 L368.20,237.20 L368.60,236.68 L369.00,237.02 L369.40,237.02 L369.80,236.85 L370.20,236.73 L370.60,236.87 L371.00,236.91 L371.40,236.71 L371.80,236.81 L372.20,236.10 L372.60,237.47 L373.00,236.98 L373.40,236.94 L373.80,237.52 L374.20,236.89 L374.60,236.72 L375.00,236.72 L375.40,236.89 L375.80,237.03 L376.20,236.94 L376.60,237.63 L377.00,236.88 L377.40,237.33 L377.80,237.33 L378.20,237.62 L378.60,237.46 L379.00,237.47 L379.40,237.26 L379.80,237.57 L380.20,237.79 L380.60,237.73 L381.00,237.84 L381.40,237.32 L381.80,237.51 L382.20,237.75 L382.60,236.88 L383.00,236.68 L383.40,237.04 L383.80,237.55 L384.20,237.90 L384.60,237.63 L385.00,237.88 L385.40,237.17 L385.80,237.39 L386.20,237.29 L386.60,237.06 L387.00,237.93 L387.40,237.75 L387.80,237.35 L388.20,237.92 L388.60,237.39 L389.00,237.49" fill="none" stroke="#d03a30" stroke-width="1.7" stroke-linejoin="round"/>
<path d="M323.00,240.60 L323.40,240.76 L323.80,240.74 L324.20,240.69 L324.60,240.61 L325.00,240.79 L325.40,240.79 L325.80,240.70 L326.20,240.70 L326.60,240.62 L327.00,240.55 L327.40,240.66 L327.80,240.73 L328.20,240.57 L328.60,240.79 L329.00,240.62 L329.40,240.62 L329.80,240.56 L330.20,240.85 L330.60,240.77 L331.00,240.81 L331.40,240.73 L331.80,240.56 L332.20,240.65 L332.60,240.70 L333.00,240.58 L333.40,240.84 L333.80,240.66 L334.20,240.60 L334.60,240.80 L335.00,240.59 L335.40,240.83 L335.80,240.69 L336.20,240.72 L336.60,240.65 L337.00,240.70 L337.40,240.61 L337.80,240.56 L338.20,240.81 L338.60,240.62 L339.00,240.78 L339.40,240.61 L339.80,240.84 L340.20,240.82 L340.60,240.78 L341.00,240.78 L341.40,240.72 L341.80,240.77 L342.20,240.59 L342.60,240.69 L343.00,240.80 L343.40,240.61 L343.80,240.21 L344.20,239.74 L344.60,238.37 L345.00,237.54 L345.40,236.91 L345.80,236.14 L346.20,236.22 L346.60,234.91 L347.00,233.95 L347.40,233.58 L347.80,233.95 L348.20,233.98 L348.60,233.17 L349.00,233.03 L349.40,233.06 L349.80,233.49 L350.20,233.04 L350.60,233.67 L351.00,233.78 L351.40,234.02 L351.80,233.64 L352.20,233.78 L352.60,234.13 L353.00,234.96 L353.40,234.40 L353.80,234.83 L354.20,234.60 L354.60,234.47 L355.00,234.54 L355.40,235.54 L355.80,235.60 L356.20,235.22 L356.60,235.68 L357.00,235.77 L357.40,236.12 L357.80,236.28 L358.20,235.70 L358.60,236.47 L359.00,236.52 L359.40,236.14 L359.80,236.56 L360.20,236.16 L360.60,236.08 L361.00,235.99 L361.40,236.81 L361.80,236.01 L362.20,235.95 L362.60,236.88 L363.00,236.90 L363.40,236.60 L363.80,237.07 L364.20,236.17 L364.60,236.46 L365.00,236.54 L365.40,236.73 L365.80,236.47 L366.20,236.39 L366.60,236.75 L367.00,237.45 L367.40,237.59 L367.80,237.33 L368.20,237.04 L368.60,236.80 L369.00,237.67 L369.40,237.18 L369.80,237.45 L370.20,236.63 L370.60,236.88 L371.00,237.65 L371.40,237.62 L371.80,237.75 L372.20,237.43 L372.60,237.24 L373.00,237.44 L373.40,237.78 L373.80,237.15 L374.20,237.44 L374.60,237.14 L375.00,237.75 L375.40,236.86 L375.80,237.68 L376.20,238.02 L376.60,236.91 L377.00,237.61 L377.40,237.68 L377.80,237.94 L378.20,237.63 L378.60,237.25 L379.00,237.44 L379.40,238.11 L379.80,238.06 L380.20,237.14 L380.60,237.10 L381.00,237.11 L381.40,237.03 L381.80,237.55 L382.20,237.19 L382.60,238.07 L383.00,237.82 L383.40,237.19 L383.80,237.69 L384.20,237.44 L384.60,237.65 L385.00,237.33 L385.40,237.27 L385.80,237.29 L386.20,237.53 L386.60,237.94 L387.00,237.75 L387.40,237.15 L387.80,237.95 L388.20,238.15 L388.60,238.03 L389.00,238.06" fill="none" stroke="#902020" stroke-width="0.6" stroke-linejoin="round"/>
<path d="M398.00,239.20 L398.50,239.20 L399.00,239.20 L399.50,239.19 L400.00,239.19 L400.50,239.19 L401.00,239.19 L401.50,239.19 L402.00,239.18 L402.50,239.18 L403.00,239.18 L403.50,239.18 L404.00,239.18 L404.50,239.17 L405.00,239.17 L405.50,239.17 L406.00,239.17 L406.50,239.17 L407.00,239.16 L407.50,239.16 L408.00,239.16 L408.50,239.16 L409.00,239.16 L409.50,239.15 L410.00,239.15 L410.50,239.15 L411.00,239.15 L411.50,239.15 L412.00,239.14 L412.50,239.14 L413.00,239.14 L413.50,239.14 L414.00,239.14 L414.50,239.13 L415.00,239.13 L415.50,239.13 L416.00,239.13 L416.50,239.13 L417.00,239.12 L417.50,239.12 L418.00,239.12 L418.50,239.12 L419.00,239.12 L419.50,239.11 L420.00,239.11 L420.50,239.11 L421.00,239.11 L421.50,239.11 L422.00,239.10 L422.50,239.10 L423.00,239.10 L423.50,239.10 L424.00,239.10 L424.50,239.09 L425.00,239.09 L425.50,239.09 L426.00,239.09 L426.50,239.09 L427.00,239.08 L427.50,239.08 L428.00,239.08 L428.50,239.08 L429.00,239.08 L429.50,239.07 L430.00,239.07 L430.50,239.07 L431.00,239.07 L431.50,239.07 L432.00,239.06 L432.50,239.06 L433.00,239.06 L433.50,239.06 L434.00,239.06 L434.50,239.05 L435.00,239.05 L435.50,239.05 L436.00,239.05 L436.50,239.05 L437.00,239.04 L437.50,239.04 L438.00,239.04 L438.50,239.04 L439.00,239.04 L439.50,239.03 L440.00,239.03 L440.50,239.03 L441.00,239.03 L441.50,239.03 L442.00,239.02 L442.50,239.02 L443.00,239.02 L443.50,239.02 L444.00,239.02 L444.50,239.01 L445.00,239.01 L445.50,239.01 L446.00,239.01 L446.50,239.01 L447.00,239.00 L447.50,239.00 L448.00,239.00 L448.50,239.00 L449.00,239.00 L449.50,238.99 L450.00,238.99 L450.50,238.99 L451.00,238.99 L451.50,238.99 L452.00,238.98 L452.50,238.98 L453.00,238.98 L453.50,238.98 L454.00,238.98 L454.50,238.97 L455.00,238.97 L455.50,238.97 L456.00,238.97 L456.50,238.97 L457.00,238.96 L457.50,238.96 L458.00,238.96 L458.50,238.96 L459.00,238.96 L459.50,238.95 L460.00,238.95 L460.50,238.95 L461.00,238.95 L461.50,238.95 L462.00,238.94 L462.50,238.94 L463.00,238.94 L463.50,238.94 L464.00,238.94 L464.50,238.93" fill="none" stroke="#4a5aa0" stroke-width="1.0" stroke-linejoin="round"/>
<path d="M398.00,239.54 L398.30,239.82 L398.60,239.50 L398.90,239.47 L399.20,239.85 L399.50,239.72 L399.80,239.57 L400.10,239.92 L400.40,239.38 L400.70,239.47 L401.00,239.90 L401.30,239.91 L401.60,239.99 L401.90,239.54 L402.20,239.69 L402.50,239.74 L402.80,239.61 L403.10,239.58 L403.40,239.91 L403.70,240.02 L404.00,239.74 L404.30,239.46 L404.60,239.66 L404.90,239.51 L405.20,239.54 L405.50,239.77 L405.80,239.46 L406.10,239.53 L406.40,239.50 L406.70,239.42 L407.00,239.99 L407.30,239.84 L407.60,239.40 L407.90,239.90 L408.20,239.79 L408.50,239.64 L408.80,239.95 L409.10,239.51 L409.40,239.62 L409.70,239.46 L410.00,239.77 L410.30,239.51 L410.60,239.75 L410.90,239.61 L411.20,239.60 L411.50,239.48 L411.80,239.45 L412.10,239.42 L412.40,239.74 L412.70,239.40 L413.00,239.60 L413.30,239.38 L413.60,239.30 L413.90,238.92 L414.20,237.51 L414.50,237.79 L414.80,236.39 L415.10,237.22 L415.40,236.83 L415.70,236.79 L416.00,234.71 L416.30,236.59 L416.60,234.50 L416.90,235.65 L417.20,234.61 L417.50,233.38 L417.80,232.95 L418.10,232.22 L418.40,232.06 L418.70,231.59 L419.00,231.84 L419.30,232.58 L419.60,231.70 L419.90,231.15 L420.20,230.95 L420.50,231.12 L420.80,231.23 L421.10,231.36 L421.40,232.68 L421.70,230.62 L422.00,231.01 L422.30,231.66 L422.60,232.39 L422.90,231.12 L423.20,233.50 L423.50,232.61 L423.80,232.39 L424.10,232.17 L424.40,233.46 L424.70,233.18 L425.00,233.08 L425.30,233.65 L425.60,234.19 L425.90,233.61 L426.20,233.69 L426.50,234.89 L426.80,232.64 L427.10,233.01 L427.40,234.87 L427.70,234.80 L428.00,234.38 L428.30,234.69 L428.60,234.25 L428.90,235.53 L429.20,233.70 L429.50,234.17 L429.80,233.78 L430.10,235.60 L430.40,235.42 L430.70,234.33 L431.00,235.28 L431.30,234.02 L431.60,235.72 L431.90,233.92 L432.20,234.69 L432.50,233.34 L432.80,232.81 L433.10,234.36 L433.40,234.88 L433.70,235.79 L434.00,235.58 L434.30,234.79 L434.60,233.76 L434.90,234.10 L435.20,233.15 L435.50,236.18 L435.80,235.06 L436.10,234.45 L436.40,233.86 L436.70,235.83 L437.00,233.05 L437.30,235.00 L437.60,234.01 L437.90,236.35 L438.20,236.10 L438.50,235.83 L438.80,235.51 L439.10,234.33 L439.40,234.27 L439.70,235.60 L440.00,236.04 L440.30,235.03 L440.60,235.34 L440.90,235.13 L441.20,235.22 L441.50,234.96 L441.80,236.46 L442.10,234.11 L442.40,235.18 L442.70,236.15 L443.00,235.28 L443.30,235.59 L443.60,234.34 L443.90,234.52 L444.20,234.93 L444.50,234.69 L444.80,234.93 L445.10,236.47 L445.40,233.73 L445.70,234.73 L446.00,234.22 L446.30,234.32 L446.60,235.66 L446.90,235.91 L447.20,236.02 L447.50,236.42 L447.80,234.35 L448.10,235.56 L448.40,236.25 L448.70,236.06 L449.00,235.32 L449.30,234.96 L449.60,235.67 L449.90,234.96 L450.20,234.49 L450.50,234.66 L450.80,236.75 L451.10,236.34 L451.40,234.16 L451.70,234.52 L452.00,235.75 L452.30,236.10 L452.60,235.12 L452.90,234.26 L453.20,232.89 L453.50,236.39 L453.80,235.36 L454.10,234.27 L454.40,234.90 L454.70,235.90 L455.00,236.22 L455.30,234.55 L455.60,235.74 L455.90,236.72 L456.20,235.83 L456.50,235.55 L456.80,236.40 L457.10,233.68 L457.40,235.16 L457.70,235.03 L458.00,235.32 L458.30,235.82 L458.60,236.32 L458.90,235.68 L459.20,236.16 L459.50,236.60 L459.80,235.73 L460.10,234.91 L460.40,235.58 L460.70,234.40 L461.00,236.21 L461.30,236.49 L461.60,236.29 L461.90,234.96 L462.20,236.38 L462.50,235.76 L462.80,234.39 L463.10,235.45 L463.40,235.88 L463.70,236.56 L464.00,234.85 L464.30,235.82 L464.60,236.72" fill="none" stroke="#a0b040" stroke-width="1.0" stroke-linejoin="round"/>
<path d="M398.00,239.64 L398.30,239.53 L398.60,239.74 L398.90,239.73 L399.20,239.82 L399.50,239.84 L399.80,239.87 L400.10,239.53 L400.40,239.81 L400.70,239.78 L401.00,239.48 L401.30,239.47 L401.60,239.87 L401.90,239.81 L402.20,239.51 L402.50,239.51 L402.80,239.79 L403.10,239.48 L403.40,239.76 L403.70,239.54 L404.00,239.87 L404.30,239.52 L404.60,239.65 L404.90,239.70 L405.20,239.46 L405.50,239.68 L405.80,239.66 L406.10,239.72 L406.40,239.78 L406.70,239.52 L407.00,239.47 L407.30,239.89 L407.60,239.50 L407.90,239.51 L408.20,239.78 L408.50,239.75 L408.80,239.87 L409.10,239.57 L409.40,239.82 L409.70,239.66 L410.00,239.93 L410.30,239.56 L410.60,239.59 L410.90,239.61 L411.20,239.64 L411.50,239.83 L411.80,239.56 L412.10,239.47 L412.40,239.78 L412.70,239.57 L413.00,239.53 L413.30,239.56 L413.60,239.36 L413.90,239.16 L414.20,238.78 L414.50,239.18 L414.80,237.57 L415.10,238.27 L415.40,236.99 L415.70,235.91 L416.00,235.97 L416.30,235.97 L416.60,235.77 L416.90,235.87 L417.20,234.02 L417.50,234.62 L417.80,234.83 L418.10,233.98 L418.40,234.14 L418.70,232.78 L419.00,233.27 L419.30,232.25 L419.60,231.86 L419.90,233.45 L420.20,231.55 L420.50,232.78 L420.80,231.32 L421.10,231.61 L421.40,231.85 L421.70,231.65 L422.00,231.90 L422.30,232.63 L422.60,233.05 L422.90,231.92 L423.20,231.39 L423.50,233.57 L423.80,232.61 L424.10,233.52 L424.40,233.43 L424.70,234.00 L425.00,233.02 L425.30,234.26 L425.60,234.55 L425.90,233.77 L426.20,233.14 L426.50,235.09 L426.80,234.67 L427.10,234.27 L427.40,234.01 L427.70,233.72 L428.00,233.62 L428.30,234.13 L428.60,234.18 L428.90,234.00 L429.20,235.62 L429.50,235.10 L429.80,235.60 L430.10,234.37 L430.40,235.42 L430.70,234.24 L431.00,234.89 L431.30,235.76 L431.60,234.53 L431.90,235.13 L432.20,235.48 L432.50,234.62 L432.80,235.67 L433.10,234.58 L433.40,234.79 L433.70,235.96 L434.00,234.46 L434.30,236.30 L434.60,235.14 L434.90,234.89 L435.20,234.84 L435.50,235.23 L435.80,235.32 L436.10,234.52 L436.40,235.05 L436.70,234.82 L437.00,234.67 L437.30,236.44 L437.60,235.77 L437.90,236.00 L438.20,234.13 L438.50,236.37 L438.80,235.97 L439.10,236.52 L439.40,234.73 L439.70,235.76 L440.00,235.50 L440.30,234.72 L440.60,234.51 L440.90,236.48 L441.20,235.75 L441.50,235.63 L441.80,236.61 L442.10,236.50 L442.40,235.74 L442.70,235.30 L443.00,236.70 L443.30,235.28 L443.60,234.92 L443.90,235.07 L444.20,234.92 L444.50,235.30 L444.80,236.37 L445.10,235.12 L445.40,235.07 L445.70,234.80 L446.00,234.95 L446.30,236.66 L446.60,234.61 L446.90,235.53 L447.20,235.10 L447.50,236.71 L447.80,235.19 L448.10,235.90 L448.40,234.49 L448.70,235.66 L449.00,235.79 L449.30,235.60 L449.60,234.46 L449.90,235.42 L450.20,236.56 L450.50,236.47 L450.80,235.30 L451.10,235.07 L451.40,235.37 L451.70,235.52 L452.00,235.88 L452.30,235.91 L452.60,236.20 L452.90,236.71 L453.20,235.87 L453.50,235.06 L453.80,235.68 L454.10,236.11 L454.40,235.36 L454.70,236.54 L455.00,235.67 L455.30,236.66 L455.60,235.67 L455.90,236.55 L456.20,236.67 L456.50,236.24 L456.80,234.94 L457.10,236.55 L457.40,234.99 L457.70,235.96 L458.00,235.72 L458.30,236.22 L458.60,235.78 L458.90,235.36 L459.20,236.18 L459.50,234.99 L459.80,236.48 L460.10,235.58 L460.40,235.81 L460.70,235.39 L461.00,234.48 L461.30,234.94 L461.60,235.69 L461.90,236.30 L462.20,234.90 L462.50,236.34 L462.80,236.87 L463.10,235.68 L463.40,235.10 L463.70,235.16 L464.00,236.12 L464.30,235.26 L464.60,236.78" fill="none" stroke="#e0a040" stroke-width="0.6" stroke-linejoin="round"/>
<path d="M398.00,239.42 L398.30,239.81 L398.60,239.54 L398.90,239.86 L399.20,239.56 L399.50,239.63 L399.80,239.43 L400.10,239.98 L400.40,239.53 L400.70,239.79 L401.00,239.74 L401.30,239.47 L401.60,239.44 L401.90,239.41 L402.20,240.03 L402.50,240.04 L402.80,239.78 L403.10,239.83 L403.40,239.76 L403.70,239.48 L404.00,239.96 L404.30,239.49 L404.60,239.50 L404.90,239.70 L405.20,239.92 L405.50,239.55 L405.80,239.87 L406.10,239.72 L406.40,239.69 L406.70,239.72 L407.00,239.69 L407.30,239.77 L407.60,239.68 L407.90,239.96 L408.20,239.40 L408.50,239.84 L408.80,239.36 L409.10,240.01 L409.40,239.59 L409.70,240.01 L410.00,239.56 L410.30,239.79 L410.60,239.53 L410.90,239.37 L411.20,240.04 L411.50,239.55 L411.80,239.60 L412.10,239.37 L412.40,239.49 L412.70,239.96 L413.00,239.52 L413.30,239.50 L413.60,238.89 L413.90,238.26 L414.20,238.98 L414.50,237.28 L414.80,236.42 L415.10,237.62 L415.40,236.65 L415.70,236.62 L416.00,234.33 L416.30,234.56 L416.60,233.12 L416.90,234.44 L417.20,232.89 L417.50,233.37 L417.80,233.75 L418.10,232.31 L418.40,231.40 L418.70,231.23 L419.00,231.04 L419.30,231.09 L419.60,232.18 L419.90,232.85 L420.20,230.74 L420.50,230.86 L420.80,232.71 L421.10,230.44 L421.40,233.04 L421.70,230.85 L422.00,231.92 L422.30,233.32 L422.60,231.71 L422.90,231.99 L423.20,232.32 L423.50,231.39 L423.80,233.69 L424.10,233.08 L424.40,234.43 L424.70,233.72 L425.00,231.91 L425.30,232.66 L425.60,234.68 L425.90,234.56 L426.20,233.50 L426.50,234.62 L426.80,235.08 L427.10,234.45 L427.40,234.01 L427.70,233.85 L428.00,232.86 L428.30,234.35 L428.60,233.97 L428.90,235.55 L429.20,231.39 L429.50,234.28 L429.80,234.45 L430.10,233.66 L430.40,233.80 L430.70,231.74 L431.00,233.11 L431.30,235.13 L431.60,235.41 L431.90,233.91 L432.20,235.07 L432.50,233.86 L432.80,235.31 L433.10,235.10 L433.40,235.55 L433.70,234.86 L434.00,234.36 L434.30,235.30 L434.60,235.94 L434.90,236.10 L435.20,234.02 L435.50,235.52 L435.80,235.41 L436.10,236.34 L436.40,234.69 L436.70,233.87 L437.00,235.35 L437.30,234.59 L437.60,235.07 L437.90,234.73 L438.20,236.16 L438.50,234.77 L438.80,236.59 L439.10,233.85 L439.40,236.33 L439.70,234.39 L440.00,234.16 L440.30,234.49 L440.60,233.67 L440.90,235.10 L441.20,234.05 L441.50,236.19 L441.80,235.56 L442.10,235.42 L442.40,234.97 L442.70,234.29 L443.00,235.69 L443.30,234.17 L443.60,234.20 L443.90,234.60 L444.20,234.26 L444.50,235.28 L444.80,234.15 L445.10,236.70 L445.40,236.50 L445.70,234.75 L446.00,236.71 L446.30,234.68 L446.60,233.14 L446.90,233.46 L447.20,236.20 L447.50,236.58 L447.80,234.51 L448.10,235.20 L448.40,236.33 L448.70,236.69 L449.00,236.68 L449.30,236.67 L449.60,235.99 L449.90,234.72 L450.20,234.52 L450.50,234.38 L450.80,235.82 L451.10,234.65 L451.40,232.93 L451.70,235.90 L452.00,236.57 L452.30,234.67 L452.60,234.70 L452.90,234.31 L453.20,235.24 L453.50,236.71 L453.80,232.62 L454.10,235.34 L454.40,235.86 L454.70,236.69 L455.00,235.48 L455.30,234.93 L455.60,233.53 L455.90,234.98 L456.20,234.89 L456.50,235.58 L456.80,234.12 L457.10,234.77 L457.40,235.31 L457.70,236.70 L458.00,235.16 L458.30,234.74 L458.60,234.89 L458.90,235.68 L459.20,236.16 L459.50,236.74 L459.80,236.71 L460.10,235.36 L460.40,236.49 L460.70,236.18 L461.00,233.36 L461.30,234.90 L461.60,236.12 L461.90,236.73 L462.20,234.74 L462.50,234.24 L462.80,236.68 L463.10,235.76 L463.40,233.87 L463.70,235.92 L464.00,235.51 L464.30,236.33 L464.60,236.35" fill="none" stroke="#d84030" stroke-width="1.0" stroke-linejoin="round"/>
<path d="M398.00,239.60 L398.50,239.60 L399.00,239.60 L399.50,239.60 L400.00,239.60 L400.50,239.60 L401.00,239.60 L401.50,239.60 L402.00,239.60 L402.50,239.60 L403.00,239.60 L403.50,239.60 L404.00,239.60 L404.50,239.60 L405.00,239.60 L405.50,239.60 L406.00,239.60 L406.50,239.60 L407.00,239.60 L407.50,239.60 L408.00,239.60 L408.50,239.60 L409.00,239.60 L409.50,239.60 L410.00,239.60 L410.50,239.60 L411.00,239.60 L411.50,239.60 L412.00,239.60 L412.50,239.60 L413.00,239.60 L413.50,239.60" fill="none" stroke="#4a5aa0" stroke-width="1.0" stroke-linejoin="round"/>
<line x1="314.3" y1="223.6" x2="320.6" y2="223.6" stroke="#222" stroke-width="1.6"/>
<line x1="314.3" y1="228.7" x2="320.6" y2="228.7" stroke="#222" stroke-width="1.6"/>
<line x1="314.3" y1="234.8" x2="320.6" y2="234.8" stroke="#222" stroke-width="1.6"/>
<line x1="314.3" y1="241" x2="320.6" y2="241" stroke="#222" stroke-width="1.6"/>
<line x1="314.3" y1="246.6" x2="320.6" y2="246.6" stroke="#222" stroke-width="1.6"/>
<text x="308.4" y="256.0" font-size="6.6" font-weight="bold" text-anchor="start" fill="#111" transform="rotate(-90 308.4 256.0)">Ca2+</text>
<text x="308.4" y="218.5" font-size="6.6" font-weight="bold" text-anchor="end" fill="#111" transform="rotate(-90 308.4 218.5)">influx</text>
<line x1="311.0" y1="254.7" x2="311.0" y2="246.8" stroke="#111" stroke-width="1.0"/>
<path d="M308.9,247.4 L311.0,243.8 L313.1,247.4 Z" fill="#111" stroke="none" stroke-width="1"/>
<line x1="310.5" y1="254.7" x2="340.0" y2="254.7" stroke="#111" stroke-width="1.0"/>
<path d="M339.4,252.6 L343.0,254.7 L339.4,256.8 Z" fill="#111" stroke="none" stroke-width="1"/>
<line x1="335.5" y1="249.4" x2="339.1" y2="249.4" stroke="#222" stroke-width="1.3"/>
<line x1="349.4" y1="249.4" x2="353.0" y2="249.4" stroke="#222" stroke-width="1.3"/>
<line x1="363.2" y1="249.4" x2="366.8" y2="249.4" stroke="#222" stroke-width="1.3"/>
<line x1="377.8" y1="249.4" x2="381.40000000000003" y2="249.4" stroke="#222" stroke-width="1.3"/>
<text x="345.6" y="258" font-size="6.8" font-weight="bold" text-anchor="start" fill="#111">time (sec)</text>
<text x="470.7" y="238.9" font-size="7.1" font-weight="bold" text-anchor="start" fill="#111" textLength="17.2" lengthAdjust="spacingAndGlyphs">sHEL</text>
<text x="293.57" y="270.4" font-size="11.6" font-weight="bold" text-anchor="start" fill="#000" stroke="#000" stroke-width="0.35">J</text>
<line x1="322" y1="271.5" x2="322" y2="294.1" stroke="#aaa" stroke-width="0.7"/>
<line x1="322" y1="294.1" x2="389.7" y2="294.1" stroke="#aaa" stroke-width="0.7"/>
<line x1="389.7" y1="271.5" x2="389.7" y2="294.1" stroke="#aaa" stroke-width="0.7"/>
<line x1="322" y1="271.5" x2="389.7" y2="271.5" stroke="#b8b8b8" stroke-width="0.7"/>
<line x1="398.6" y1="272.3" x2="398.6" y2="295.2" stroke="#aaa" stroke-width="0.7"/>
<line x1="398.6" y1="295.2" x2="464.6" y2="295.2" stroke="#aaa" stroke-width="0.7"/>
<line x1="464.6" y1="272.3" x2="464.6" y2="295.2" stroke="#aaa" stroke-width="0.7"/>
<line x1="398.6" y1="272.3" x2="464.6" y2="272.3" stroke="#b8b8b8" stroke-width="0.7"/>
<path d="M322.30,288.80 L322.80,288.79 L323.30,288.79 L323.80,288.78 L324.30,288.78 L324.80,288.77 L325.30,288.76 L325.80,288.76 L326.30,288.75 L326.80,288.75 L327.30,288.74 L327.80,288.73 L328.30,288.73 L328.80,288.72 L329.30,288.72 L329.80,288.71 L330.30,288.70 L330.80,288.70 L331.30,288.69 L331.80,288.69 L332.30,288.68 L332.80,288.68 L333.30,288.67 L333.80,288.66 L334.30,288.66 L334.80,288.65 L335.30,288.65 L335.80,288.64 L336.30,288.63 L336.80,288.63 L337.30,288.62 L337.80,288.62 L338.30,288.61 L338.80,288.60 L339.30,288.60 L339.80,288.59 L340.30,288.59 L340.80,288.58 L341.30,288.57 L341.80,288.57 L342.30,288.56 L342.80,288.56 L343.30,288.55 L343.80,288.54 L344.30,288.54 L344.80,288.53 L345.30,288.53 L345.80,288.52 L346.30,288.51 L346.80,288.51 L347.30,288.50 L347.80,288.50 L348.30,288.49 L348.80,288.48 L349.30,288.48 L349.80,288.47 L350.30,288.47 L350.80,288.46 L351.30,288.45 L351.80,288.45 L352.30,288.44 L352.80,288.44 L353.30,288.43 L353.80,288.43 L354.30,288.42 L354.80,288.41 L355.30,288.41 L355.80,288.40 L356.30,288.40 L356.80,288.39 L357.30,288.38 L357.80,288.38 L358.30,288.37 L358.80,288.37 L359.30,288.36 L359.80,288.35 L360.30,288.35 L360.80,288.34 L361.30,288.34 L361.80,288.33 L362.30,288.32 L362.80,288.32 L363.30,288.31 L363.80,288.31 L364.30,288.30 L364.80,288.29 L365.30,288.29 L365.80,288.28 L366.30,288.28 L366.80,288.27 L367.30,288.26 L367.80,288.26 L368.30,288.25 L368.80,288.25 L369.30,288.24 L369.80,288.23 L370.30,288.23 L370.80,288.22 L371.30,288.22 L371.80,288.21 L372.30,288.20 L372.80,288.20 L373.30,288.19 L373.80,288.19 L374.30,288.18 L374.80,288.18 L375.30,288.17 L375.80,288.16 L376.30,288.16 L376.80,288.15 L377.30,288.15 L377.80,288.14 L378.30,288.13 L378.80,288.13 L379.30,288.12 L379.80,288.12 L380.30,288.11 L380.80,288.10 L381.30,288.10 L381.80,288.09 L382.30,288.09 L382.80,288.08 L383.30,288.07 L383.80,288.07 L384.30,288.06 L384.80,288.06 L385.30,288.05 L385.80,288.04 L386.30,288.04 L386.80,288.03 L387.30,288.03 L387.80,288.02 L388.30,288.01 L388.80,288.01 L389.30,288.00" fill="none" stroke="#d0d0d0" stroke-width="0.9" stroke-linejoin="round"/>
<path d="M322.30,288.89 L322.70,288.70 L323.10,288.85 L323.50,288.73 L323.90,288.90 L324.30,288.70 L324.70,288.88 L325.10,288.84 L325.50,288.87 L325.90,288.90 L326.30,288.75 L326.70,288.77 L327.10,288.84 L327.50,288.76 L327.90,288.75 L328.30,288.75 L328.70,288.87 L329.10,288.87 L329.50,288.86 L329.90,288.74 L330.30,288.88 L330.70,288.80 L331.10,288.75 L331.50,288.79 L331.90,288.78 L332.30,288.72 L332.70,288.81 L333.10,288.77 L333.50,288.81 L333.90,288.89 L334.30,288.83 L334.70,288.78 L335.10,288.87 L335.50,288.90 L335.90,288.80 L336.30,288.89 L336.70,288.70 L337.10,288.73 L337.50,288.73 L337.90,288.89 L338.30,288.84 L338.70,288.84 L339.10,288.76 L339.50,288.80 L339.90,288.88 L340.30,288.72 L340.70,288.72 L341.10,288.71 L341.50,288.79 L341.90,288.87 L342.30,288.81 L342.70,288.78 L343.10,288.80 L343.50,288.74 L343.90,288.89 L344.30,288.77 L344.70,288.75 L345.10,288.76 L345.50,288.27 L345.90,286.98 L346.30,286.17 L346.70,284.60 L347.10,283.62 L347.50,282.33 L347.90,282.09 L348.30,281.19 L348.70,280.24 L349.10,279.37 L349.50,279.23 L349.90,278.82 L350.30,279.01 L350.70,279.11 L351.10,279.21 L351.50,279.09 L351.90,279.13 L352.30,280.03 L352.70,280.29 L353.10,279.86 L353.50,280.34 L353.90,280.51 L354.30,281.09 L354.70,280.52 L355.10,280.70 L355.50,281.49 L355.90,281.43 L356.30,281.49 L356.70,281.89 L357.10,281.88 L357.50,282.09 L357.90,281.87 L358.30,281.86 L358.70,281.92 L359.10,282.29 L359.50,282.65 L359.90,282.54 L360.30,282.61 L360.70,282.93 L361.10,283.09 L361.50,283.09 L361.90,282.95 L362.30,283.44 L362.70,283.50 L363.10,283.65 L363.50,283.72 L363.90,283.09 L364.30,283.68 L364.70,283.49 L365.10,283.59 L365.50,283.75 L365.90,283.51 L366.30,283.65 L366.70,284.29 L367.10,283.82 L367.50,284.33 L367.90,284.20 L368.30,283.94 L368.70,283.99 L369.10,284.26 L369.50,284.38 L369.90,284.13 L370.30,283.94 L370.70,284.07 L371.10,284.65 L371.50,284.58 L371.90,284.11 L372.30,284.73 L372.70,284.55 L373.10,284.38 L373.50,284.86 L373.90,284.27 L374.30,284.27 L374.70,284.49 L375.10,284.83 L375.50,284.70 L375.90,284.67 L376.30,285.03 L376.70,284.64 L377.10,284.97 L377.50,284.36 L377.90,285.00 L378.30,284.52 L378.70,284.93 L379.10,285.09 L379.50,284.96 L379.90,284.92 L380.30,284.91 L380.70,285.08 L381.10,284.79 L381.50,284.69 L381.90,284.96 L382.30,284.94 L382.70,284.63 L383.10,284.97 L383.50,284.93 L383.90,284.69 L384.30,285.14 L384.70,285.21 L385.10,284.86 L385.50,285.29 L385.90,285.40 L386.30,285.15 L386.70,284.95 L387.10,284.85 L387.50,284.74 L387.90,284.86 L388.30,285.45 L388.70,284.70 L389.10,285.39 L389.50,285.22" fill="none" stroke="#d03a30" stroke-width="1.7" stroke-linejoin="round"/>
<path d="M322.30,288.89 L322.70,288.73 L323.10,288.70 L323.50,288.90 L323.90,288.74 L324.30,288.72 L324.70,288.83 L325.10,288.77 L325.50,288.88 L325.90,288.75 L326.30,288.89 L326.70,288.76 L327.10,288.82 L327.50,288.89 L327.90,288.84 L328.30,288.88 L328.70,288.84 L329.10,288.71 L329.50,288.88 L329.90,288.82 L330.30,288.76 L330.70,288.74 L331.10,288.87 L331.50,288.82 L331.90,288.89 L332.30,288.85 L332.70,288.89 L333.10,288.81 L333.50,288.84 L333.90,288.82 L334.30,288.75 L334.70,288.89 L335.10,288.76 L335.50,288.86 L335.90,288.89 L336.30,288.83 L336.70,288.73 L337.10,288.87 L337.50,288.83 L337.90,288.74 L338.30,288.71 L338.70,288.81 L339.10,288.71 L339.50,288.89 L339.90,288.80 L340.30,288.80 L340.70,288.78 L341.10,288.83 L341.50,288.88 L341.90,288.76 L342.30,288.77 L342.70,288.82 L343.10,288.76 L343.50,288.82 L343.90,288.81 L344.30,288.79 L344.70,288.83 L345.10,288.81 L345.50,288.72 L345.90,288.08 L346.30,286.78 L346.70,285.79 L347.10,284.75 L347.50,284.21 L347.90,283.33 L348.30,282.16 L348.70,281.35 L349.10,280.48 L349.50,280.60 L349.90,279.61 L350.30,279.63 L350.70,279.32 L351.10,279.32 L351.50,279.58 L351.90,279.67 L352.30,279.76 L352.70,280.37 L353.10,280.77 L353.50,280.84 L353.90,280.67 L354.30,281.24 L354.70,280.90 L355.10,281.35 L355.50,281.84 L355.90,282.06 L356.30,281.84 L356.70,282.28 L357.10,282.14 L357.50,282.29 L357.90,282.46 L358.30,282.90 L358.70,282.82 L359.10,282.71 L359.50,283.02 L359.90,283.05 L360.30,282.92 L360.70,283.35 L361.10,283.47 L361.50,283.39 L361.90,283.74 L362.30,283.08 L362.70,283.54 L363.10,283.72 L363.50,283.55 L363.90,283.49 L364.30,283.97 L364.70,283.82 L365.10,283.75 L365.50,283.63 L365.90,284.42 L366.30,283.98 L366.70,283.85 L367.10,283.97 L367.50,284.05 L367.90,284.59 L368.30,284.08 L368.70,284.20 L369.10,284.10 L369.50,284.43 L369.90,284.26 L370.30,284.40 L370.70,284.75 L371.10,284.94 L371.50,284.89 L371.90,284.29 L372.30,284.59 L372.70,284.99 L373.10,284.37 L373.50,284.53 L373.90,284.78 L374.30,284.72 L374.70,285.04 L375.10,285.04 L375.50,284.85 L375.90,284.70 L376.30,284.71 L376.70,284.75 L377.10,284.61 L377.50,285.11 L377.90,284.72 L378.30,285.32 L378.70,285.14 L379.10,284.68 L379.50,285.05 L379.90,285.15 L380.30,284.71 L380.70,285.08 L381.10,284.73 L381.50,285.33 L381.90,284.73 L382.30,285.24 L382.70,285.54 L383.10,285.43 L383.50,284.95 L383.90,285.20 L384.30,284.90 L384.70,285.07 L385.10,285.49 L385.50,285.46 L385.90,284.82 L386.30,285.13 L386.70,285.34 L387.10,284.98 L387.50,285.49 L387.90,285.56 L388.30,285.30 L388.70,285.15 L389.10,285.55 L389.50,285.28" fill="none" stroke="#802020" stroke-width="0.6" stroke-linejoin="round"/>
<path d="M398.80,289.22 L399.10,289.25 L399.40,289.25 L399.70,289.16 L400.00,289.01 L400.30,289.20 L400.60,289.45 L400.90,289.47 L401.20,289.15 L401.50,289.48 L401.80,289.02 L402.10,289.38 L402.40,289.13 L402.70,289.15 L403.00,289.21 L403.30,289.39 L403.60,289.18 L403.90,289.58 L404.20,289.47 L404.50,289.14 L404.80,289.18 L405.10,289.04 L405.40,289.44 L405.70,289.51 L406.00,289.55 L406.30,289.48 L406.60,289.37 L406.90,289.01 L407.20,289.14 L407.50,289.22 L407.80,289.40 L408.10,289.19 L408.40,289.57 L408.70,289.39 L409.00,289.14 L409.30,289.06 L409.60,289.01 L409.90,289.55 L410.20,289.41 L410.50,289.46 L410.80,289.38 L411.10,289.11 L411.40,289.32 L411.70,289.06 L412.00,289.23 L412.30,289.28 L412.60,289.28 L412.90,289.02 L413.20,289.40 L413.50,289.30 L413.80,289.13 L414.10,289.06 L414.40,289.26 L414.70,289.14 L415.00,289.53 L415.30,289.13 L415.60,289.40 L415.90,289.52 L416.20,289.26 L416.50,289.18 L416.80,289.07 L417.10,289.60 L417.40,289.30 L417.70,289.28 L418.00,289.30 L418.30,289.05 L418.60,289.40 L418.90,289.19 L419.20,289.48 L419.50,289.03 L419.80,288.28 L420.10,287.60 L420.40,286.68 L420.70,286.19 L421.00,284.61 L421.30,283.57 L421.60,282.67 L421.90,282.28 L422.20,282.94 L422.50,281.88 L422.80,282.17 L423.10,281.14 L423.40,281.34 L423.70,280.22 L424.00,279.62 L424.30,279.51 L424.60,279.60 L424.90,279.87 L425.20,279.87 L425.50,279.99 L425.80,280.06 L426.10,278.38 L426.40,278.59 L426.70,278.81 L427.00,279.45 L427.30,278.73 L427.60,279.06 L427.90,280.71 L428.20,279.97 L428.50,279.38 L428.80,280.21 L429.10,280.27 L429.40,281.26 L429.70,279.63 L430.00,279.89 L430.30,280.80 L430.60,281.34 L430.90,281.78 L431.20,280.22 L431.50,281.05 L431.80,281.31 L432.10,280.74 L432.40,281.45 L432.70,281.65 L433.00,281.00 L433.30,281.14 L433.60,281.29 L433.90,282.37 L434.20,281.96 L434.50,281.17 L434.80,282.36 L435.10,283.50 L435.40,282.72 L435.70,282.03 L436.00,282.40 L436.30,282.89 L436.60,281.69 L436.90,283.76 L437.20,282.31 L437.50,283.95 L437.80,282.30 L438.10,283.90 L438.40,282.54 L438.70,284.14 L439.00,280.70 L439.30,282.91 L439.60,283.06 L439.90,282.55 L440.20,282.93 L440.50,282.30 L440.80,284.44 L441.10,284.41 L441.40,284.06 L441.70,284.25 L442.00,284.28 L442.30,283.08 L442.60,283.35 L442.90,284.19 L443.20,282.90 L443.50,282.54 L443.80,281.48 L444.10,282.45 L444.40,283.29 L444.70,283.16 L445.00,282.86 L445.30,283.76 L445.60,284.08 L445.90,283.18 L446.20,283.60 L446.50,285.01 L446.80,284.26 L447.10,284.95 L447.40,283.90 L447.70,285.03 L448.00,284.91 L448.30,284.68 L448.60,283.77 L448.90,283.94 L449.20,281.50 L449.50,283.85 L449.80,284.30 L450.10,284.58 L450.40,282.60 L450.70,283.80 L451.00,284.14 L451.30,284.97 L451.60,283.98 L451.90,284.71 L452.20,282.68 L452.50,285.11 L452.80,283.51 L453.10,284.07 L453.40,283.56 L453.70,284.51 L454.00,283.39 L454.30,285.22 L454.60,283.65 L454.90,283.75 L455.20,285.30 L455.50,283.86 L455.80,282.98 L456.10,283.48 L456.40,285.12 L456.70,282.45 L457.00,283.74 L457.30,284.41 L457.60,285.01 L457.90,283.21 L458.20,284.78 L458.50,284.22 L458.80,285.55 L459.10,285.33 L459.40,285.35 L459.70,283.43 L460.00,285.50 L460.30,284.99 L460.60,285.37 L460.90,283.62 L461.20,285.00 L461.50,284.51 L461.80,284.26 L462.10,283.48 L462.40,285.17 L462.70,284.16 L463.00,285.21 L463.30,285.56 L463.60,283.28 L463.90,284.88 L464.20,283.02" fill="none" stroke="#8a9a40" stroke-width="1.1" stroke-linejoin="round"/>
<path d="M398.80,289.31 L399.10,289.42 L399.40,289.48 L399.70,289.22 L400.00,289.41 L400.30,289.38 L400.60,289.36 L400.90,289.14 L401.20,289.11 L401.50,289.25 L401.80,289.40 L402.10,289.20 L402.40,289.30 L402.70,289.23 L403.00,289.44 L403.30,289.48 L403.60,289.26 L403.90,289.50 L404.20,289.12 L404.50,289.43 L404.80,289.45 L405.10,289.16 L405.40,289.38 L405.70,289.32 L406.00,289.48 L406.30,289.18 L406.60,289.32 L406.90,289.45 L407.20,289.36 L407.50,289.22 L407.80,289.13 L408.10,289.48 L408.40,289.29 L408.70,289.50 L409.00,289.16 L409.30,289.42 L409.60,289.43 L409.90,289.47 L410.20,289.11 L410.50,289.25 L410.80,289.12 L411.10,289.40 L411.40,289.24 L411.70,289.48 L412.00,289.25 L412.30,289.41 L412.60,289.45 L412.90,289.20 L413.20,289.32 L413.50,289.48 L413.80,289.31 L414.10,289.24 L414.40,289.21 L414.70,289.41 L415.00,289.18 L415.30,289.34 L415.60,289.32 L415.90,289.32 L416.20,289.15 L416.50,289.36 L416.80,289.47 L417.10,289.23 L417.40,289.23 L417.70,289.46 L418.00,289.33 L418.30,289.21 L418.60,289.10 L418.90,289.40 L419.20,289.24 L419.50,289.29 L419.80,289.21 L420.10,289.35 L420.40,289.39 L420.70,288.76 L421.00,287.46 L421.30,288.23 L421.60,287.43 L421.90,285.34 L422.20,285.57 L422.50,285.15 L422.80,284.10 L423.10,284.07 L423.40,283.91 L423.70,282.83 L424.00,282.07 L424.30,281.35 L424.60,281.08 L424.90,280.61 L425.20,280.29 L425.50,280.24 L425.80,281.10 L426.10,280.51 L426.40,280.89 L426.70,281.16 L427.00,281.12 L427.30,280.03 L427.60,281.56 L427.90,280.35 L428.20,281.55 L428.50,281.78 L428.80,281.60 L429.10,281.30 L429.40,280.88 L429.70,281.00 L430.00,281.98 L430.30,281.44 L430.60,282.00 L430.90,281.66 L431.20,281.59 L431.50,281.88 L431.80,282.65 L432.10,282.35 L432.40,282.28 L432.70,282.50 L433.00,282.68 L433.30,282.69 L433.60,282.65 L433.90,283.55 L434.20,283.27 L434.50,282.50 L434.80,282.70 L435.10,282.56 L435.40,282.89 L435.70,282.41 L436.00,283.61 L436.30,283.38 L436.60,283.20 L436.90,284.00 L437.20,283.15 L437.50,283.59 L437.80,284.20 L438.10,283.65 L438.40,283.78 L438.70,283.43 L439.00,284.48 L439.30,284.13 L439.60,283.44 L439.90,283.56 L440.20,283.98 L440.50,283.90 L440.80,283.94 L441.10,283.44 L441.40,284.08 L441.70,284.32 L442.00,284.45 L442.30,283.97 L442.60,283.99 L442.90,284.11 L443.20,284.19 L443.50,284.12 L443.80,283.40 L444.10,283.83 L444.40,285.01 L444.70,284.78 L445.00,284.22 L445.30,284.70 L445.60,283.86 L445.90,283.97 L446.20,284.39 L446.50,284.70 L446.80,283.64 L447.10,284.37 L447.40,285.08 L447.70,284.63 L448.00,285.25 L448.30,283.84 L448.60,285.15 L448.90,285.05 L449.20,283.77 L449.50,284.60 L449.80,284.97 L450.10,284.12 L450.40,284.82 L450.70,285.15 L451.00,285.07 L451.30,284.50 L451.60,283.92 L451.90,284.70 L452.20,284.15 L452.50,284.72 L452.80,284.30 L453.10,284.43 L453.40,284.76 L453.70,285.21 L454.00,285.47 L454.30,284.56 L454.60,283.93 L454.90,285.13 L455.20,284.48 L455.50,285.16 L455.80,285.28 L456.10,284.02 L456.40,285.14 L456.70,284.43 L457.00,284.50 L457.30,284.52 L457.60,284.86 L457.90,284.39 L458.20,284.80 L458.50,284.47 L458.80,284.22 L459.10,284.42 L459.40,285.12 L459.70,284.53 L460.00,284.36 L460.30,284.63 L460.60,284.39 L460.90,285.63 L461.20,285.32 L461.50,284.30 L461.80,284.54 L462.10,284.77 L462.40,284.92 L462.70,284.70 L463.00,284.92 L463.30,285.30 L463.60,284.33 L463.90,284.99 L464.20,284.36" fill="none" stroke="#404a90" stroke-width="1.0" stroke-linejoin="round"/>
<path d="M398.80,289.11 L399.10,289.20 L399.40,289.29 L399.70,289.29 L400.00,289.16 L400.30,289.42 L400.60,289.40 L400.90,289.52 L401.20,289.14 L401.50,289.44 L401.80,289.12 L402.10,289.52 L402.40,289.13 L402.70,289.00 L403.00,289.13 L403.30,289.32 L403.60,289.32 L403.90,289.36 L404.20,289.07 L404.50,289.55 L404.80,289.41 L405.10,289.10 L405.40,289.41 L405.70,289.24 L406.00,289.06 L406.30,289.35 L406.60,289.20 L406.90,289.49 L407.20,289.05 L407.50,289.09 L407.80,289.39 L408.10,289.12 L408.40,289.38 L408.70,289.49 L409.00,289.32 L409.30,289.08 L409.60,289.53 L409.90,289.49 L410.20,289.25 L410.50,289.24 L410.80,289.09 L411.10,289.51 L411.40,289.08 L411.70,289.32 L412.00,289.34 L412.30,289.10 L412.60,289.39 L412.90,289.31 L413.20,289.28 L413.50,289.46 L413.80,289.25 L414.10,289.37 L414.40,289.25 L414.70,289.54 L415.00,289.10 L415.30,289.57 L415.60,289.18 L415.90,289.50 L416.20,289.46 L416.50,289.58 L416.80,289.56 L417.10,289.05 L417.40,289.42 L417.70,289.08 L418.00,289.35 L418.30,289.20 L418.60,289.56 L418.90,289.24 L419.20,289.31 L419.50,289.60 L419.80,289.56 L420.10,288.14 L420.40,287.40 L420.70,286.47 L421.00,286.25 L421.30,284.06 L421.60,285.01 L421.90,284.24 L422.20,281.81 L422.50,282.95 L422.80,282.51 L423.10,281.49 L423.40,280.44 L423.70,279.96 L424.00,280.16 L424.30,279.60 L424.60,277.78 L424.90,279.79 L425.20,279.27 L425.50,279.20 L425.80,278.96 L426.10,278.33 L426.40,279.27 L426.70,279.78 L427.00,278.25 L427.30,280.57 L427.60,279.14 L427.90,279.84 L428.20,278.58 L428.50,280.81 L428.80,280.50 L429.10,281.54 L429.40,280.55 L429.70,281.48 L430.00,280.02 L430.30,281.98 L430.60,280.28 L430.90,281.81 L431.20,279.99 L431.50,279.65 L431.80,281.28 L432.10,282.03 L432.40,280.92 L432.70,280.85 L433.00,281.25 L433.30,282.19 L433.60,282.77 L433.90,280.78 L434.20,280.92 L434.50,283.18 L434.80,281.13 L435.10,281.60 L435.40,282.19 L435.70,283.21 L436.00,281.97 L436.30,281.71 L436.60,281.79 L436.90,281.78 L437.20,283.35 L437.50,282.87 L437.80,283.45 L438.10,282.88 L438.40,283.35 L438.70,283.30 L439.00,283.10 L439.30,283.72 L439.60,282.41 L439.90,282.39 L440.20,282.87 L440.50,282.54 L440.80,283.56 L441.10,283.16 L441.40,282.70 L441.70,282.40 L442.00,283.01 L442.30,283.93 L442.60,283.33 L442.90,283.55 L443.20,284.60 L443.50,284.07 L443.80,283.21 L444.10,282.56 L444.40,282.46 L444.70,284.16 L445.00,283.18 L445.30,284.09 L445.60,284.58 L445.90,284.50 L446.20,284.80 L446.50,284.44 L446.80,283.89 L447.10,284.45 L447.40,283.09 L447.70,283.97 L448.00,284.52 L448.30,284.23 L448.60,283.50 L448.90,284.05 L449.20,283.07 L449.50,284.39 L449.80,284.53 L450.10,283.78 L450.40,284.70 L450.70,284.25 L451.00,285.04 L451.30,284.45 L451.60,282.94 L451.90,283.55 L452.20,283.29 L452.50,282.01 L452.80,285.05 L453.10,283.22 L453.40,284.27 L453.70,283.79 L454.00,284.22 L454.30,284.35 L454.60,283.86 L454.90,284.48 L455.20,283.40 L455.50,283.40 L455.80,283.71 L456.10,284.28 L456.40,284.18 L456.70,283.09 L457.00,284.72 L457.30,283.27 L457.60,284.40 L457.90,282.63 L458.20,285.30 L458.50,284.28 L458.80,283.94 L459.10,283.19 L459.40,284.48 L459.70,285.38 L460.00,284.62 L460.30,283.06 L460.60,284.90 L460.90,284.56 L461.20,285.06 L461.50,284.63 L461.80,283.49 L462.10,283.39 L462.40,284.07 L462.70,283.39 L463.00,284.17 L463.30,284.06 L463.60,285.44 L463.90,284.76 L464.20,283.99" fill="none" stroke="#c84030" stroke-width="1.0" stroke-linejoin="round"/>
<path d="M398.80,289.51 L399.10,289.52 L399.40,289.50 L399.70,289.09 L400.00,289.35 L400.30,289.26 L400.60,289.32 L400.90,289.12 L401.20,289.15 L401.50,289.27 L401.80,289.16 L402.10,289.28 L402.40,289.06 L402.70,289.09 L403.00,289.41 L403.30,289.26 L403.60,289.31 L403.90,289.42 L404.20,289.23 L404.50,289.08 L404.80,289.44 L405.10,289.34 L405.40,289.38 L405.70,289.36 L406.00,289.54 L406.30,289.23 L406.60,289.43 L406.90,289.23 L407.20,289.34 L407.50,289.38 L407.80,289.21 L408.10,289.09 L408.40,289.29 L408.70,289.41 L409.00,289.35 L409.30,289.27 L409.60,289.37 L409.90,289.14 L410.20,289.14 L410.50,289.21 L410.80,289.46 L411.10,289.15 L411.40,289.11 L411.70,289.10 L412.00,289.07 L412.30,289.19 L412.60,289.34 L412.90,289.46 L413.20,289.22 L413.50,289.23 L413.80,289.19 L414.10,289.20 L414.40,289.44 L414.70,289.32 L415.00,289.18 L415.30,289.10 L415.60,289.44 L415.90,289.40 L416.20,289.46 L416.50,289.17 L416.80,289.32 L417.10,289.51 L417.40,289.35 L417.70,289.52 L418.00,289.13 L418.30,289.54 L418.60,289.08 L418.90,289.26 L419.20,289.06 L419.50,289.45 L419.80,289.39 L420.10,289.54 L420.40,289.45 L420.70,288.98 L421.00,288.03 L421.30,288.12 L421.60,286.86 L421.90,285.29 L422.20,285.82 L422.50,283.92 L422.80,282.89 L423.10,282.03 L423.40,282.23 L423.70,281.17 L424.00,282.18 L424.30,281.80 L424.60,279.98 L424.90,279.47 L425.20,280.10 L425.50,279.24 L425.80,279.90 L426.10,280.48 L426.40,279.51 L426.70,279.99 L427.00,281.09 L427.30,280.31 L427.60,280.24 L427.90,281.47 L428.20,281.43 L428.50,281.72 L428.80,281.42 L429.10,280.98 L429.40,281.66 L429.70,282.04 L430.00,281.76 L430.30,281.06 L430.60,281.27 L430.90,281.59 L431.20,282.41 L431.50,282.07 L431.80,282.14 L432.10,282.78 L432.40,281.43 L432.70,282.55 L433.00,282.03 L433.30,282.56 L433.60,283.19 L433.90,282.08 L434.20,283.56 L434.50,281.88 L434.80,282.91 L435.10,282.93 L435.40,282.38 L435.70,283.09 L436.00,282.97 L436.30,282.98 L436.60,283.57 L436.90,282.19 L437.20,282.99 L437.50,283.86 L437.80,282.62 L438.10,284.11 L438.40,282.83 L438.70,283.83 L439.00,282.86 L439.30,283.45 L439.60,283.44 L439.90,282.79 L440.20,284.07 L440.50,283.66 L440.80,284.12 L441.10,283.85 L441.40,283.92 L441.70,283.89 L442.00,283.47 L442.30,284.70 L442.60,283.10 L442.90,284.71 L443.20,284.71 L443.50,284.01 L443.80,284.59 L444.10,284.41 L444.40,284.30 L444.70,283.70 L445.00,283.78 L445.30,283.86 L445.60,283.79 L445.90,285.12 L446.20,283.91 L446.50,284.02 L446.80,284.10 L447.10,284.91 L447.40,284.26 L447.70,284.43 L448.00,283.85 L448.30,283.91 L448.60,283.55 L448.90,283.82 L449.20,283.93 L449.50,285.12 L449.80,284.43 L450.10,283.66 L450.40,284.38 L450.70,283.71 L451.00,284.61 L451.30,284.38 L451.60,285.22 L451.90,284.04 L452.20,285.23 L452.50,284.03 L452.80,285.52 L453.10,284.83 L453.40,283.66 L453.70,285.19 L454.00,284.14 L454.30,284.32 L454.60,283.90 L454.90,285.29 L455.20,283.81 L455.50,285.11 L455.80,284.43 L456.10,285.01 L456.40,284.24 L456.70,283.82 L457.00,285.50 L457.30,284.99 L457.60,284.02 L457.90,285.64 L458.20,285.52 L458.50,284.07 L458.80,283.75 L459.10,284.94 L459.40,284.00 L459.70,285.19 L460.00,284.67 L460.30,285.15 L460.60,284.88 L460.90,285.29 L461.20,285.39 L461.50,284.96 L461.80,284.94 L462.10,284.42 L462.40,284.03 L462.70,283.96 L463.00,285.49 L463.30,284.19 L463.60,284.63 L463.90,284.42 L464.20,285.03" fill="none" stroke="#3a2a20" stroke-width="0.7" stroke-linejoin="round"/>
<path d="M398.80,289.40 L399.10,289.45 L399.40,289.16 L399.70,289.52 L400.00,289.16 L400.30,289.38 L400.60,289.12 L400.90,289.42 L401.20,289.14 L401.50,289.39 L401.80,289.40 L402.10,289.42 L402.40,289.27 L402.70,289.46 L403.00,289.52 L403.30,289.13 L403.60,289.31 L403.90,289.51 L404.20,289.41 L404.50,289.27 L404.80,289.21 L405.10,289.50 L405.40,289.11 L405.70,289.42 L406.00,289.45 L406.30,289.15 L406.60,289.22 L406.90,289.21 L407.20,289.32 L407.50,289.24 L407.80,289.48 L408.10,289.49 L408.40,289.22 L408.70,289.48 L409.00,289.11 L409.30,289.12 L409.60,289.37 L409.90,289.43 L410.20,289.44 L410.50,289.52 L410.80,289.46 L411.10,289.19 L411.40,289.41 L411.70,289.49 L412.00,289.12 L412.30,289.30 L412.60,289.14 L412.90,289.14 L413.20,289.29 L413.50,289.38 L413.80,289.51 L414.10,289.13 L414.40,289.30 L414.70,289.52 L415.00,289.42 L415.30,289.31 L415.60,289.18 L415.90,289.36 L416.20,289.19 L416.50,289.36 L416.80,289.37 L417.10,289.25 L417.40,289.43 L417.70,289.26 L418.00,289.29 L418.30,289.45 L418.60,289.19 L418.90,289.16 L419.20,289.33 L419.50,289.27 L419.80,289.47 L420.10,289.19 L420.40,289.24 L420.70,289.10 L421.00,289.21 L421.30,288.31 L421.60,287.91 L421.90,287.84 L422.20,285.90 L422.50,287.00 L422.80,285.91 L423.10,285.52 L423.40,284.49 L423.70,284.05 L424.00,283.27 L424.30,282.80 L424.60,282.08 L424.90,281.87 L425.20,281.53 L425.50,281.34 L425.80,282.14 L426.10,281.77 L426.40,281.36 L426.70,280.16 L427.00,280.57 L427.30,281.20 L427.60,281.59 L427.90,281.22 L428.20,281.71 L428.50,282.31 L428.80,281.27 L429.10,281.58 L429.40,282.36 L429.70,281.67 L430.00,282.49 L430.30,282.00 L430.60,281.40 L430.90,282.29 L431.20,281.66 L431.50,283.03 L431.80,283.22 L432.10,282.73 L432.40,283.47 L432.70,282.31 L433.00,282.80 L433.30,282.38 L433.60,282.22 L433.90,283.68 L434.20,282.35 L434.50,284.00 L434.80,283.38 L435.10,283.69 L435.40,282.58 L435.70,284.17 L436.00,284.02 L436.30,282.83 L436.60,283.02 L436.90,282.99 L437.20,283.69 L437.50,282.97 L437.80,284.31 L438.10,283.81 L438.40,284.22 L438.70,283.45 L439.00,284.21 L439.30,283.89 L439.60,284.28 L439.90,283.88 L440.20,284.96 L440.50,284.73 L440.80,284.74 L441.10,283.89 L441.40,283.65 L441.70,283.61 L442.00,283.60 L442.30,285.13 L442.60,283.93 L442.90,285.01 L443.20,283.89 L443.50,284.61 L443.80,283.97 L444.10,284.09 L444.40,284.91 L444.70,284.68 L445.00,285.31 L445.30,284.05 L445.60,284.13 L445.90,283.78 L446.20,284.07 L446.50,285.47 L446.80,284.73 L447.10,284.59 L447.40,284.37 L447.70,285.14 L448.00,285.03 L448.30,284.08 L448.60,283.90 L448.90,284.14 L449.20,285.31 L449.50,285.18 L449.80,284.28 L450.10,284.30 L450.40,284.45 L450.70,285.13 L451.00,285.27 L451.30,284.36 L451.60,284.53 L451.90,284.38 L452.20,285.66 L452.50,284.97 L452.80,285.67 L453.10,284.43 L453.40,285.14 L453.70,285.03 L454.00,285.70 L454.30,284.68 L454.60,284.45 L454.90,285.51 L455.20,285.76 L455.50,284.97 L455.80,284.66 L456.10,284.22 L456.40,284.88 L456.70,285.75 L457.00,284.73 L457.30,284.90 L457.60,285.12 L457.90,284.54 L458.20,284.31 L458.50,285.05 L458.80,285.87 L459.10,285.70 L459.40,284.68 L459.70,285.55 L460.00,285.64 L460.30,285.20 L460.60,284.80 L460.90,284.51 L461.20,285.43 L461.50,285.40 L461.80,284.56 L462.10,284.43 L462.40,284.38 L462.70,285.67 L463.00,285.78 L463.30,285.12 L463.60,285.29 L463.90,285.47 L464.20,284.48" fill="none" stroke="#605048" stroke-width="0.8" stroke-linejoin="round"/>
<path d="M398.80,289.30 L399.30,289.30 L399.80,289.30 L400.30,289.30 L400.80,289.30 L401.30,289.30 L401.80,289.30 L402.30,289.30 L402.80,289.30 L403.30,289.30 L403.80,289.30 L404.30,289.30 L404.80,289.30 L405.30,289.30 L405.80,289.30 L406.30,289.30 L406.80,289.30 L407.30,289.30 L407.80,289.30 L408.30,289.30 L408.80,289.30 L409.30,289.30 L409.80,289.30 L410.30,289.30 L410.80,289.30 L411.30,289.30 L411.80,289.30 L412.30,289.30 L412.80,289.30 L413.30,289.30 L413.80,289.30 L414.30,289.30 L414.80,289.30 L415.30,289.30 L415.80,289.30 L416.30,289.30 L416.80,289.30 L417.30,289.30 L417.80,289.30 L418.30,289.30 L418.80,289.30 L419.30,289.30 L419.80,289.30 L420.30,289.30" fill="none" stroke="#404a90" stroke-width="1.0" stroke-linejoin="round"/>
<line x1="314.1" y1="271.5" x2="320.70000000000005" y2="271.5" stroke="#222" stroke-width="1.6"/>
<line x1="314.1" y1="277.6" x2="320.70000000000005" y2="277.6" stroke="#222" stroke-width="1.6"/>
<line x1="314.1" y1="283" x2="320.70000000000005" y2="283" stroke="#222" stroke-width="1.6"/>
<line x1="314.1" y1="288.8" x2="320.70000000000005" y2="288.8" stroke="#222" stroke-width="1.6"/>
<line x1="314.1" y1="294.5" x2="320.70000000000005" y2="294.5" stroke="#222" stroke-width="1.6"/>
<text x="308.5" y="303.7" font-size="6.6" font-weight="bold" text-anchor="start" fill="#111" transform="rotate(-90 308.5 303.7)">Ca2+</text>
<text x="308.5" y="266.9" font-size="6.6" font-weight="bold" text-anchor="end" fill="#111" transform="rotate(-90 308.5 266.9)">influx</text>
<line x1="311.0" y1="302" x2="311.0" y2="295.9" stroke="#111" stroke-width="1.0"/>
<path d="M308.9,296.5 L311.0,292.9 L313.1,296.5 Z" fill="#111" stroke="none" stroke-width="1"/>
<line x1="310.5" y1="302" x2="339" y2="302" stroke="#111" stroke-width="1.0"/>
<path d="M338.4,299.9 L342,302 L338.4,304.1 Z" fill="#111" stroke="none" stroke-width="1"/>
<line x1="335.0" y1="297.3" x2="338.6" y2="297.3" stroke="#222" stroke-width="1.3"/>
<line x1="348.8" y1="297.3" x2="352.40000000000003" y2="297.3" stroke="#222" stroke-width="1.3"/>
<line x1="362.5" y1="297.3" x2="366.1" y2="297.3" stroke="#222" stroke-width="1.3"/>
<line x1="376.2" y1="297.3" x2="379.8" y2="297.3" stroke="#222" stroke-width="1.3"/>
<text x="345.3" y="305.6" font-size="6.8" font-weight="bold" text-anchor="start" fill="#111">time (sec)</text>
<text x="470.4" y="284.4" font-size="7.0" font-weight="bold" text-anchor="start" fill="#111" textLength="26.2" lengthAdjust="spacingAndGlyphs">anti-κLC</text>
</svg>
</body></html>
